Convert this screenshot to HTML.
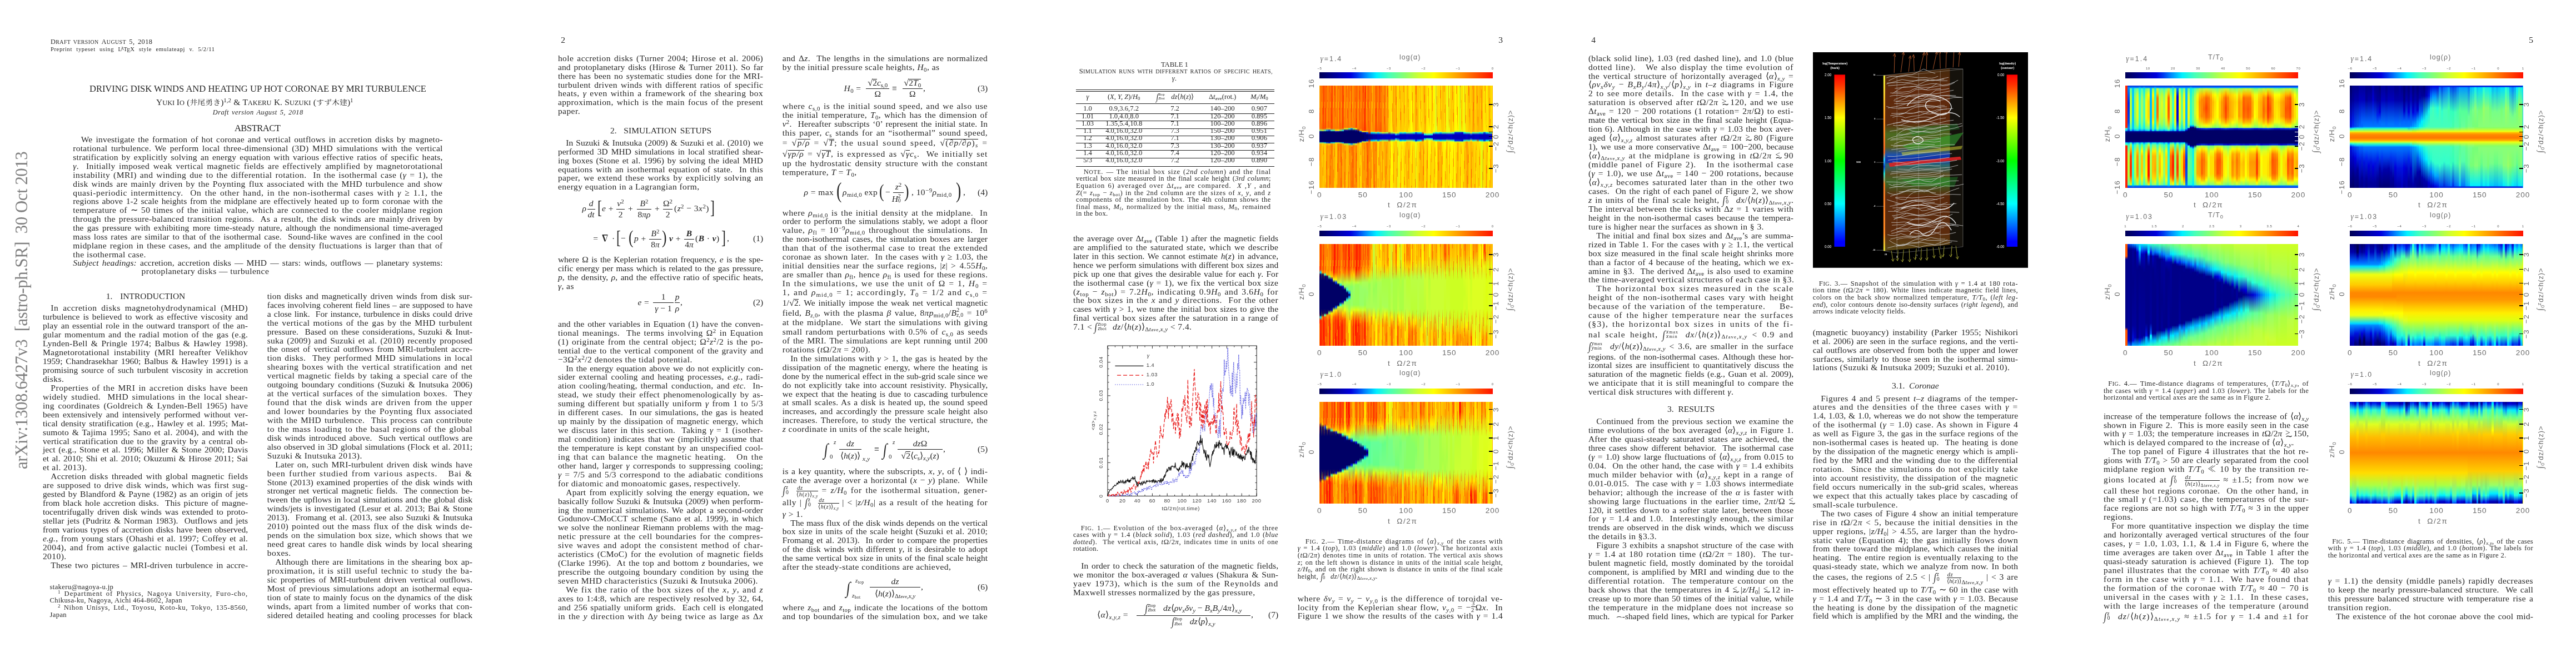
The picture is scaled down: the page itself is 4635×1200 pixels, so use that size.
<!DOCTYPE html>
<html><head><meta charset="utf-8"><title>Driving disk winds</title><style>
html,body{margin:0;padding:0}
body{width:4635px;height:1200px;overflow:hidden;position:relative;background:#fff;font-family:"Liberation Serif","Noto Serif CJK JP",serif;color:#262626}
#pg{position:absolute;left:0;top:0;width:4635px;height:1200px;will-change:transform}
.l{position:absolute;white-space:nowrap;line-height:1.15}
.j{text-align:justify;text-align-last:justify}
.a{position:absolute;white-space:nowrap}
.r{letter-spacing:.029em}
.sc{font-size:.8em}
.cjk{font-family:"Noto Serif CJK JP",serif;font-size:.9em;display:inline-block;transform:scaleY(.86);transform-origin:50% 78%}
sup,sub{font-size:.7em;line-height:0}
sup{vertical-align:.45em} sub{vertical-align:-.25em}
i{font-style:italic}
.ft{position:absolute;white-space:nowrap;font-family:"Liberation Sans",sans-serif;line-height:1}
.ft sub,.ft sup{font-size:.75em}
.hm{position:absolute;display:flex;overflow:hidden}
.hm b{flex:1 1 0;display:block;height:100%}
.hm i{position:absolute;left:0;width:100%;display:block}
.cb{position:absolute}

.rt{font-size:1.05em}
.gs{display:inline-block;position:relative;line-height:1;top:-.15em}
.gs span{position:absolute;left:0;top:.42em}
.ov{background:linear-gradient(#222,#222) 0 .1em/100% 1px no-repeat}
.ss{display:inline-block;position:relative;width:.9em;height:1em;vertical-align:baseline;font-size:.9em}
.ss sup{position:absolute;left:0;top:-.1em;line-height:1;vertical-align:baseline}
.ss sub{position:absolute;left:0;top:.75em;line-height:1;vertical-align:baseline}
.si{display:inline-block;font-size:1.3em;line-height:0;transform:scaleX(.8) skewX(-8deg);position:relative;top:.1em}
.sf{display:inline-block;margin:-.9em 0;vertical-align:-.55em;text-align:center;font-size:.68em;line-height:1.05}
.sf .n{display:block;border-bottom:1px solid #222;padding:0 1px}
.sf .d{display:block}

</style></head><body><div id="pg">
<div id="stamp" style="position:absolute;left:49.6px;top:844px;width:570px;transform-origin:0 0;transform:rotate(-90deg);white-space:nowrap;font:30.8px 'Liberation Serif',serif;color:#7f7f7f;line-height:1;letter-spacing:-0.42px;text-align:justify;text-align-last:justify"><div style="position:relative;top:-25.8px;text-align:justify;text-align-last:justify">arXiv:1308.6427v3&nbsp; [astro-ph.SR]&nbsp; 30 Oct 2013</div></div>
<div class="l j" style="left: 90.9px; top: 68.4px; font-size: 12.4px; width: 183.5px; letter-spacing: 0.431px;">D<span class="sc">RAFT VERSION </span>A<span class="sc">UGUST</span> 5, 2018</div>
<div class="l j" style="left: 90.9px; top: 83px; font-size: 10.6px; width: 295.9px; letter-spacing: 0.628px;">Preprint typeset using L<span style="font-size:.72em;position:relative;top:-.22em;margin-left:-.3em">A</span><span style="margin-left:-.1em">T</span><span style="position:relative;top:.2em;margin-left:-.12em">E</span><span style="margin-left:-.1em">X</span> style emulateapj v. 5/2/11</div>
<div class="l j" style="left: 161px; top: 149.6px; font-size: 16.6px; width: 605.9px; letter-spacing: -0.074px;">DRIVING DISK WINDS AND HEATING UP HOT CORONAE BY MRI TURBULENCE</div>
<div class="l j" style="left: 281px; top: 175.1px; font-size: 15.5px; width: 354.5px;">Y<span class="sc">UKI </span>I<span class="sc">O</span> (<span class="cjk">井尾勇き</span>)<sup>1,2</sup> &amp; T<span class="sc">AKERU</span> K. S<span class="sc">UZUKI</span> (<span class="cjk">すず木建</span>)<sup>1</sup></div>
<div class="l j" style="left: 382.8px; top: 195px; font-size: 12.4px; width: 162.8px; letter-spacing: 0.439px;"><i>Draft version August 5, 2018</i></div>
<div class="l j" style="left: 421.9px; top: 220.7px; font-size: 16.6px; width: 84.1px; letter-spacing: -0.509px;">ABSTRACT</div>
<div class="l j" style="left: 145.7px; top: 242.3px; font-size: 15.5px; width: 650.9px; letter-spacing: 0.245px;">We investigate the formation of hot coronae and vertical outflows in accretion disks by magneto-</div>
<div class="l j" style="left: 131.3px; top: 258.1px; font-size: 15.5px; width: 665.3px; letter-spacing: 0.266px;">rotational turbulence. We perform local three-dimensional (3D) MHD simulations with the vertical</div>
<div class="l j" style="left: 131.3px; top: 274px; font-size: 15.5px; width: 665.3px; letter-spacing: 0.212px;">stratification by explicitly solving an energy equation with various effective ratios of specific heats,</div>
<div class="l j" style="left: 131.3px; top: 289.9px; font-size: 15.5px; width: 665.3px; letter-spacing: 0.384px;"><i>γ</i>.&nbsp; Initially imposed weak vertical magnetic fields are effectively amplified by magnetorotational</div>
<div class="l j" style="left: 131.3px; top: 305.8px; font-size: 15.5px; width: 665.3px; letter-spacing: 0.443px;">instability (MRI) and winding due to the differential rotation.&nbsp; In the isothermal case (<i>γ</i> = 1), the</div>
<div class="l j" style="left: 131.3px; top: 321.7px; font-size: 15.5px; width: 665.3px; letter-spacing: 0.364px;">disk winds are mainly driven by the Poynting flux associated with the MHD turbulence and show</div>
<div class="l j" style="left: 131.3px; top: 337.5px; font-size: 15.5px; width: 665.3px; letter-spacing: 0.639px;">quasi-periodic intermittency.&nbsp; On the other hand, in the non-isothermal cases with <i>γ</i> ≥ 1.1, the</div>
<div class="l j" style="left: 131.3px; top: 353.4px; font-size: 15.5px; width: 665.3px; letter-spacing: 0.123px;">regions above 1-2 scale heights from the midplane are effectively heated up to form coronae with the</div>
<div class="l j" style="left: 131.3px; top: 369.3px; font-size: 15.5px; width: 665.3px; letter-spacing: 0.367px;">temperature of ∼ 50 times of the initial value, which are connected to the cooler midplane region</div>
<div class="l j" style="left: 131.3px; top: 385.2px; font-size: 15.5px; width: 665.3px; letter-spacing: 0.334px;">through the pressure-balanced transition regions.&nbsp; As a result, the disk winds are mainly driven by</div>
<div class="l j" style="left: 131.3px; top: 401.1px; font-size: 15.5px; width: 665.3px; letter-spacing: 0.069px;">the gas pressure with exhibiting more time-steady nature, although the nondimensional time-averaged</div>
<div class="l j" style="left: 131.3px; top: 416.9px; font-size: 15.5px; width: 665.3px; letter-spacing: 0.214px;">mass loss rates are similar to that of the isothermal case.&nbsp; Sound-like waves are confined in the cool</div>
<div class="l j" style="left: 131.3px; top: 432.8px; font-size: 15.5px; width: 665.3px; letter-spacing: 0.368px;">midplane region in these cases, and the amplitude of the density fluctuations is larger than that of</div>
<div class="l r" style="left:131.3px;top:448.7px;font-size:15.5px;">the isothermal case.</div>
<div class="l j" style="left: 131.3px; top: 463.5px; font-size: 15.5px; width: 665.3px; letter-spacing: 0.111px;"><i>Subject headings:</i> accretion, accretion disks — MHD — stars: winds, outflows — planetary systems:</div>
<div class="l r" style="left:254.6px;top:479.3px;font-size:15.5px;">protoplanetary disks — turbulence</div>
<div class="l j" style="left: 190.7px; top: 523.8px; font-size: 15.5px; width: 142.6px;">1.&nbsp; INTRODUCTION</div>
<div class="l j" style="left: 91.3px; top: 545.4px; font-size: 15.5px; width: 354.9px; letter-spacing: 0.501px;">In accretion disks magnetohydrodynamical (MHD)</div>
<div class="l j" style="left: 76.9px; top: 561.3px; font-size: 15.5px; width: 369.3px; letter-spacing: 0.123px;">turbulence is believed to work as effective viscosity and</div>
<div class="l j" style="left: 76.9px; top: 577.2px; font-size: 15.5px; width: 369.3px; letter-spacing: 0.146px;">play an essential role in the outward transport of the an-</div>
<div class="l j" style="left: 76.9px; top: 593.2px; font-size: 15.5px; width: 369.3px; letter-spacing: 0.314px;">gular momentum and the radial motion of the gas (e.g.</div>
<div class="l j" style="left: 76.9px; top: 609.1px; font-size: 15.5px; width: 369.3px; letter-spacing: 0.288px;">Lynden-Bell &amp; Pringle 1974; Balbus &amp; Hawley 1998).</div>
<div class="l j" style="left: 76.9px; top: 625.1px; font-size: 15.5px; width: 369.3px; letter-spacing: 0.327px;">Magnetorotational instability (MRI hereafter Velikhov</div>
<div class="l j" style="left: 76.9px; top: 641px; font-size: 15.5px; width: 369.3px; letter-spacing: 0.062px;">1959; Chandrasekhar 1960; Balbus &amp; Hawley 1991) is a</div>
<div class="l j" style="left: 76.9px; top: 656.9px; font-size: 15.5px; width: 369.3px; letter-spacing: 0.05px;">promising source of such turbulent viscosity in accretion</div>
<div class="l r" style="left:76.9px;top:672.9px;font-size:15.5px;">disks.</div>
<div class="l j" style="left: 91.3px; top: 688.8px; font-size: 15.5px; width: 354.9px; letter-spacing: 0.53px;">Properties of the MRI in accretion disks have been</div>
<div class="l j" style="left: 76.9px; top: 704.8px; font-size: 15.5px; width: 369.3px; letter-spacing: 0.507px;">widely studied.&nbsp; MHD simulations in the local shear-</div>
<div class="l j" style="left: 76.9px; top: 720.7px; font-size: 15.5px; width: 369.3px; letter-spacing: 0.351px;">ing coordinates (Goldreich &amp; Lynden-Bell 1965) have</div>
<div class="l j" style="left: 76.9px; top: 736.6px; font-size: 15.5px; width: 369.3px; letter-spacing: 0.081px;">been extensively and intensively performed without ver-</div>
<div class="l j" style="left: 76.9px; top: 752.6px; font-size: 15.5px; width: 369.3px; letter-spacing: 0.041px;">tical density stratification (e.g., Hawley et al. 1995; Mat-</div>
<div class="l j" style="left: 76.9px; top: 768.5px; font-size: 15.5px; width: 369.3px; letter-spacing: 0.266px;">sumoto &amp; Tajima 1995; Sano et al. 2004), and with the</div>
<div class="l j" style="left: 76.9px; top: 784.5px; font-size: 15.5px; width: 369.3px; letter-spacing: 0.209px;">vertical stratification due to the gravity by a central ob-</div>
<div class="l j" style="left: 76.9px; top: 800.4px; font-size: 15.5px; width: 369.3px; letter-spacing: 0.132px;">ject (e.g., Stone et al. 1996; Miller &amp; Stone 2000; Davis</div>
<div class="l j" style="left: 76.9px; top: 816.3px; font-size: 15.5px; width: 369.3px; letter-spacing: 0.045px;">et al. 2010; Shi et al. 2010; Okuzumi &amp; Hirose 2011; Sai</div>
<div class="l r" style="left:76.9px;top:832.3px;font-size:15.5px;">et al. 2013).</div>
<div class="l j" style="left: 91.3px; top: 848.2px; font-size: 15.5px; width: 354.9px; letter-spacing: 0.261px;">Accretion disks threaded with global magnetic fields</div>
<div class="l j" style="left: 76.9px; top: 864.2px; font-size: 15.5px; width: 369.3px; letter-spacing: 0.347px;">are supposed to drive disk winds, which was first sug-</div>
<div class="l j" style="left: 76.9px; top: 880.1px; font-size: 15.5px; width: 369.3px; letter-spacing: 0.137px;">gested by Blandford &amp; Payne (1982) as an origin of jets</div>
<div class="l j" style="left: 76.9px; top: 896px; font-size: 15.5px; width: 369.3px; letter-spacing: 0.126px;">from black hole accretion disks.&nbsp; This picture of magne-</div>
<div class="l j" style="left: 76.9px; top: 912px; font-size: 15.5px; width: 369.3px; letter-spacing: 0.066px;">tocentrifugally driven disk winds was extended to proto-</div>
<div class="l j" style="left: 76.9px; top: 927.9px; font-size: 15.5px; width: 369.3px; letter-spacing: 0.104px;">stellar jets (Pudritz &amp; Norman 1983).&nbsp; Outflows and jets</div>
<div class="l j" style="left: 76.9px; top: 943.9px; font-size: 15.5px; width: 369.3px;">from various types of accretion disks have been observed,</div>
<div class="l j" style="left: 76.9px; top: 959.8px; font-size: 15.5px; width: 369.3px; letter-spacing: 0.221px;"><i>e.g.</i>, from young stars (Ohashi et al. 1997; Coffey et al.</div>
<div class="l j" style="left: 76.9px; top: 975.7px; font-size: 15.5px; width: 369.3px; letter-spacing: 0.432px;">2004), and from active galactic nuclei (Tombesi et al.</div>
<div class="l r" style="left:76.9px;top:991.7px;font-size:15.5px;">2010).</div>
<div class="l j" style="left: 91.3px; top: 1007.6px; font-size: 15.5px; width: 354.9px; letter-spacing: 0.137px;">These two pictures – MRI-driven turbulence in accre-</div>
<div class="l j" style="left: 480.8px; top: 523.8px; font-size: 15.5px; width: 369.3px; letter-spacing: 0.158px;">tion disks and magnetically driven winds from disk sur-</div>
<div class="l j" style="left: 480.8px; top: 539.7px; font-size: 15.5px; width: 369.3px;">faces involving coherent field lines – are supposed to have</div>
<div class="l j" style="left: 480.8px; top: 555.6px; font-size: 15.5px; width: 369.3px;">a close link.&nbsp; For instance, turbulence in disks could drive</div>
<div class="l j" style="left: 480.8px; top: 571.6px; font-size: 15.5px; width: 369.3px; letter-spacing: 0.485px;">the vertical motions of the gas by the MHD turbulent</div>
<div class="l j" style="left: 480.8px; top: 587.5px; font-size: 15.5px; width: 369.3px; letter-spacing: 0.074px;">pressure.&nbsp; Based on these considerations, Suzuki &amp; Inut-</div>
<div class="l j" style="left: 480.8px; top: 603.5px; font-size: 15.5px; width: 369.3px; letter-spacing: 0.26px;">suka (2009) and Suzuki et al. (2010) recently proposed</div>
<div class="l j" style="left: 480.8px; top: 619.4px; font-size: 15.5px; width: 369.3px; letter-spacing: 0.082px;">the onset of vertical outflows from MRl-turbulent accre-</div>
<div class="l j" style="left: 480.8px; top: 635.3px; font-size: 15.5px; width: 369.3px; letter-spacing: 0.341px;">tion disks.&nbsp; They performed MHD simulations in local</div>
<div class="l j" style="left: 480.8px; top: 651.3px; font-size: 15.5px; width: 369.3px; letter-spacing: 0.475px;">shearing boxes with the vertical stratification and net</div>
<div class="l j" style="left: 480.8px; top: 667.2px; font-size: 15.5px; width: 369.3px; letter-spacing: 0.359px;">vertical magnetic fields by taking a special care of the</div>
<div class="l j" style="left: 480.8px; top: 683.2px; font-size: 15.5px; width: 369.3px; letter-spacing: 0.061px;">outgoing boundary conditions (Suzuki &amp; Inutsuka 2006)</div>
<div class="l j" style="left: 480.8px; top: 699.1px; font-size: 15.5px; width: 369.3px; letter-spacing: 0.425px;">at the vertical surfaces of the simulation boxes.&nbsp; They</div>
<div class="l j" style="left: 480.8px; top: 715px; font-size: 15.5px; width: 369.3px; letter-spacing: 0.697px;">found that the disk winds are driven from the upper</div>
<div class="l j" style="left: 480.8px; top: 731px; font-size: 15.5px; width: 369.3px; letter-spacing: 0.435px;">and lower boundaries by the Poynting flux associated</div>
<div class="l j" style="left: 480.8px; top: 746.9px; font-size: 15.5px; width: 369.3px; letter-spacing: 0.254px;">with the MHD turbulence.&nbsp; This process can contribute</div>
<div class="l j" style="left: 480.8px; top: 762.9px; font-size: 15.5px; width: 369.3px; letter-spacing: 0.523px;">to the mass loading to the basal regions of the global</div>
<div class="l j" style="left: 480.8px; top: 778.8px; font-size: 15.5px; width: 369.3px; letter-spacing: 0.051px;">disk winds introduced above.&nbsp; Such vertical outflows are</div>
<div class="l j" style="left: 480.8px; top: 794.7px; font-size: 15.5px; width: 369.3px;">also observed in 3D global simulations (Flock et al. 2011;</div>
<div class="l r" style="left:480.8px;top:810.7px;font-size:15.5px;">Suzuki &amp; Inutsuka 2013).</div>
<div class="l j" style="left: 495.2px; top: 826.6px; font-size: 15.5px; width: 354.9px; letter-spacing: 0.215px;">Later on, such MRI-turbulent driven disk winds have</div>
<div class="l j" style="left: 480.8px; top: 842.6px; font-size: 15.5px; width: 369.3px; letter-spacing: 0.909px;">been further studied from various aspects.&nbsp;&nbsp; Bai &amp;</div>
<div class="l j" style="left: 480.8px; top: 858.5px; font-size: 15.5px; width: 369.3px; letter-spacing: 0.043px;">Stone (2013) examined properties of the disk winds with</div>
<div class="l j" style="left: 480.8px; top: 874.4px; font-size: 15.5px; width: 369.3px;">stronger net vertical magnetic fields.&nbsp; The connection be-</div>
<div class="l j" style="left: 480.8px; top: 890.4px; font-size: 15.5px; width: 369.3px;">tween the upflows in local simulations and the global disk</div>
<div class="l j" style="left: 480.8px; top: 906.3px; font-size: 15.5px; width: 369.3px;">winds/jets is investigated (Lesur et al. 2013; Bai &amp; Stone</div>
<div class="l j" style="left: 480.8px; top: 922.3px; font-size: 15.5px; width: 369.3px;">2013).&nbsp; Fromang et al. (2013, see also Suzuki &amp; Inutsuka</div>
<div class="l j" style="left: 480.8px; top: 938.2px; font-size: 15.5px; width: 369.3px; letter-spacing: 0.451px;">2010) pointed out the mass flux of the disk winds de-</div>
<div class="l j" style="left: 480.8px; top: 954.1px; font-size: 15.5px; width: 369.3px; letter-spacing: 0.272px;">pends on the simulation box size, which shows that we</div>
<div class="l j" style="left: 480.8px; top: 970.1px; font-size: 15.5px; width: 369.3px; letter-spacing: 0.24px;">need great cares to handle disk winds by local shearing</div>
<div class="l r" style="left:480.8px;top:986.0px;font-size:15.5px;">boxes.</div>
<div class="l j" style="left: 495.2px; top: 1002px; font-size: 15.5px; width: 354.9px; letter-spacing: 0.155px;">Although there are limitations in the shearing box ap-</div>
<div class="l j" style="left: 480.8px; top: 1017.9px; font-size: 15.5px; width: 369.3px; letter-spacing: 0.55px;">proximation, it is still useful technic to study the ba-</div>
<div class="l j" style="left: 480.8px; top: 1033.8px; font-size: 15.5px; width: 369.3px; letter-spacing: 0.08px;">sic properties of MRI-turbulent driven vertical outflows.</div>
<div class="l j" style="left: 480.8px; top: 1049.8px; font-size: 15.5px; width: 369.3px; letter-spacing: 0.164px;">Most of previous simulations adopt an isothermal equa-</div>
<div class="l j" style="left: 480.8px; top: 1065.7px; font-size: 15.5px; width: 369.3px; letter-spacing: 0.11px;">tion of state to mainly focus on the dynamics of the disk</div>
<div class="l j" style="left: 480.8px; top: 1081.7px; font-size: 15.5px; width: 369.3px; letter-spacing: 0.338px;">winds, apart from a limited number of works that con-</div>
<div class="l j" style="left: 480.8px; top: 1097.6px; font-size: 15.5px; width: 369.3px; letter-spacing: 0.144px;">sidered detailed heating and cooling processes for black</div>
<div class="l r" style="left:89.5px;top:1048.6px;font-size:12.6px;">stakeru@nagoya-u.jp</div>
<div class="l j" style="left: 103.9px; top: 1061.2px; font-size: 12.6px; width: 342.3px; letter-spacing: 0.939px;"><sup>1</sup> Department of Physics, Nagoya University, Furo-cho,</div>
<div class="l r" style="left:89.5px;top:1073.4px;font-size:12.6px;">Chikusa-ku, Nagoya, Aichi 464-8602, Japan</div>
<div class="l j" style="left: 103.9px; top: 1086.4px; font-size: 12.6px; width: 342.3px; letter-spacing: 0.681px;"><sup>2</sup> Nihon Unisys, Ltd., Toyosu, Koto-ku, Tokyo, 135-8560,</div>
<div class="l r" style="left:89.5px;top:1099.0px;font-size:12.6px;">Japan</div>
<div class="l r" style="left:1009.3px;top:63.3px;font-size:15.5px;">2</div>
<div class="l j" style="left: 1003.9px; top: 95.7px; font-size: 15.5px; width: 369.3px; letter-spacing: 0.414px;">hole accretion disks (Turner 2004; Hirose et al. 2006)</div>
<div class="l j" style="left: 1003.9px; top: 111.6px; font-size: 15.5px; width: 369.3px; letter-spacing: 0.108px;">and protoplanetary disks (Hirose &amp; Turner 2011). So far</div>
<div class="l j" style="left: 1003.9px; top: 127.5px; font-size: 15.5px; width: 369.3px; letter-spacing: 0.244px;">there has been no systematic studies done for the MRI-</div>
<div class="l j" style="left: 1003.9px; top: 143.5px; font-size: 15.5px; width: 369.3px; letter-spacing: 0.333px;">turbulent driven winds with different ratios of specific</div>
<div class="l j" style="left: 1003.9px; top: 159.4px; font-size: 15.5px; width: 369.3px; letter-spacing: 0.509px;">heats, <i>γ</i> even within a framework of the shearing box</div>
<div class="l j" style="left: 1003.9px; top: 175.4px; font-size: 15.5px; width: 369.3px; letter-spacing: 0.395px;">approximation, which is the main focus of the present</div>
<div class="l r" style="left:1003.9px;top:191.3px;font-size:15.5px;">paper.</div>
<div class="l j" style="left: 1097.9px; top: 225.7px; font-size: 15.5px; width: 182.2px; letter-spacing: 0.045px;">2.&nbsp; SIMULATION SETUPS</div>
<div class="l j" style="left: 1018.3px; top: 247.7px; font-size: 15.5px; width: 354.9px;">In Suzuki &amp; Inutsuka (2009) &amp; Suzuki et al. (2010) we</div>
<div class="l j" style="left: 1003.9px; top: 263.6px; font-size: 15.5px; width: 369.3px;">performed 3D MHD simulations in local stratified shear-</div>
<div class="l j" style="left: 1003.9px; top: 279.5px; font-size: 15.5px; width: 369.3px; letter-spacing: 0.196px;">ing boxes (Stone et al. 1996) by solving the ideal MHD</div>
<div class="l j" style="left: 1003.9px; top: 295.5px; font-size: 15.5px; width: 369.3px; letter-spacing: 0.335px;">equations with an isothermal equation of state.&nbsp; In this</div>
<div class="l j" style="left: 1003.9px; top: 311.4px; font-size: 15.5px; width: 369.3px; letter-spacing: 0.423px;">paper, we extend these works by explicitly solving an</div>
<div class="l r" style="left:1003.9px;top:327.4px;font-size:15.5px;">energy equation in a Lagrangian form,</div>
<div class="l r" style="left:1047.5px;top:366.3px;font-size:15.5px;"><i>ρ</i></div>
<div class="l" style="left:863.5px;width:400px;text-align:center;top:356.7px;font-size:15.5px;"><i>d</i></div>
<div style="position:absolute;left:1056.5px;top:375.7px;width:14.0px;height:1px;background:#222"></div>
<div class="l" style="left:863.5px;width:400px;text-align:center;top:376.9px;font-size:15.5px;"><i>dt</i></div>
<div class="l r" style="left:1074.5px;top:353.4px;font-size:34px;transform:scaleX(.7);transform-origin:0 0;font-weight:100">[</div>
<div class="l r" style="left:1083.0px;top:366.3px;font-size:15.5px;"><i>e</i> +</div>
<div class="l" style="left:916.5px;width:400px;text-align:center;top:356.7px;font-size:15.5px;"><i>v</i><sup>2</sup></div>
<div style="position:absolute;left:1109.0px;top:375.7px;width:15.0px;height:1px;background:#222"></div>
<div class="l" style="left:916.5px;width:400px;text-align:center;top:376.9px;font-size:15.5px;">2</div>
<div class="l r" style="left:1130.0px;top:366.3px;font-size:15.5px;">+</div>
<div class="l" style="left:959.0px;width:400px;text-align:center;top:356.7px;font-size:15.5px;"><i>B</i><sup>2</sup></div>
<div style="position:absolute;left:1146.0px;top:375.7px;width:26.0px;height:1px;background:#222"></div>
<div class="l" style="left:959.0px;width:400px;text-align:center;top:376.9px;font-size:15.5px;">8<i>πρ</i></div>
<div class="l r" style="left:1178.0px;top:366.3px;font-size:15.5px;">+</div>
<div class="l" style="left:1001.5px;width:400px;text-align:center;top:356.7px;font-size:15.5px;">Ω<sup>2</sup></div>
<div style="position:absolute;left:1193.0px;top:375.7px;width:17.0px;height:1px;background:#222"></div>
<div class="l" style="left:1001.5px;width:400px;text-align:center;top:376.9px;font-size:15.5px;">2</div>
<div class="l r" style="left:1213.0px;top:366.3px;font-size:15.5px;">(<i>z</i><sup>2</sup> − 3<i>x</i><sup>2</sup>)</div>
<div class="l r" style="left:1278.0px;top:353.4px;font-size:34px;transform:scaleX(.7);transform-origin:0 0;font-weight:100">]</div>
<div class="l r" style="left:1067.3px;top:420.2px;font-size:15.5px;">= <b>∇</b> ·</div>
<div class="l r" style="left:1109.0px;top:407.3px;font-size:34px;transform:scaleX(.7);transform-origin:0 0">[</div>
<div class="l r" style="left:1117.0px;top:420.2px;font-size:15.5px;">−</div>
<div class="l r" style="left:1131.0px;top:407.3px;font-size:34px;transform:scaleX(.75);transform-origin:0 0">(</div>
<div class="l r" style="left:1141.0px;top:420.2px;font-size:15.5px;"><i>p</i> +</div>
<div class="l" style="left:979.0px;width:400px;text-align:center;top:410.6px;font-size:15.5px;"><i>B</i><sup>2</sup></div>
<div style="position:absolute;left:1168.0px;top:429.6px;width:22.0px;height:1px;background:#222"></div>
<div class="l" style="left:979.0px;width:400px;text-align:center;top:430.8px;font-size:15.5px;">8<i>π</i></div>
<div class="l r" style="left:1191.0px;top:407.3px;font-size:34px;transform:scaleX(.75);transform-origin:0 0">)</div>
<div class="l r" style="left:1204.0px;top:420.2px;font-size:15.5px;"><b><i>v</i></b> +</div>
<div class="l" style="left:1040.0px;width:400px;text-align:center;top:410.6px;font-size:15.5px;"><b><i>B</i></b></div>
<div style="position:absolute;left:1231.0px;top:429.6px;width:18.0px;height:1px;background:#222"></div>
<div class="l" style="left:1040.0px;width:400px;text-align:center;top:430.8px;font-size:15.5px;">4<i>π</i></div>
<div class="l r" style="left:1251.0px;top:420.2px;font-size:15.5px;">(<b><i>B</i></b> · <b><i>v</i></b>)</div>
<div class="l r" style="left:1298.0px;top:407.3px;font-size:34px;transform:scaleX(.7);transform-origin:0 0">]</div>
<div class="l r" style="left:1308.0px;top:420.2px;font-size:15.5px;">,</div>
<div class="l" style="left:973.2px;width:400px;text-align:right;top:420.2px;font-size:15.5px;">(1)</div>
<div class="l j" style="left: 1003.9px; top: 458px; font-size: 15.5px; width: 369.3px;">where Ω is the Keplerian rotation frequency, <i>e</i> is the spe-</div>
<div class="l j" style="left: 1003.9px; top: 473.9px; font-size: 15.5px; width: 369.3px;">cific energy per mass which is related to the gas pressure,</div>
<div class="l j" style="left: 1003.9px; top: 489.8px; font-size: 15.5px; width: 369.3px; letter-spacing: 0.094px;"><i>p</i>, the density, <i>ρ</i>, and the effective ratio of specific heats,</div>
<div class="l r" style="left:1003.9px;top:505.8px;font-size:15.5px;"><i>γ</i>, as</div>
<div class="l r" style="left:1147.4px;top:534.9px;font-size:15.5px;"><i>e</i> =</div>
<div class="l" style="left:993.5px;width:400px;text-align:center;top:525.3px;font-size:15.5px;">1</div>
<div style="position:absolute;left:1175.0px;top:544.3px;width:37.0px;height:1px;background:#222"></div>
<div class="l" style="left:993.5px;width:400px;text-align:center;top:545.5px;font-size:15.5px;"><i>γ</i> − 1</div>
<div class="l" style="left:1018.5px;width:400px;text-align:center;top:525.3px;font-size:15.5px;"><i>p</i></div>
<div style="position:absolute;left:1214.0px;top:544.3px;width:9.0px;height:1px;background:#222"></div>
<div class="l" style="left:1018.5px;width:400px;text-align:center;top:545.5px;font-size:15.5px;"><i>ρ</i></div>
<div class="l r" style="left:1224.0px;top:534.9px;font-size:15.5px;">,</div>
<div class="l" style="left:973.2px;width:400px;text-align:right;top:534.9px;font-size:15.5px;">(2)</div>
<div class="l j" style="left: 1003.9px; top: 573.8px; font-size: 15.5px; width: 369.3px; letter-spacing: 0.113px;">and the other variables in Equation (1) have the conven-</div>
<div class="l j" style="left: 1003.9px; top: 589.7px; font-size: 15.5px; width: 369.3px; letter-spacing: 0.429px;">tional meanings.&nbsp; The terms involving Ω<sup>2</sup> in Equation</div>
<div class="l j" style="left: 1003.9px; top: 605.6px; font-size: 15.5px; width: 369.3px; letter-spacing: 0.405px;">(1) originate from the central object; Ω<sup>2</sup><i>z</i><sup>2</sup>/2 is the po-</div>
<div class="l j" style="left: 1003.9px; top: 621.6px; font-size: 15.5px; width: 369.3px; letter-spacing: 0.251px;">tential due to the vertical component of the gravity and</div>
<div class="l r" style="left:1003.9px;top:637.5px;font-size:15.5px;">−3Ω<sup>2</sup><i>x</i><sup>2</sup>/2 denotes the tidal potential.</div>
<div class="l j" style="left: 1018.3px; top: 653.5px; font-size: 15.5px; width: 354.9px; letter-spacing: 0.041px;">In the energy equation above we do not explicitly con-</div>
<div class="l j" style="left: 1003.9px; top: 669.4px; font-size: 15.5px; width: 369.3px; letter-spacing: 0.247px;">sider external cooling and heating processes, <i>e.g.,</i> radi-</div>
<div class="l j" style="left: 1003.9px; top: 685.3px; font-size: 15.5px; width: 369.3px; letter-spacing: 0.243px;">ation cooling/heating, thermal conduction, and <i>etc</i>.&nbsp; In-</div>
<div class="l j" style="left: 1003.9px; top: 701.3px; font-size: 15.5px; width: 369.3px; letter-spacing: 0.305px;">stead, we study their effect phenomenologically by as-</div>
<div class="l j" style="left: 1003.9px; top: 717.2px; font-size: 15.5px; width: 369.3px; letter-spacing: 0.422px;">suming different but spatially uniform <i>γ</i> from 1 to 5/3</div>
<div class="l j" style="left: 1003.9px; top: 733.2px; font-size: 15.5px; width: 369.3px; letter-spacing: 0.254px;">in different cases.&nbsp; In our simulations, the gas is heated</div>
<div class="l j" style="left: 1003.9px; top: 749.1px; font-size: 15.5px; width: 369.3px; letter-spacing: 0.204px;">up mainly by the dissipation of magnetic energy, which</div>
<div class="l j" style="left: 1003.9px; top: 765px; font-size: 15.5px; width: 369.3px; letter-spacing: 0.385px;">we discuss later in this section.&nbsp; Taking <i>γ</i> = 1 (isother-</div>
<div class="l j" style="left: 1003.9px; top: 781px; font-size: 15.5px; width: 369.3px; letter-spacing: 0.08px;">mal condition) indicates that we (implicitly) assume that</div>
<div class="l j" style="left: 1003.9px; top: 796.9px; font-size: 15.5px; width: 369.3px; letter-spacing: 0.151px;">the temperature is kept constant by an unspecified cool-</div>
<div class="l j" style="left: 1003.9px; top: 812.9px; font-size: 15.5px; width: 369.3px; letter-spacing: 0.799px;">ing that can balance the magnetic heating.&nbsp;&nbsp; On the</div>
<div class="l j" style="left: 1003.9px; top: 828.8px; font-size: 15.5px; width: 369.3px; letter-spacing: 0.154px;">other hand, larger <i>γ</i> corresponds to suppressing cooling;</div>
<div class="l j" style="left: 1003.9px; top: 844.7px; font-size: 15.5px; width: 369.3px; letter-spacing: 0.415px;"><i>γ</i> = 7/5 and 5/3 correspond to the adiabatic conditions</div>
<div class="l r" style="left:1003.9px;top:860.7px;font-size:15.5px;">for diatomic and monoatomic gases, respectively.</div>
<div class="l j" style="left: 1018.3px; top: 876.6px; font-size: 15.5px; width: 354.9px; letter-spacing: 0.147px;">Apart from explicitly solving the energy equation, we</div>
<div class="l j" style="left: 1003.9px; top: 892.6px; font-size: 15.5px; width: 369.3px;">basically follow Suzuki &amp; Inutsuka (2009) when perform-</div>
<div class="l j" style="left: 1003.9px; top: 908.5px; font-size: 15.5px; width: 369.3px; letter-spacing: 0.169px;">ing the numerical simulations. We adopt a second-order</div>
<div class="l j" style="left: 1003.9px; top: 924.4px; font-size: 15.5px; width: 369.3px; letter-spacing: 0.079px;">Godunov-CMoCCT scheme (Sano et al. 1999), in which</div>
<div class="l j" style="left: 1003.9px; top: 940.4px; font-size: 15.5px; width: 369.3px; letter-spacing: 0.062px;">we solve the nonlinear Riemann problems with the mag-</div>
<div class="l j" style="left: 1003.9px; top: 956.3px; font-size: 15.5px; width: 369.3px; letter-spacing: 0.492px;">netic pressure at the cell boundaries for the compres-</div>
<div class="l j" style="left: 1003.9px; top: 972.3px; font-size: 15.5px; width: 369.3px; letter-spacing: 0.611px;">sive waves and adopt the consistent method of char-</div>
<div class="l j" style="left: 1003.9px; top: 988.2px; font-size: 15.5px; width: 369.3px; letter-spacing: 0.24px;">acteristics (CMoC) for the evolution of magnetic fields</div>
<div class="l j" style="left: 1003.9px; top: 1004.1px; font-size: 15.5px; width: 369.3px; letter-spacing: 0.251px;">(Clarke 1996).&nbsp; At the top and bottom <i>z</i> boundaries, we</div>
<div class="l j" style="left: 1003.9px; top: 1020.1px; font-size: 15.5px; width: 369.3px; letter-spacing: 0.212px;">prescribe the outgoing boundary condition by using the</div>
<div class="l r" style="left:1003.9px;top:1036.0px;font-size:15.5px;">seven MHD characteristics (Suzuki &amp; Inutsuka 2006).</div>
<div class="l j" style="left: 1018.3px; top: 1052px; font-size: 15.5px; width: 354.9px; letter-spacing: 0.739px;">We fix the ratio of the box sizes of the <i>x</i>, <i>y</i>, and <i>z</i></div>
<div class="l j" style="left: 1003.9px; top: 1067.9px; font-size: 15.5px; width: 369.3px; letter-spacing: 0.103px;">axes to 1:4:8, which are respectively resolved by 32, 64,</div>
<div class="l j" style="left: 1003.9px; top: 1083.8px; font-size: 15.5px; width: 369.3px; letter-spacing: 0.228px;">and 256 spatially uniform grids.&nbsp; Each cell is elongated</div>
<div class="l j" style="left: 1003.9px; top: 1099.8px; font-size: 15.5px; width: 369.3px; letter-spacing: 0.625px;">in the <i>y</i> direction with Δ<i>y</i> being twice as large as Δ<i>x</i></div>
<div class="l j" style="left: 1407.8px; top: 95.7px; font-size: 15.5px; width: 369.3px; letter-spacing: 0.327px;">and Δ<i>z</i>.&nbsp; The lengths in the simulations are normalized</div>
<div class="l r" style="left:1407.8px;top:111.6px;font-size:15.5px;">by the initial pressure scale heights, <i>H</i><sub>0</sub>, as</div>
<div class="l r" style="left:1518.5px;top:149.7px;font-size:15.5px;"><i>H</i><sub>0</sub> =</div>
<div class="l" style="left:1379.2px;width:400px;text-align:center;top:140.1px;font-size:15.5px;"><span class="rt">√</span><span class="ov">2</span><i>c</i><sub>s,0</sub></div>
<div style="position:absolute;left:1558.0px;top:159.1px;width:42.3px;height:1px;background:#222"></div>
<div class="l" style="left:1379.2px;width:400px;text-align:center;top:160.3px;font-size:15.5px;">Ω</div>
<div class="l r" style="left:1605.0px;top:149.7px;font-size:15.5px;">≡</div>
<div class="l" style="left:1441.7px;width:400px;text-align:center;top:140.1px;font-size:15.5px;"><span class="rt">√</span><span class="ov">2<i>T</i><sub>0</sub></span></div>
<div style="position:absolute;left:1623.7px;top:159.1px;width:36.0px;height:1px;background:#222"></div>
<div class="l" style="left:1441.7px;width:400px;text-align:center;top:160.3px;font-size:15.5px;">Ω</div>
<div class="l r" style="left:1661.0px;top:149.7px;font-size:15.5px;">,</div>
<div class="l" style="left:1377.1px;width:400px;text-align:right;top:149.7px;font-size:15.5px;">(3)</div>
<div class="l j" style="left: 1407.8px; top: 182.1px; font-size: 15.5px; width: 369.3px; letter-spacing: 0.573px;">where <i>c</i><sub>s,0</sub> is the initial sound speed, and we also use</div>
<div class="l j" style="left: 1407.8px; top: 198px; font-size: 15.5px; width: 369.3px; letter-spacing: 0.321px;">the initial temperature, <i>T</i><sub>0</sub>, which has the dimension of</div>
<div class="l j" style="left: 1407.8px; top: 213.9px; font-size: 15.5px; width: 369.3px; letter-spacing: 0.147px;"><i>v</i><sup>2</sup>.&nbsp; Hereafter subscripts ‘0’ represent the initial state. In</div>
<div class="l j" style="left: 1407.8px; top: 229.9px; font-size: 15.5px; width: 369.3px; letter-spacing: 0.472px;">this paper, <i>c</i><sub>s</sub> stands for an “isothermal” sound speed,</div>
<div class="l j" style="left: 1407.8px; top: 248.2px; font-size: 15.5px; width: 369.3px; letter-spacing: 1.21px;">= <span class="rt">√</span><span class="ov"><i>p/ρ</i></span> = <span class="rt">√</span><span class="ov"><i>T</i></span>; the usual sound speed, <span class="rt">√</span><span class="ov">(∂<i>p/</i>∂<i>ρ</i>)<sub><i>s</i></sub></span> =</div>
<div class="l j" style="left: 1407.8px; top: 268.4px; font-size: 15.5px; width: 369.3px; letter-spacing: 0.867px;"><span class="rt">√</span><span class="ov"><i>γp/ρ</i></span> = <span class="rt">√</span><span class="ov"><i>γT</i></span>, is expressed as <span class="rt">√</span><span class="ov"><i>γ</i></span><i>c</i><sub>s</sub>.&nbsp; We initially set</div>
<div class="l j" style="left: 1407.8px; top: 284.6px; font-size: 15.5px; width: 369.3px; letter-spacing: 0.499px;">up the hydrostatic density structure with the constant</div>
<div class="l r" style="left:1407.8px;top:300.5px;font-size:15.5px;">temperature, <i>T</i> = <i>T</i><sub>0</sub>,</div>
<div class="l r" style="left:1446.5px;top:337.0px;font-size:15.5px;"><i>ρ</i> = max</div>
<div class="l r" style="left:1505.0px;top:319.6px;font-size:40px;transform:scaleX(.7);transform-origin:0 0">(</div>
<div class="l r" style="left:1516.0px;top:337.0px;font-size:15.5px;"><i>ρ</i><sub>mid,0</sub> exp</div>
<div class="l r" style="left:1582.0px;top:324.1px;font-size:34px;transform:scaleX(.75);transform-origin:0 0">(</div>
<div class="l r" style="left:1593.0px;top:337.0px;font-size:15.5px;">−</div>
<div class="l" style="left:1416.5px;width:400px;text-align:center;top:327.4px;font-size:15.5px;"><i>z</i><sup>2</sup></div>
<div style="position:absolute;left:1607.0px;top:346.4px;width:19.0px;height:1px;background:#222"></div>
<div class="l" style="left:1416.5px;width:400px;text-align:center;top:349.0px;font-size:15.5px;"><i>H</i><span class="ss"><sup>2</sup><sub>0</sub></span></div>
<div class="l r" style="left:1627.0px;top:324.1px;font-size:34px;transform:scaleX(.75);transform-origin:0 0">)</div>
<div class="l r" style="left:1640.0px;top:337.0px;font-size:15.5px;">, 10<sup>−9</sup><i>ρ</i><sub>mid,0</sub></div>
<div class="l r" style="left:1720.0px;top:319.6px;font-size:40px;transform:scaleX(.7);transform-origin:0 0">)</div>
<div class="l r" style="left:1733.0px;top:337.0px;font-size:15.5px;">,</div>
<div class="l" style="left:1377.1px;width:400px;text-align:right;top:337.0px;font-size:15.5px;">(4)</div>
<div class="l j" style="left: 1407.8px; top: 373.5px; font-size: 15.5px; width: 369.3px; letter-spacing: 0.547px;">where <i>ρ</i><sub>mid,0</sub> is the initial density at the midplane.&nbsp; In</div>
<div class="l j" style="left: 1407.8px; top: 389.4px; font-size: 15.5px; width: 369.3px; letter-spacing: 0.09px;">order to perform the simulations stably, we adopt a floor</div>
<div class="l j" style="left: 1407.8px; top: 405.3px; font-size: 15.5px; width: 369.3px; letter-spacing: 0.518px;">value, <i>ρ</i><sub>fl</sub> = 10<sup>−9</sup><i>ρ</i><sub>mid,0</sub> throughout the simulations.&nbsp; In</div>
<div class="l j" style="left: 1407.8px; top: 421.3px; font-size: 15.5px; width: 369.3px; letter-spacing: 0.048px;">the non-isothermal cases, the simulation boxes are larger</div>
<div class="l j" style="left: 1407.8px; top: 437.2px; font-size: 15.5px; width: 369.3px; letter-spacing: 0.58px;">than that of the isothermal case to treat the extended</div>
<div class="l j" style="left: 1407.8px; top: 453.2px; font-size: 15.5px; width: 369.3px; letter-spacing: 0.328px;">coronae as shown later.&nbsp; In the cases with <i>γ</i> ≥ 1.03, the</div>
<div class="l j" style="left: 1407.8px; top: 469.1px; font-size: 15.5px; width: 369.3px; letter-spacing: 0.432px;">initial densities near the surface regions, |<i>z</i>| &gt; 4.55<i>H</i><sub>0</sub>,</div>
<div class="l j" style="left: 1407.8px; top: 485px; font-size: 15.5px; width: 369.3px; letter-spacing: 0.314px;">are smaller than <i>ρ</i><sub>fl</sub>, hence <i>ρ</i><sub>fl</sub> is used for these regions.</div>
<div class="l j" style="left: 1407.8px; top: 501px; font-size: 15.5px; width: 369.3px; letter-spacing: 0.977px;">In the simulations, we use the unit of Ω = 1, <i>H</i><sub>0</sub> =</div>
<div class="l j" style="left: 1407.8px; top: 516.9px; font-size: 15.5px; width: 369.3px; letter-spacing: 1.09px;">1, and <i>ρ</i><sub>mid,0</sub> = 1; accordingly, <i>T</i><sub>0</sub> = 1/2 and <i>c</i><sub>s,0</sub> =</div>
<div class="l j" style="left: 1407.8px; top: 536.3px; font-size: 15.5px; width: 369.3px; letter-spacing: 0.072px;">1/<span class="rt">√</span><span class="ov">2</span>. We initially impose the weak net vertical magnetic</div>
<div class="l j" style="left: 1407.8px; top: 554.3px; font-size: 15.5px; width: 369.3px; letter-spacing: 0.375px;">field, <i>B</i><sub><i>z</i>,0</sub>, with the plasma <i>β</i> value, 8<i>πp</i><sub>mid,0</sub>/<i>B</i><span class="ss"><sup>2</sup><sub><i>z</i>,0</sub></span> = 10<sup>6</sup></div>
<div class="l j" style="left: 1407.8px; top: 570.5px; font-size: 15.5px; width: 369.3px; letter-spacing: 0.439px;">at the midplane.&nbsp; We start the simulations with giving</div>
<div class="l j" style="left: 1407.8px; top: 587.6px; font-size: 15.5px; width: 369.3px; letter-spacing: 0.421px;">small random perturbations with 0.5% of <i>c</i><sub>s,0</sub> as seeds</div>
<div class="l j" style="left: 1407.8px; top: 603.9px; font-size: 15.5px; width: 369.3px; letter-spacing: 0.257px;">of the MRI. The simulations are kept running until 200</div>
<div class="l r" style="left:1407.8px;top:619.8px;font-size:15.5px;">rotations (<i>t</i>Ω/2<i>π</i> = 200).</div>
<div class="l j" style="left: 1422.2px; top: 635.7px; font-size: 15.5px; width: 354.9px; letter-spacing: 0.218px;">In the simulations with <i>γ</i> &gt; 1, the gas is heated by the</div>
<div class="l j" style="left: 1407.8px; top: 651.7px; font-size: 15.5px; width: 369.3px; letter-spacing: 0.182px;">dissipation of the magnetic energy, where the heating is</div>
<div class="l j" style="left: 1407.8px; top: 667.6px; font-size: 15.5px; width: 369.3px;">done by the numerical effect in the sub-grid scale since we</div>
<div class="l j" style="left: 1407.8px; top: 683.6px; font-size: 15.5px; width: 369.3px; letter-spacing: 0.066px;">do not explicitly take into account resistivity. Physically,</div>
<div class="l j" style="left: 1407.8px; top: 699.5px; font-size: 15.5px; width: 369.3px; letter-spacing: 0.036px;">we expect that the heating is due to cascading turbulence</div>
<div class="l j" style="left: 1407.8px; top: 715.4px; font-size: 15.5px; width: 369.3px; letter-spacing: 0.281px;">at small scales. As a disk is heated up, the sound speed</div>
<div class="l j" style="left: 1407.8px; top: 731.4px; font-size: 15.5px; width: 369.3px; letter-spacing: 0.104px;">increases, and accordingly the pressure scale height also</div>
<div class="l j" style="left: 1407.8px; top: 747.3px; font-size: 15.5px; width: 369.3px; letter-spacing: 0.241px;">increases. Therefore, to study the vertical structure, the</div>
<div class="l r" style="left:1407.8px;top:763.3px;font-size:15.5px;"><i>z</i> coordinate in units of the scale height,</div>
<div class="l r" style="left:1484.7px;top:792.3px;font-size:30px;transform:scaleX(.8) skewX(-8deg);transform-origin:0 0">∫</div>
<div class="l r" style="left:1500.0px;top:788.7px;font-size:11px;"><i>z</i></div>
<div class="l r" style="left:1493.0px;top:814.7px;font-size:11px;">0</div>
<div class="l" style="left:1330.0px;width:400px;text-align:center;top:789.0px;font-size:15.5px;"><i>dz</i></div>
<div style="position:absolute;left:1510.0px;top:808.0px;width:40.0px;height:1px;background:#222"></div>
<div class="l" style="left:1330.0px;width:400px;text-align:center;top:810.6px;font-size:15.5px;">⟨<i>h</i>(<i>z</i>)⟩</div>
<div class="l r" style="left:1552.0px;top:818.7px;font-size:11px;"><i>x,y</i></div>
<div class="l r" style="left:1573.0px;top:798.6px;font-size:15.5px;">≡</div>
<div class="l r" style="left:1591.0px;top:792.3px;font-size:30px;transform:scaleX(.8) skewX(-8deg);transform-origin:0 0">∫</div>
<div class="l r" style="left:1606.0px;top:788.7px;font-size:11px;"><i>z</i></div>
<div class="l r" style="left:1599.0px;top:814.7px;font-size:11px;">0</div>
<div class="l" style="left:1455.5px;width:400px;text-align:center;top:789.0px;font-size:15.5px;"><i>dz</i>Ω</div>
<div style="position:absolute;left:1615.0px;top:808.0px;width:81.0px;height:1px;background:#222"></div>
<div class="l" style="left:1455.5px;width:400px;text-align:center;top:810.6px;font-size:15.5px;"><span class="rt">√</span><span class="ov">2</span>⟨<i>c</i><sub>s</sub>⟩<sub><i>x,y</i></sub>(<i>z</i>)</div>
<div class="l r" style="left:1697.0px;top:798.6px;font-size:15.5px;">,</div>
<div class="l" style="left:1377.1px;width:400px;text-align:right;top:798.6px;font-size:15.5px;">(5)</div>
<div class="l j" style="left: 1407.8px; top: 838.7px; font-size: 15.5px; width: 369.3px; letter-spacing: 0.277px;">is a key quantity, where the subscripts, <i>x, y</i>, of ⟨ ⟩ indi-</div>
<div class="l j" style="left: 1407.8px; top: 854.6px; font-size: 15.5px; width: 369.3px; letter-spacing: 0.262px;">cate the average over a horizontal (<i>x</i> − <i>y</i>) plane.&nbsp; While</div>
<div class="l j" style="left: 1407.8px; top: 873.4px; font-size: 15.5px; width: 369.3px; letter-spacing: 0.643px;"><span class="si">∫</span><span class="ss"><sup><i>z</i></sup><sub>0</sub></span> <span class="sf"><span class="n"><i>dz</i></span><span class="d">⟨<i>h</i>(<i>z</i>)⟩<sub><i>x,y</i></sub></span></span> = <i>z/H</i><sub>0</sub> for the isothermal situation, gener-</div>
<div class="l j" style="left: 1407.8px; top: 895.4px; font-size: 15.5px; width: 369.3px; letter-spacing: 0.502px;">ally | <span class="si">∫</span><span class="ss"><sup><i>z</i></sup><sub>0</sub></span> <span class="sf"><span class="n"><i>dz</i></span><span class="d">⟨<i>h</i>(<i>z</i>)⟩<sub><i>x,y</i></sub></span></span> | &lt; |<i>z/H</i><sub>0</sub>| as a result of the heating for</div>
<div class="l r" style="left:1407.8px;top:915.6px;font-size:15.5px;"><i>γ</i> &gt; 1.</div>
<div class="l j" style="left: 1422.2px; top: 931.5px; font-size: 15.5px; width: 354.9px;">The mass flux of the disk winds depends on the vertical</div>
<div class="l j" style="left: 1407.8px; top: 947.4px; font-size: 15.5px; width: 369.3px; letter-spacing: 0.19px;">box size in units of the scale height (Suzuki et al. 2010;</div>
<div class="l j" style="left: 1407.8px; top: 963.3px; font-size: 15.5px; width: 369.3px;">Fromang et al. 2013).&nbsp; In order to compare the properties</div>
<div class="l j" style="left: 1407.8px; top: 979.2px; font-size: 15.5px; width: 369.3px; letter-spacing: 0.086px;">of the disk winds with different <i>γ</i>, it is desirable to adopt</div>
<div class="l j" style="left: 1407.8px; top: 995.1px; font-size: 15.5px; width: 369.3px;">the same vertical box size in units of the final scale height</div>
<div class="l r" style="left:1407.8px;top:1011.0px;font-size:15.5px;">after the steady-state conditions are achieved,</div>
<div class="l r" style="left:1525.2px;top:1040.6px;font-size:30px;transform:scaleX(.8) skewX(-8deg);transform-origin:0 0">∫</div>
<div class="l r" style="left:1539.0px;top:1038.0px;font-size:11px;"><i>z</i><sub>top</sub></div>
<div class="l r" style="left:1533.0px;top:1065.0px;font-size:11px;"><i>z</i><sub>bot</sub></div>
<div class="l" style="left:1410.5px;width:400px;text-align:center;top:1037.3px;font-size:15.5px;"><i>dz</i></div>
<div style="position:absolute;left:1565.0px;top:1056.3px;width:91.0px;height:1px;background:#222"></div>
<div class="l" style="left:1410.5px;width:400px;text-align:center;top:1058.9px;font-size:15.5px;">⟨<i>h</i>(<i>z</i>)⟩<sub>Δ<i>t</i><span style="font-size:.8em">ave</span><i>,x,y</i></sub></div>
<div class="l r" style="left:1657.0px;top:1046.9px;font-size:15.5px;">,</div>
<div class="l" style="left:1377.1px;width:400px;text-align:right;top:1046.9px;font-size:15.5px;">(6)</div>
<div class="l j" style="left: 1407.8px; top: 1084.3px; font-size: 15.5px; width: 369.3px; letter-spacing: 0.354px;">where <i>z</i><sub>bot</sub> and <i>z</i><sub>top</sub> indicate the locations of the bottom</div>
<div class="l j" style="left: 1407.8px; top: 1099.5px; font-size: 15.5px; width: 369.3px; letter-spacing: 0.354px;">and top boundaries of the simulation box, and we take</div>
<div class="l" style="left:2304.1px;width:400px;text-align:right;top:63.3px;font-size:15.5px;">3</div>
<div class="l" style="left:1913.4px;width:400px;text-align:center;top:108.6px;font-size:12.6px;">TABLE 1</div>
<div class="l j" style="left: 1941.7px; top: 121.4px; font-size: 12.6px; width: 348.1px; letter-spacing: 0.379px;">S<span class="sc">IMULATION RUNS WITH DIFFERENT RATIOS OF SPECIFIC HEATS,</span></div>
<div class="l" style="left:1912.8px;width:400px;text-align:center;top:134.1px;font-size:12.6px;"><i>γ</i>.</div>
<div style="position:absolute;left:1936.1px;top:161.0px;width:357.2px;height:1px;background:#222"></div>
<div style="position:absolute;left:1936.1px;top:164.2px;width:357.2px;height:1px;background:#222"></div>
<div class="l" style="left:1757.0px;width:400px;text-align:center;top:166.7px;font-size:12.6px;"><i>γ</i></div>
<div class="l" style="left:1822.2px;width:400px;text-align:center;top:166.7px;font-size:12.6px;">(<i>X, Y, Z</i>)/<i>H</i><sub>0</sub></div>
<div class="l" style="left:1914.0px;width:400px;text-align:center;top:166.7px;font-size:12.6px;"><span class="si">∫</span><span class="ss"><sup><i>z</i><span style="font-size:.8em">top</span></sup><sub><i>z</i><span style="font-size:.8em">bot</span></sub></span>&nbsp;&nbsp;&nbsp; <i>dz</i>⟨<i>h</i>(<i>z</i>)⟩</div>
<div class="l" style="left:1999.6px;width:400px;text-align:center;top:166.7px;font-size:12.6px;">Δ<i>t</i><sub>ave</sub>(rot.)</div>
<div class="l" style="left:2065.8px;width:400px;text-align:center;top:166.7px;font-size:12.6px;"><i>M</i><sub>f</sub>/<i>M</i><sub>0</sub></div>
<div style="position:absolute;left:1936.1px;top:185.5px;width:357.2px;height:1px;background:#222"></div>
<div class="l" style="left:1757.0px;width:400px;text-align:center;top:188.2px;font-size:12.6px;">1.0</div>
<div class="l" style="left:1822.2px;width:400px;text-align:center;top:188.2px;font-size:12.6px;">0.9,3.6,7.2</div>
<div class="l" style="left:1914.0px;width:400px;text-align:center;top:188.2px;font-size:12.6px;">7.2</div>
<div class="l" style="left:1999.6px;width:400px;text-align:center;top:188.2px;font-size:12.6px;">140–200</div>
<div class="l" style="left:2065.8px;width:400px;text-align:center;top:188.2px;font-size:12.6px;">0.907</div>
<div style="position:absolute;left:1936.1px;top:203.9px;width:357.2px;height:1px;background:#222"></div>
<div class="l" style="left:1757.0px;width:400px;text-align:center;top:201.5px;font-size:12.6px;">1.01</div>
<div class="l" style="left:1822.2px;width:400px;text-align:center;top:201.5px;font-size:12.6px;">1.0,4.0,8.0</div>
<div class="l" style="left:1914.0px;width:400px;text-align:center;top:201.5px;font-size:12.6px;">7.1</div>
<div class="l" style="left:1999.6px;width:400px;text-align:center;top:201.5px;font-size:12.6px;">120–200</div>
<div class="l" style="left:2065.8px;width:400px;text-align:center;top:201.5px;font-size:12.6px;">0.895</div>
<div style="position:absolute;left:1936.1px;top:217.2px;width:357.2px;height:1px;background:#222"></div>
<div class="l" style="left:1757.0px;width:400px;text-align:center;top:214.8px;font-size:12.6px;">1.03</div>
<div class="l" style="left:1822.2px;width:400px;text-align:center;top:214.8px;font-size:12.6px;">1.35,5.4,10.8</div>
<div class="l" style="left:1914.0px;width:400px;text-align:center;top:214.8px;font-size:12.6px;">7.1</div>
<div class="l" style="left:1999.6px;width:400px;text-align:center;top:214.8px;font-size:12.6px;">100–200</div>
<div class="l" style="left:2065.8px;width:400px;text-align:center;top:214.8px;font-size:12.6px;">0.896</div>
<div style="position:absolute;left:1936.1px;top:230.5px;width:357.2px;height:1px;background:#222"></div>
<div class="l" style="left:1757.0px;width:400px;text-align:center;top:228.1px;font-size:12.6px;">1.1</div>
<div class="l" style="left:1822.2px;width:400px;text-align:center;top:228.1px;font-size:12.6px;">4.0,16.0,32.0</div>
<div class="l" style="left:1914.0px;width:400px;text-align:center;top:228.1px;font-size:12.6px;">7.3</div>
<div class="l" style="left:1999.6px;width:400px;text-align:center;top:228.1px;font-size:12.6px;">150–200</div>
<div class="l" style="left:2065.8px;width:400px;text-align:center;top:228.1px;font-size:12.6px;">0.951</div>
<div style="position:absolute;left:1936.1px;top:243.8px;width:357.2px;height:1px;background:#222"></div>
<div class="l" style="left:1757.0px;width:400px;text-align:center;top:241.4px;font-size:12.6px;">1.2</div>
<div class="l" style="left:1822.2px;width:400px;text-align:center;top:241.4px;font-size:12.6px;">4.0,16.0,32.0</div>
<div class="l" style="left:1914.0px;width:400px;text-align:center;top:241.4px;font-size:12.6px;">7.1</div>
<div class="l" style="left:1999.6px;width:400px;text-align:center;top:241.4px;font-size:12.6px;">130–200</div>
<div class="l" style="left:2065.8px;width:400px;text-align:center;top:241.4px;font-size:12.6px;">0.906</div>
<div style="position:absolute;left:1936.1px;top:257.1px;width:357.2px;height:1px;background:#222"></div>
<div class="l" style="left:1757.0px;width:400px;text-align:center;top:254.8px;font-size:12.6px;">1.3</div>
<div class="l" style="left:1822.2px;width:400px;text-align:center;top:254.8px;font-size:12.6px;">4.0,16.0,32.0</div>
<div class="l" style="left:1914.0px;width:400px;text-align:center;top:254.8px;font-size:12.6px;">7.3</div>
<div class="l" style="left:1999.6px;width:400px;text-align:center;top:254.8px;font-size:12.6px;">130–200</div>
<div class="l" style="left:2065.8px;width:400px;text-align:center;top:254.8px;font-size:12.6px;">0.937</div>
<div style="position:absolute;left:1936.1px;top:270.4px;width:357.2px;height:1px;background:#222"></div>
<div class="l" style="left:1757.0px;width:400px;text-align:center;top:268.1px;font-size:12.6px;">1.4</div>
<div class="l" style="left:1822.2px;width:400px;text-align:center;top:268.1px;font-size:12.6px;">4.0,16.0,32.0</div>
<div class="l" style="left:1914.0px;width:400px;text-align:center;top:268.1px;font-size:12.6px;">7.4</div>
<div class="l" style="left:1999.6px;width:400px;text-align:center;top:268.1px;font-size:12.6px;">120–200</div>
<div class="l" style="left:2065.8px;width:400px;text-align:center;top:268.1px;font-size:12.6px;">0.934</div>
<div style="position:absolute;left:1936.1px;top:283.8px;width:357.2px;height:1px;background:#222"></div>
<div class="l" style="left:1757.0px;width:400px;text-align:center;top:281.4px;font-size:12.6px;">5/3</div>
<div class="l" style="left:1822.2px;width:400px;text-align:center;top:281.4px;font-size:12.6px;">4.0,16.0,32.0</div>
<div class="l" style="left:1914.0px;width:400px;text-align:center;top:281.4px;font-size:12.6px;">7.2</div>
<div class="l" style="left:1999.6px;width:400px;text-align:center;top:281.4px;font-size:12.6px;">120–200</div>
<div class="l" style="left:2065.8px;width:400px;text-align:center;top:281.4px;font-size:12.6px;">0.890</div>
<div style="position:absolute;left:1936.1px;top:299.2px;width:357.2px;height:1px;background:#222"></div>
<div class="l j" style="left: 1949.8px; top: 301.8px; font-size: 12.6px; width: 336.9px; letter-spacing: 0.714px;">N<span class="sc">OTE</span>. — The initial box size (<i>2nd column</i>) and the final</div>
<div class="l j" style="left: 1936.1px; top: 314.4px; font-size: 12.6px; width: 350.6px; letter-spacing: 0.214px;">vertical box size measured in the final scale height (<i>3rd column</i>;</div>
<div class="l j" style="left: 1936.1px; top: 326.9px; font-size: 12.6px; width: 350.6px; letter-spacing: 0.823px;">Equation 6) averaged over Δ<i>t</i><sub>ave</sub> are compared.&nbsp; <i>X</i> ,<i>Y</i> , and</div>
<div class="l j" style="left: 1936.1px; top: 339.5px; font-size: 12.6px; width: 350.6px; letter-spacing: 0.622px;"><i>Z</i>(= <i>z</i><sub>top</sub> − <i>z</i><sub>bot</sub>) in the 2nd column are the sizes of <i>x</i>, <i>y</i>, and <i>z</i></div>
<div class="l j" style="left: 1936.1px; top: 352px; font-size: 12.6px; width: 350.6px; letter-spacing: 0.451px;">components of the simulation box. The 4th column shows the</div>
<div class="l j" style="left: 1936.1px; top: 364.6px; font-size: 12.6px; width: 350.6px; letter-spacing: 0.549px;">final mass, <i>M</i><sub>f</sub>, normalized by the initial mass, <i>M</i><sub>0</sub>, remained</div>
<div class="l r" style="left:1936.1px;top:377.1px;font-size:12.6px;">in the box.</div>
<div class="l j" style="left: 1930.9px; top: 420.4px; font-size: 15.5px; width: 369.3px; letter-spacing: 0.083px;">the average over Δ<i>t</i><sub>ave</sub> (Table 1) after the magnetic fields</div>
<div class="l j" style="left: 1930.9px; top: 436.2px; font-size: 15.5px; width: 369.3px; letter-spacing: 0.334px;">are amplified to the saturated state, which we describe</div>
<div class="l j" style="left: 1930.9px; top: 452.1px; font-size: 15.5px; width: 369.3px; letter-spacing: 0.105px;">later in this section. We cannot estimate <i>h</i>(<i>z</i>) in advance,</div>
<div class="l j" style="left: 1930.9px; top: 468px; font-size: 15.5px; width: 369.3px;">hence we perform simulations with different box sizes and</div>
<div class="l j" style="left: 1930.9px; top: 483.8px; font-size: 15.5px; width: 369.3px; letter-spacing: 0.085px;">pick up one that gives the desirable value for each <i>γ</i>. For</div>
<div class="l j" style="left: 1930.9px; top: 499.7px; font-size: 15.5px; width: 369.3px; letter-spacing: 0.281px;">the isothermal case (<i>γ</i> = 1), we fix the vertical box size</div>
<div class="l j" style="left: 1930.9px; top: 515.6px; font-size: 15.5px; width: 369.3px; letter-spacing: 0.711px;">(<i>z</i><sub>top</sub> − <i>z</i><sub>bot</sub>) = 7.2<i>H</i><sub>0</sub>, indicating 0.9<i>H</i><sub>0</sub> and 3.6<i>H</i><sub>0</sub> for</div>
<div class="l j" style="left: 1930.9px; top: 531.4px; font-size: 15.5px; width: 369.3px; letter-spacing: 0.568px;">the box sizes in the <i>x</i> and <i>y</i> directions.&nbsp; For the other</div>
<div class="l j" style="left: 1930.9px; top: 547.3px; font-size: 15.5px; width: 369.3px; letter-spacing: 0.11px;">cases with <i>γ</i> &gt; 1, we tune the initial box sizes to give the</div>
<div class="l j" style="left: 1930.9px; top: 563.2px; font-size: 15.5px; width: 369.3px; letter-spacing: 0.217px;">final vertical box sizes after the saturation in a range of</div>
<div class="l r" style="left:1930.9px;top:579.1px;font-size:15.5px;">7.1 &lt; <span class="si">∫</span><span class="ss" style="width:1.6em"><sup><i>z</i><span style="font-size:.8em">top</span></sup><sub><i>z</i><span style="font-size:.8em">bot</span></sub></span> <i>dz</i>/⟨<i>h</i>(<i>z</i>)⟩<sub>Δ<i>t</i><span style="font-size:.8em">ave</span><i>,x,y</i></sub> &lt; 7.4.</div>
<div class="l j" style="left: 1944.8px; top: 942.5px; font-size: 12.6px; width: 355.4px; letter-spacing: 0.718px;">F<span class="sc">IG</span>. 1.— Evolution of the box-averaged ⟨<i>α</i>⟩<sub><i>x,y,z</i></sub> of the three</div>
<div class="l j" style="left: 1930.9px; top: 955.1px; font-size: 12.6px; width: 369.3px; letter-spacing: 0.473px;">cases with <i>γ</i> = 1.4 (<i>black solid</i>), 1.03 (<i>red dashed</i>), and 1.0 (<i>blue</i></div>
<div class="l j" style="left: 1930.9px; top: 967.7px; font-size: 12.6px; width: 369.3px; letter-spacing: 0.58px;"><i>dotted</i>).&nbsp; The vertical axis, <i>t</i>Ω/2<i>π</i>, indicates time in units of one</div>
<div class="l r" style="left:1930.9px;top:980.3px;font-size:12.6px;">rotation.</div>
<div class="l j" style="left: 1945.3px; top: 1009.1px; font-size: 15.5px; width: 354.9px; letter-spacing: 0.089px;">In order to check the saturation of the magnetic fields,</div>
<div class="l j" style="left: 1930.9px; top: 1025px; font-size: 15.5px; width: 369.3px; letter-spacing: 0.155px;">we monitor the box-averaged <i>α</i> values (Shakura &amp; Sun-</div>
<div class="l j" style="left: 1930.9px; top: 1040.9px; font-size: 15.5px; width: 369.3px; letter-spacing: 0.929px;">yaev 1973), which is the sum of the Reynolds and</div>
<div class="l r" style="left:1930.9px;top:1056.8px;font-size:15.5px;">Maxwell stresses normalized by the gas pressure,</div>
<div class="l r" style="left:1974.0px;top:1097.2px;font-size:15.5px;">⟨<i>α</i>⟩<sub><i>x,y,z</i></sub> =</div>
<div class="l" style="left:1947.1px;width:400px;text-align:center;top:1085.1px;font-size:15.5px;"><span class="si">∫</span><span class="ss" style="width:1.7em"><sup><i>z</i><span style="font-size:.8em">top</span></sup><sub><i>z</i><span style="font-size:.8em">bot</span></sub></span> <i>dz</i>⟨<i>ρv<sub>x</sub>δv<sub>y</sub></i> − <i>B<sub>x</sub>B<sub>y</sub></i>/4<i>π</i>⟩<sub><i>x,y</i></sub></div>
<div style="position:absolute;left:2044.6px;top:1107.2px;width:205.0px;height:1px;background:#222"></div>
<div class="l" style="left:1947.1px;width:400px;text-align:center;top:1109.4px;font-size:15.5px;"><span class="si">∫</span><span class="ss" style="width:1.7em"><sup><i>z</i><span style="font-size:.8em">top</span></sup><sub><i>z</i><span style="font-size:.8em">bot</span></sub></span> <i>dz</i>⟨<i>p</i>⟩<sub><i>x,y</i></sub></div>
<div class="l r" style="left:2251.0px;top:1097.2px;font-size:15.5px;">,</div>
<div class="l" style="left:1900.2px;width:400px;text-align:right;top:1097.2px;font-size:15.5px;">(7)</div>
<div class="l j" style="left: 2348.7px; top: 966.7px; font-size: 12.6px; width: 355.4px; letter-spacing: 0.686px;">F<span class="sc">IG</span>. 2.— Time-distance diagrams of ⟨<i>α</i>⟩<sub><i>x,y</i></sub> of the cases with</div>
<div class="l j" style="left: 2334.8px; top: 979.3px; font-size: 12.6px; width: 369.3px; letter-spacing: 0.537px;"><i>γ</i> = 1.4 (<i>top</i>), 1.03 (<i>middle</i>) and 1.0 (<i>lower</i>). The horizontal axis</div>
<div class="l j" style="left: 2334.8px; top: 991.9px; font-size: 12.6px; width: 369.3px; letter-spacing: 0.437px;">(<i>t</i>Ω/2<i>π</i>) denotes time in units of rotation. The vertical axis shows</div>
<div class="l j" style="left: 2334.8px; top: 1004.5px; font-size: 12.6px; width: 369.3px; letter-spacing: 0.408px;"><i>z</i>; on the left shown is distance in units of the initial scale height,</div>
<div class="l j" style="left: 2334.8px; top: 1017.1px; font-size: 12.6px; width: 369.3px; letter-spacing: 0.406px;"><i>z/H</i><sub>0</sub>, and on the right shown is distance in units of the final scale</div>
<div class="l r" style="left:2334.8px;top:1029.7px;font-size:12.6px;">height, <span class="si">∫</span><span class="ss"><sup><i>z</i></sup><sub>0</sub></span> <i>dz</i>/⟨<i>h</i>(<i>z</i>)⟩<sub>Δ<i>t</i><span style="font-size:.8em">ave</span><i>,x,y</i></sub>.</div>
<div class="l j" style="left: 2334.8px; top: 1067.6px; font-size: 15.5px; width: 369.3px; letter-spacing: 0.606px;">where <i>δv<sub>y</sub></i> = <i>v<sub>y</sub></i> − <i>v</i><sub><i>y</i>,0</sub> is the difference of toroidal ve-</div>
<div class="l j" style="left: 2334.8px; top: 1083.5px; font-size: 15.5px; width: 369.3px; letter-spacing: 0.481px;">locity from the Keplerian shear flow, <i>v</i><sub><i>y</i>,0</sub> = −<span class="sf" style="vertical-align:-.35em"><span class="n">3</span><span class="d">2</span></span>Ω<i>x</i>.&nbsp; In</div>
<div class="l j" style="left: 2334.8px; top: 1099.4px; font-size: 15.5px; width: 369.3px; letter-spacing: 0.431px;">Figure 1 we show the results of the cases with <i>γ</i> = 1.4</div>
<div class="l r" style="left:2863.3px;top:63.3px;font-size:15.5px;">4</div>
<div class="l j" style="left: 2857.9px; top: 95.6px; font-size: 15.5px; width: 369.3px; letter-spacing: 0.307px;">(black solid line), 1.03 (red dashed line), and 1.0 (blue</div>
<div class="l j" style="left: 2857.9px; top: 111.5px; font-size: 15.5px; width: 369.3px; letter-spacing: 0.7px;">dotted line).&nbsp;&nbsp; We also display the time evolution of</div>
<div class="l j" style="left: 2857.9px; top: 127.5px; font-size: 15.5px; width: 369.3px; letter-spacing: 0.407px;">the vertical structure of horizontally averaged ⟨<i>α</i>⟩<sub><i>x,y</i></sub> =</div>
<div class="l j" style="left: 2857.9px; top: 143.4px; font-size: 15.5px; width: 369.3px; letter-spacing: 0.591px;">⟨<i>ρv<sub>x</sub>δv<sub>y</sub></i> − <i>B<sub>x</sub>B<sub>y</sub></i>/4<i>π</i>⟩<sub><i>x,y</i></sub>/⟨<i>p</i>⟩<sub><i>x,y</i></sub> in <i>t</i>–<i>z</i> diagrams in Figure</div>
<div class="l j" style="left: 2857.9px; top: 159.4px; font-size: 15.5px; width: 369.3px; letter-spacing: 0.854px;">2 to see more details.&nbsp; In the case with <i>γ</i> = 1.4, the</div>
<div class="l j" style="left: 2857.9px; top: 175.3px; font-size: 15.5px; width: 369.3px; letter-spacing: 0.588px;">saturation is observed after <i>t</i>Ω/2<i>π</i> <span class="gs">&gt;<span>∼</span></span> 120, and we use</div>
<div class="l j" style="left: 2857.9px; top: 191.3px; font-size: 15.5px; width: 369.3px; letter-spacing: 0.42px;">Δ<i>t</i><sub>ave</sub> = 120 − 200 rotations (1 rotation= 2<i>π</i>/Ω) to esti-</div>
<div class="l j" style="left: 2857.9px; top: 207.2px; font-size: 15.5px; width: 369.3px;">mate the vertical box size in the final scale height (Equa-</div>
<div class="l j" style="left: 2857.9px; top: 223.2px; font-size: 15.5px; width: 369.3px; letter-spacing: 0.149px;">tion 6). Although in the case with <i>γ</i> = 1.03 the box aver-</div>
<div class="l j" style="left: 2857.9px; top: 239.2px; font-size: 15.5px; width: 369.3px; letter-spacing: 0.463px;">aged ⟨<i>α</i>⟩<sub><i>x,y,z</i></sub> almost saturates after <i>t</i>Ω/2<i>π</i> <span class="gs">&gt;<span>∼</span></span> 80 (Figure</div>
<div class="l j" style="left: 2857.9px; top: 255.1px; font-size: 15.5px; width: 369.3px;">1), we use a more conservative Δ<i>t</i><sub>ave</sub> = 100−200, because</div>
<div class="l j" style="left: 2857.9px; top: 271.1px; font-size: 15.5px; width: 369.3px; letter-spacing: 0.753px;">⟨<i>α</i>⟩<sub>Δ<i>t</i><span style="font-size:.8em">ave</span><i>,x,y</i></sub> at the midplane is growing in <i>t</i>Ω/2<i>π</i> <span class="gs">&lt;<span>∼</span></span> 90</div>
<div class="l j" style="left: 2857.9px; top: 287px; font-size: 15.5px; width: 369.3px; letter-spacing: 0.767px;">(middle panel of Figure 2).&nbsp;&nbsp; In the isothermal case</div>
<div class="l j" style="left: 2857.9px; top: 303px; font-size: 15.5px; width: 369.3px; letter-spacing: 0.449px;">(<i>γ</i> = 1.0), we use Δ<i>t</i><sub>ave</sub> = 140 − 200 rotations, because</div>
<div class="l j" style="left: 2857.9px; top: 318.9px; font-size: 15.5px; width: 369.3px; letter-spacing: 0.634px;">⟨<i>α</i>⟩<sub><i>x,y,z</i></sub> becomes saturated later than in the other two</div>
<div class="l j" style="left: 2857.9px; top: 334.9px; font-size: 15.5px; width: 369.3px; letter-spacing: 0.248px;">cases.&nbsp; On the right of each panel of Figure 2, we show</div>
<div class="l j" style="left: 2857.9px; top: 350.8px; font-size: 15.5px; width: 369.3px; letter-spacing: 0.383px;"><i>z</i> in units of the final scale height, <span class="si">∫</span><span class="ss"><sup><i>z</i></sup><sub>0</sub></span> <i>dx</i>/⟨<i>h</i>(<i>z</i>)⟩<sub>Δ<i>t</i><span style="font-size:.8em">ave</span><i>,x,y</i></sub>.</div>
<div class="l j" style="left: 2857.9px; top: 366.8px; font-size: 15.5px; width: 369.3px; letter-spacing: 0.368px;">The interval between the ticks with Δ<i>z</i> = 1 varies with</div>
<div class="l j" style="left: 2857.9px; top: 382.7px; font-size: 15.5px; width: 369.3px; letter-spacing: 0.147px;">height in the non-isothermal cases because the tempera-</div>
<div class="l r" style="left:2857.9px;top:398.7px;font-size:15.5px;">ture is higher near the surfaces as shown in § 3.</div>
<div class="l j" style="left: 2872.3px; top: 414.7px; font-size: 15.5px; width: 354.9px; letter-spacing: 0.194px;">The initial and final box sizes and Δ<i>t</i><sub>ave</sub>’s are summa-</div>
<div class="l j" style="left: 2857.9px; top: 430.6px; font-size: 15.5px; width: 369.3px; letter-spacing: 0.266px;">rized in Table 1. For the cases with <i>γ</i> ≥ 1.1, the vertical</div>
<div class="l j" style="left: 2857.9px; top: 446.6px; font-size: 15.5px; width: 369.3px; letter-spacing: 0.128px;">box size measured in the final scale height shrinks more</div>
<div class="l j" style="left: 2857.9px; top: 462.5px; font-size: 15.5px; width: 369.3px; letter-spacing: 0.28px;">than a factor of 4 because of the heating, which we ex-</div>
<div class="l j" style="left: 2857.9px; top: 478.5px; font-size: 15.5px; width: 369.3px; letter-spacing: 0.267px;">amine in §3.&nbsp; The derived Δ<i>t</i><sub>ave</sub> is also used to examine</div>
<div class="l r" style="left:2857.9px;top:494.4px;font-size:15.5px;">the time-averaged vertical structures of each case in §3.</div>
<div class="l j" style="left: 2872.3px; top: 510.4px; font-size: 15.5px; width: 354.9px; letter-spacing: 1.128px;">The horizontal box sizes measured in the scale</div>
<div class="l j" style="left: 2857.9px; top: 526.3px; font-size: 15.5px; width: 369.3px; letter-spacing: 0.714px;">height of the non-isothermal cases vary with height</div>
<div class="l j" style="left: 2857.9px; top: 542.3px; font-size: 15.5px; width: 369.3px; letter-spacing: 0.935px;">because of the variation of the temperature.&nbsp;&nbsp;&nbsp; Be-</div>
<div class="l j" style="left: 2857.9px; top: 558.3px; font-size: 15.5px; width: 369.3px; letter-spacing: 1.044px;">cause of the higher temperature near the surfaces</div>
<div class="l j" style="left: 2857.9px; top: 574.2px; font-size: 15.5px; width: 369.3px; letter-spacing: 1.322px;">(§3), the horizontal box sizes in units of the fi-</div>
<div class="l j" style="left: 2857.9px; top: 592.5px; font-size: 15.5px; width: 369.3px; letter-spacing: 1.074px;">nal scale height, <span class="si">∫</span><span class="ss" style="width:1.9em"><sup><i>x</i><span style="font-size:.8em">max</span></sup><sub><i>x</i><span style="font-size:.8em">min</span></sub></span> <i>dx</i>/⟨<i>h</i>(<i>z</i>)⟩<sub>Δ<i>t</i><span style="font-size:.8em">ave</span><i>,x,y</i></sub> &lt; 0.9 and</div>
<div class="l j" style="left: 2857.9px; top: 613.9px; font-size: 15.5px; width: 369.3px; letter-spacing: 0.436px;"><span class="si">∫</span><span class="ss" style="width:1.9em"><sup><i>y</i><span style="font-size:.8em">max</span></sup><sub><i>y</i><span style="font-size:.8em">min</span></sub></span> <i>dy</i>/⟨<i>h</i>(<i>z</i>)⟩<sub>Δ<i>t</i><span style="font-size:.8em">ave</span><i>,x,y</i></sub> &lt; 3.6, are smaller in the surface</div>
<div class="l j" style="left: 2857.9px; top: 632.5px; font-size: 15.5px; width: 369.3px;">regions. of the non-isothermal cases. Although these hor-</div>
<div class="l j" style="left: 2857.9px; top: 648.4px; font-size: 15.5px; width: 369.3px; letter-spacing: 0.081px;">izontal sizes are insufficient to quantitatively discuss the</div>
<div class="l j" style="left: 2857.9px; top: 664.3px; font-size: 15.5px; width: 369.3px; letter-spacing: 0.07px;">saturation of the magnetic fields (e.g., Guan et al. 2009),</div>
<div class="l j" style="left: 2857.9px; top: 680.3px; font-size: 15.5px; width: 369.3px; letter-spacing: 0.374px;">we anticipate that it is still meaningful to compare the</div>
<div class="l r" style="left:2857.9px;top:696.2px;font-size:15.5px;">vertical disk structures with different <i>γ</i>.</div>
<div class="l" style="left:2842.6px;width:400px;text-align:center;top:726.9px;font-size:15.5px;">3.&nbsp; RESULTS</div>
<div class="l j" style="left: 2872.3px; top: 749.1px; font-size: 15.5px; width: 354.9px; letter-spacing: 0.263px;">Continued from the previous section we examine the</div>
<div class="l j" style="left: 2857.9px; top: 765px; font-size: 15.5px; width: 369.3px; letter-spacing: 0.237px;">time evolutions of the box averaged ⟨<i>α</i>⟩<sub><i>x,y,z</i></sub> in Figure 1.</div>
<div class="l j" style="left: 2857.9px; top: 780.9px; font-size: 15.5px; width: 369.3px; letter-spacing: 0.195px;">After the quasi-steady saturated states are achieved, the</div>
<div class="l j" style="left: 2857.9px; top: 796.9px; font-size: 15.5px; width: 369.3px;">three cases show different behavior.&nbsp; The isothermal case</div>
<div class="l j" style="left: 2857.9px; top: 812.8px; font-size: 15.5px; width: 369.3px; letter-spacing: 0.099px;">(<i>γ</i> = 1.0) show large fluctuations of ⟨<i>α</i>⟩<sub><i>x,y,z</i></sub> from 0.015 to</div>
<div class="l j" style="left: 2857.9px; top: 828.8px; font-size: 15.5px; width: 369.3px; letter-spacing: 0.3px;">0.04.&nbsp; On the other hand, the case with <i>γ</i> = 1.4 exhibits</div>
<div class="l j" style="left: 2857.9px; top: 844.7px; font-size: 15.5px; width: 369.3px; letter-spacing: 0.588px;">much milder behavior with ⟨<i>α</i>⟩<sub><i>x,y,z</i></sub> kept in a range of</div>
<div class="l j" style="left: 2857.9px; top: 860.6px; font-size: 15.5px; width: 369.3px; letter-spacing: 0.229px;">0.01-0.015.&nbsp; The case with <i>γ</i> = 1.03 shows intermediate</div>
<div class="l j" style="left: 2857.9px; top: 876.6px; font-size: 15.5px; width: 369.3px; letter-spacing: 0.452px;">behavior; although the increase of the <i>α</i> is faster with</div>
<div class="l j" style="left: 2857.9px; top: 892.5px; font-size: 15.5px; width: 369.3px; letter-spacing: 0.37px;">showing large fluctuations in the earlier time, 2<i>πt</i>/Ω <span class="gs">&lt;<span>∼</span></span></div>
<div class="l j" style="left: 2857.9px; top: 908.5px; font-size: 15.5px; width: 369.3px; letter-spacing: 0.154px;">120, it settles down to a softer state later, between those</div>
<div class="l j" style="left: 2857.9px; top: 924.4px; font-size: 15.5px; width: 369.3px; letter-spacing: 0.509px;">for <i>γ</i> = 1.4 and 1.0.&nbsp; Interestingly enough, the similar</div>
<div class="l j" style="left: 2857.9px; top: 940.3px; font-size: 15.5px; width: 369.3px; letter-spacing: 0.153px;">trends are observed in the disk winds, which we discuss</div>
<div class="l r" style="left:2857.9px;top:956.3px;font-size:15.5px;">the details in §3.3.</div>
<div class="l j" style="left: 2872.3px; top: 972.2px; font-size: 15.5px; width: 354.9px; letter-spacing: 0.129px;">Figure 3 exhibits a snapshot structure of the case with</div>
<div class="l j" style="left: 2857.9px; top: 988.2px; font-size: 15.5px; width: 369.3px; letter-spacing: 0.677px;"><i>γ</i> = 1.4 at 180 rotation time (<i>t</i>Ω/2<i>π</i> = 180).&nbsp; The tur-</div>
<div class="l j" style="left: 2857.9px; top: 1004.1px; font-size: 15.5px; width: 369.3px; letter-spacing: 0.169px;">bulent magnetic field, mostly dominated by the toroidal</div>
<div class="l j" style="left: 2857.9px; top: 1020px; font-size: 15.5px; width: 369.3px; letter-spacing: 0.11px;">component, is amplified by MRI and winding due to the</div>
<div class="l j" style="left: 2857.9px; top: 1036px; font-size: 15.5px; width: 369.3px; letter-spacing: 0.502px;">differential rotation.&nbsp; The temperature contour on the</div>
<div class="l j" style="left: 2857.9px; top: 1051.9px; font-size: 15.5px; width: 369.3px; letter-spacing: 0.324px;">back shows that the temperatures in 4 <span class="gs">&lt;<span>∼</span></span> |<i>z/H</i><sub>0</sub>| <span class="gs">&lt;<span>∼</span></span> 12 in-</div>
<div class="l j" style="left: 2857.9px; top: 1067.9px; font-size: 15.5px; width: 369.3px;">crease up to more than 50 times of the initial value, while</div>
<div class="l j" style="left: 2857.9px; top: 1083.8px; font-size: 15.5px; width: 369.3px; letter-spacing: 0.56px;">the temperature in the midplane does not increase so</div>
<div class="l j" style="left: 2857.9px; top: 1099.7px; font-size: 15.5px; width: 369.3px; letter-spacing: 0.054px;">much.&nbsp; ⌢-shaped field lines, which are typical for Parker</div>
<div class="l j" style="left: 3272.8px; top: 502.5px; font-size: 12.6px; width: 358.3px; letter-spacing: 0.592px;">F<span class="sc">IG</span>. 3.— Snapshot of the simulation with <i>γ</i> = 1.4 at 180 rota-</div>
<div class="l j" style="left: 3261.8px; top: 515.2px; font-size: 12.6px; width: 369.3px; letter-spacing: 0.361px;">tion time (<i>t</i>Ω/2<i>π</i> = 180). White lines indicate magnetic field lines,</div>
<div class="l j" style="left: 3261.8px; top: 527.8px; font-size: 12.6px; width: 369.3px; letter-spacing: 0.503px;">colors on the back show normalized temperature, <i>T/T</i><sub>0</sub>, (<i>left leg-</i></div>
<div class="l j" style="left: 3261.8px; top: 540.5px; font-size: 12.6px; width: 369.3px; letter-spacing: 0.245px;"><i>end</i>), color contours denote iso-density surfaces (<i>right legend</i>), and</div>
<div class="l r" style="left:3261.8px;top:553.1px;font-size:12.6px;">arrows indicate velocity fields.</div>
<div class="l j" style="left: 3261.8px; top: 588.7px; font-size: 15.5px; width: 369.3px; letter-spacing: 0.114px;">(magnetic buoyancy) instability (Parker 1955; Nishikori</div>
<div class="l j" style="left: 3261.8px; top: 604.6px; font-size: 15.5px; width: 369.3px; letter-spacing: 0.048px;">et al. 2006) are seen in the surface regions, and the verti-</div>
<div class="l j" style="left: 3261.8px; top: 620.5px; font-size: 15.5px; width: 369.3px; letter-spacing: 0.052px;">cal outflows are observed from both the upper and lower</div>
<div class="l j" style="left: 3261.8px; top: 636.5px; font-size: 15.5px; width: 369.3px; letter-spacing: 0.17px;">surfaces, similarly to those seen in the isothermal simu-</div>
<div class="l r" style="left:3261.8px;top:652.4px;font-size:15.5px;">lations (Suzuki &amp; Inutsuka 2009; Suzuki et al. 2010).</div>
<div class="l" style="left:3246.4px;width:400px;text-align:center;top:684.9px;font-size:15.5px;">3.1.&nbsp; <i>Coronae</i></div>
<div class="l j" style="left: 3276.2px; top: 707.5px; font-size: 15.5px; width: 354.9px; letter-spacing: 0.432px;">Figures 4 and 5 present <i>t</i>–<i>z</i> diagrams of the temper-</div>
<div class="l j" style="left: 3261.8px; top: 723.4px; font-size: 15.5px; width: 369.3px; letter-spacing: 0.87px;">atures and the densities of the three cases with <i>γ</i> =</div>
<div class="l j" style="left: 3261.8px; top: 739.3px; font-size: 15.5px; width: 369.3px;">1.4, 1.03, &amp; 1.0, whereas we do not show the temperature</div>
<div class="l j" style="left: 3261.8px; top: 755.3px; font-size: 15.5px; width: 369.3px; letter-spacing: 0.415px;">of the isothermal (<i>γ</i> = 1.0) case. As shown in Figure 4</div>
<div class="l j" style="left: 3261.8px; top: 771.2px; font-size: 15.5px; width: 369.3px; letter-spacing: 0.183px;">as well as Figure 3, the gas in the surface regions of the</div>
<div class="l j" style="left: 3261.8px; top: 787.2px; font-size: 15.5px; width: 369.3px; letter-spacing: 0.237px;">non-isothermal cases is heated up.&nbsp; The heating is done</div>
<div class="l j" style="left: 3261.8px; top: 803.1px; font-size: 15.5px; width: 369.3px;">by the dissipation of the magnetic energy which is ampli-</div>
<div class="l j" style="left: 3261.8px; top: 819px; font-size: 15.5px; width: 369.3px; letter-spacing: 0.252px;">fied by the MRI and the winding due to the differential</div>
<div class="l j" style="left: 3261.8px; top: 835px; font-size: 15.5px; width: 369.3px; letter-spacing: 0.489px;">rotation.&nbsp; Since the simulations do not explicitly take</div>
<div class="l j" style="left: 3261.8px; top: 850.9px; font-size: 15.5px; width: 369.3px; letter-spacing: 0.286px;">into account resistivity, the dissipation of the magnetic</div>
<div class="l j" style="left: 3261.8px; top: 866.9px; font-size: 15.5px; width: 369.3px; letter-spacing: 0.182px;">field occurs numerically in the sub-grid scales, whereas</div>
<div class="l j" style="left: 3261.8px; top: 882.8px; font-size: 15.5px; width: 369.3px; letter-spacing: 0.221px;">we expect that this actually takes place by cascading of</div>
<div class="l r" style="left:3261.8px;top:898.7px;font-size:15.5px;">small-scale turbulence.</div>
<div class="l j" style="left: 3276.2px; top: 914.7px; font-size: 15.5px; width: 354.9px; letter-spacing: 0.134px;">The two cases of Figure 4 show an initial temperature</div>
<div class="l j" style="left: 3261.8px; top: 930.6px; font-size: 15.5px; width: 369.3px; letter-spacing: 0.653px;">rise in <i>t</i>Ω/2<i>π</i> &lt; 5, because the initial densities in the</div>
<div class="l j" style="left: 3261.8px; top: 946.6px; font-size: 15.5px; width: 369.3px; letter-spacing: 0.361px;">upper regions, |<i>z/H</i><sub>0</sub>| &gt; 4.55, are larger than the hydro-</div>
<div class="l j" style="left: 3261.8px; top: 962.5px; font-size: 15.5px; width: 369.3px; letter-spacing: 0.404px;">static value (Equation 4); the gas initially flows down</div>
<div class="l j" style="left: 3261.8px; top: 978.4px; font-size: 15.5px; width: 369.3px; letter-spacing: 0.097px;">from there toward the midplane, which causes the initial</div>
<div class="l j" style="left: 3261.8px; top: 994.4px; font-size: 15.5px; width: 369.3px; letter-spacing: 0.259px;">heating.&nbsp; The entire region is eventually relaxing to the</div>
<div class="l j" style="left: 3261.8px; top: 1010.3px; font-size: 15.5px; width: 369.3px; letter-spacing: 0.191px;">quasi-steady state, which we analyze from now. In both</div>
<div class="l j" style="left: 3261.8px; top: 1029.2px; font-size: 15.5px; width: 369.3px; letter-spacing: 0.352px;">the cases, the regions of 2.5 &lt; | <span class="si">∫</span><span class="ss"><sup><i>z</i></sup><sub>0</sub></span> <span class="sf"><span class="n"><i>dz</i></span><span class="d">⟨<i>h</i>(<i>z</i>)⟩</span></span><span style="font-size:.68em;vertical-align:-.7em">Δ<i>t</i><span style="font-size:.8em">ave</span><i>,x,y</i></span> | &lt; 3 are</div>
<div class="l j" style="left: 3261.8px; top: 1051.7px; font-size: 15.5px; width: 369.3px; letter-spacing: 0.126px;">most effectively heated up to <i>T/T</i><sub>0</sub> ∼ 60 in the case with</div>
<div class="l j" style="left: 3261.8px; top: 1067.6px; font-size: 15.5px; width: 369.3px; letter-spacing: 0.24px;"><i>γ</i> = 1.4 and <i>T/T</i><sub>0</sub> ∼ 3 in the case with <i>γ</i> = 1.03. Because</div>
<div class="l j" style="left: 3261.8px; top: 1083.5px; font-size: 15.5px; width: 369.3px; letter-spacing: 0.451px;">the heating is done by the dissipation of the magnetic</div>
<div class="l j" style="left: 3261.8px; top: 1099.4px; font-size: 15.5px; width: 369.3px;">field which is amplified by the MRI and the winding, the</div>
<div class="l" style="left:4158.1px;width:400px;text-align:right;top:63.3px;font-size:15.5px;">5</div>
<div class="l j" style="left: 3793.3px; top: 683px; font-size: 12.6px; width: 360.9px; letter-spacing: 0.48px;">F<span class="sc">IG</span>. 4.— Time-distance diagrams of temperatures, ⟨<i>T/T</i><sub>0</sub>⟩<sub><i>x,y</i></sub>, of</div>
<div class="l j" style="left: 3784.9px; top: 695.7px; font-size: 12.6px; width: 369.3px; letter-spacing: 0.364px;">the cases with <i>γ</i> = 1.4 (<i>upper</i>) and 1.03 (<i>lower</i>). The labels for the</div>
<div class="l r" style="left:3784.9px;top:708.4px;font-size:12.6px;">horizontal and vertical axes are the same as in Figure 2.</div>
<div class="l j" style="left: 3784.9px; top: 739.6px; font-size: 15.5px; width: 369.3px; letter-spacing: 0.091px;">increase of the temperature follows the increase of ⟨<i>α</i>⟩<sub><i>x,y</i></sub></div>
<div class="l j" style="left: 3784.9px; top: 755.5px; font-size: 15.5px; width: 369.3px; letter-spacing: 0.225px;">shown in Figure 2.&nbsp; This is more easily seen in the case</div>
<div class="l j" style="left: 3784.9px; top: 771.4px; font-size: 15.5px; width: 369.3px; letter-spacing: 0.151px;">with <i>γ</i> = 1.03; the temperature increases in <i>t</i>Ω/2<i>π</i> <span class="gs">&gt;<span>∼</span></span> 150,</div>
<div class="l r" style="left:3784.9px;top:787.4px;font-size:15.5px;">which is delayed compared to the increase of ⟨<i>α</i>⟩<sub><i>x,y</i></sub>.</div>
<div class="l j" style="left: 3799.3px; top: 803.3px; font-size: 15.5px; width: 354.9px; letter-spacing: 0.442px;">The top panel of Figure 4 illustrates that the hot re-</div>
<div class="l j" style="left: 3784.9px; top: 819.3px; font-size: 15.5px; width: 369.3px; letter-spacing: 0.143px;">gions with <i>T/T</i><sub>0</sub> &gt; 50 are clearly separated from the cool</div>
<div class="l j" style="left: 3784.9px; top: 835.2px; font-size: 15.5px; width: 369.3px; letter-spacing: 0.512px;">midplane region with <i>T/T</i><sub>0</sub> ≪ 10 by the transition re-</div>
<div class="l j" style="left: 3784.9px; top: 854.1px; font-size: 15.5px; width: 369.3px; letter-spacing: 0.773px;">gions located at <span class="si">∫</span><span class="ss"><sup><i>z</i></sup><sub>0</sub></span> <span class="sf"><span class="n"><i>dz</i></span><span class="d">⟨<i>h</i>(<i>z</i>)⟩<sub>Δ<i>t</i>ave<i>,x,y</i></sub></span></span> ≈ ±1.5; from now we</div>
<div class="l j" style="left: 3784.9px; top: 873.5px; font-size: 15.5px; width: 369.3px; letter-spacing: 0.507px;">call these hot regions coronae.&nbsp; On the other hand, in</div>
<div class="l j" style="left: 3784.9px; top: 889.4px; font-size: 15.5px; width: 369.3px; letter-spacing: 0.549px;">the small <i>γ</i> (=1.03) case, the temperatures of the sur-</div>
<div class="l j" style="left: 3784.9px; top: 905.3px; font-size: 15.5px; width: 369.3px; letter-spacing: 0.353px;">face regions are not so high with <i>T/T</i><sub>0</sub> ≈ 3 in the upper</div>
<div class="l r" style="left:3784.9px;top:921.3px;font-size:15.5px;">regions.</div>
<div class="l j" style="left: 3799.3px; top: 937.2px; font-size: 15.5px; width: 354.9px; letter-spacing: 0.269px;">For more quantitative inspection we display the time</div>
<div class="l j" style="left: 3784.9px; top: 953.2px; font-size: 15.5px; width: 369.3px; letter-spacing: 0.172px;">and horizontally averaged vertical structures of the four</div>
<div class="l j" style="left: 3784.9px; top: 969.1px; font-size: 15.5px; width: 369.3px; letter-spacing: 0.486px;">cases, <i>γ</i> = 1.0, 1.03, 1.1, &amp; 1.4 in Figure 6, where the</div>
<div class="l j" style="left: 3784.9px; top: 985px; font-size: 15.5px; width: 369.3px; letter-spacing: 0.429px;">time averages are taken over Δ<i>t</i><sub>ave</sub> in Table 1 after the</div>
<div class="l j" style="left: 3784.9px; top: 1001px; font-size: 15.5px; width: 369.3px; letter-spacing: 0.24px;">quasi-steady saturation is achieved (Figure 1).&nbsp; The top</div>
<div class="l j" style="left: 3784.9px; top: 1016.9px; font-size: 15.5px; width: 369.3px; letter-spacing: 0.575px;">panel illustrates that the coronae with <i>T/T</i><sub>0</sub> ≈ 40 also</div>
<div class="l j" style="left: 3784.9px; top: 1032.9px; font-size: 15.5px; width: 369.3px; letter-spacing: 0.912px;">form in the case with <i>γ</i> = 1.1.&nbsp; We have found that</div>
<div class="l j" style="left: 3784.9px; top: 1048.8px; font-size: 15.5px; width: 369.3px; letter-spacing: 0.741px;">the formation of the coronae with <i>T/T</i><sub>0</sub> ≈ 40 − 70 is</div>
<div class="l j" style="left: 3784.9px; top: 1064.7px; font-size: 15.5px; width: 369.3px; letter-spacing: 0.842px;">universal in the cases with <i>γ</i> ≥ 1.1.&nbsp; In these cases,</div>
<div class="l j" style="left: 3784.9px; top: 1080.7px; font-size: 15.5px; width: 369.3px; letter-spacing: 0.771px;">with the large increases of the temperature (around</div>
<div class="l j" style="left: 3784.9px; top: 1099.9px; font-size: 15.5px; width: 369.3px; letter-spacing: 1.172px;"><span class="si">∫</span><span class="ss"><sup><i>z</i></sup><sub>0</sub></span> <i>dz</i>/⟨<i>h</i>(<i>z</i>)⟩<sub>Δ<i>t</i><span style="font-size:.8em">ave</span><i>,x,y</i></sub> ≈ ±1.5 for <i>γ</i> = 1.4 and ±1 for</div>
<div class="l j" style="left: 4196.2px; top: 966.7px; font-size: 12.6px; width: 361.9px; letter-spacing: 0.293px;">F<span class="sc">IG</span>. 5.— Time-distance diagrams of densities, ⟨<i>ρ</i>⟩<sub><i>x,y</i></sub>, of the cases</div>
<div class="l j" style="left: 4188.8px; top: 979.4px; font-size: 12.6px; width: 369.3px; letter-spacing: 0.406px;">with <i>γ</i> = 1.4 (<i>top</i>), 1.03 (<i>middle</i>), and 1.0 (<i>bottom</i>). The labels for</div>
<div class="l r" style="left:4188.8px;top:992.0px;font-size:12.6px;">the horizontal and vertical axes are the same as in Figure 2.</div>
<div class="l j" style="left: 4188.8px; top: 1035.8px; font-size: 15.5px; width: 369.3px; letter-spacing: 0.448px;"><i>γ</i> = 1.1) the density (middle panels) rapidly decreases</div>
<div class="l j" style="left: 4188.8px; top: 1051.7px; font-size: 15.5px; width: 369.3px; letter-spacing: 0.218px;">to keep the nearly pressure-balanced structure.&nbsp; We call</div>
<div class="l j" style="left: 4188.8px; top: 1067.7px; font-size: 15.5px; width: 369.3px; letter-spacing: 0.236px;">this pressure balanced structure with temperature rise a</div>
<div class="l r" style="left:4188.8px;top:1083.7px;font-size:15.5px;">transition region.</div>
<div class="l j" style="left: 4203.2px; top: 1099.6px; font-size: 15.5px; width: 354.9px; letter-spacing: 0.22px;">The existence of the hot coronae above the cool mid-</div>
<div class="ft" style="left:2375.4px;top:99.0px;font-size:12.4px;color:#6b6b6b;letter-spacing:2.0px;"><i style="font-family:&quot;Liberation Serif&quot;,serif;font-size:1.1em">γ</i>=1.4</div>
<div class="ft" style="left:2387.2px;width:300px;text-align:center;top:96.6px;font-size:12.4px;color:#6b6b6b;letter-spacing:1.1px;">log(α)</div>
<div class="cb" style="left:2374.4px;top:130.4px;width:311.2px;height:10.6px;background:linear-gradient(90deg,#005 0%,#0000a0 10%,#00d 18%,#0038f0 22%,#0090ff 27%,#00f0ff 33%,#4fb 40%,#90ff68 50%,#cf3 57%,#ff0 66%,#ffc000 75%,#ff9000 82%,#f50 90%,#f10 100%)"></div>
<div class="ft" style="left:2224.4px;width:300px;text-align:center;top:119.7px;font-size:6px;color:#555;letter-spacing:0.5px;">−5</div>
<div class="ft" style="left:2286.6px;width:300px;text-align:center;top:119.7px;font-size:6px;color:#555;letter-spacing:0.5px;">−4</div>
<div class="ft" style="left:2348.9px;width:300px;text-align:center;top:119.7px;font-size:6px;color:#555;letter-spacing:0.5px;">−3</div>
<div class="ft" style="left:2411.1px;width:300px;text-align:center;top:119.7px;font-size:6px;color:#555;letter-spacing:0.5px;">−2</div>
<div class="ft" style="left:2473.4px;width:300px;text-align:center;top:119.7px;font-size:6px;color:#555;letter-spacing:0.5px;">−1</div>
<div class="ft" style="left:2535.6px;width:300px;text-align:center;top:119.7px;font-size:6px;color:#555;letter-spacing:0.5px;">0</div>
<div class="hm" style="left:2374.4px;top:154.4px;width:311.2px;height:183.3px;background:#fb0"><b style="background:linear-gradient(#f70,#f70 42%,#8f7 44%,#007 45%,#006 54%,#007 55%,#6f9 56%,#fa0 57%,#fa0)"></b><b style="background:linear-gradient(#f50,#f50 42%,#bf4 44%,#007 45%,#006 46%,#006 54%,#007 55%,#7f8 56%,#fc0 57%,#fc0)"></b><b style="background:linear-gradient(#f40,#f40 41%,#f50 42%,#5fa 44%,#006 45%,#006 55%,#1ee 56%,#fc0 57%,#fb0)"></b><b style="background:linear-gradient(#f70,#f70 41%,#fa0 42%,#08f 44%,#006 45%,#006 55%,#06f 56%,#fc0 57%,#f90 59%,#f90)"></b><b style="background:linear-gradient(#f60,#f60 41%,#fb0 42%,#04e 44%,#006 45%,#006 55%,#03e 56%,#fd0 57%,#f90 59%,#f90)"></b><b style="background:linear-gradient(#f40,#f40 41%,#f50 42%,#3fc 44%,#006 45%,#006 55%,#1ee 56%,#f80 57%,#f70 59%,#f70)"></b><b style="background:linear-gradient(#f60,#f70 42%,#4fa 44%,#006 45%,#006 55%,#2fd 56%,#fa0 57%,#fa0)"></b><b style="background:linear-gradient(#f70,#f70 42%,#fe0 44%,#00c 45%,#006 46%,#006 54%,#00b 55%,#cf2 56%,#fc0 57%,#fc0)"></b><b style="background:linear-gradient(#f70,#f70 42%,#ef1 44%,#00a 45%,#006 46%,#006 54%,#00a 55%,#df2 56%,#f80 57%,#f80)"></b><b style="background:linear-gradient(#f60,#f60 42%,#7f7 44%,#006 45%,#006 55%,#7f8 56%,#f70 57%,#f70)"></b><b style="background:linear-gradient(#f40,#f40 41%,#f60 42%,#1ee 44%,#006 45%,#006 55%,#0cf 56%,#fa0 57%,#f90 59%,#f90)"></b><b style="background:linear-gradient(#f70,#f70 41%,#df2 42%,#009 44%,#006 45%,#006 55%,#009 56%,#bf3 57%,#f90 59%,#f90)"></b><b style="background:linear-gradient(#f70,#f70 41%,#df2 42%,#009 44%,#006 45%,#006 55%,#009 56%,#af4 57%,#fb0 59%,#fb0)"></b><b style="background:linear-gradient(#f60,#f70 41%,#4fb 42%,#006 44%,#006 56%,#3fc 57%,#f90 59%,#f90)"></b><b style="background:linear-gradient(#f70,#f70 40%,#fa0 41%,#09f 42%,#006 44%,#006 56%,#09f 57%,#fa0 59%,#f60 60%,#f60)"></b><b style="background:linear-gradient(#f70,#f70 41%,#7f8 42%,#006 44%,#006 56%,#6f8 57%,#f70 59%,#f70)"></b><b style="background:linear-gradient(#f50,#f50 41%,#ff0 42%,#00a 44%,#006 45%,#006 55%,#00a 56%,#df2 57%,#f80 59%,#f80)"></b><b style="background:linear-gradient(#f60,#f70 42%,#006 45%,#006 55%,#fb0 57%,#fb0)"></b><b style="background:linear-gradient(#f60,#f60 42%,#fa0 44%,#05e 45%,#006 46%,#006 54%,#01d 55%,#df2 56%,#fd0 57%,#fd0)"></b><b style="background:linear-gradient(#f50,#f50 44%,#ef1 45%,#009 46%,#006 48%,#006 52%,#009 54%,#bf3 55%,#f90 56%,#f90)"></b><b style="background:linear-gradient(#f30,#f30 44%,#ef1 45%,#009 46%,#007 48%,#007 52%,#009 54%,#af5 55%,#f90 56%,#f90)"></b><b style="background:linear-gradient(#f70,#f70 44%,#fc0 45%,#04e 46%,#007 48%,#007 52%,#04e 54%,#fc0 55%,#f60 56%,#f60)"></b><b style="background:linear-gradient(#f50,#f60 45%,#008 48%,#008 52%,#f70 55%,#f70)"></b><b style="background:linear-gradient(#f90,#f90 44%,#fb0 45%,#0df 46%,#009 48%,#009 52%,#0cf 54%,#fd0 55%,#fb0 56%,#fb0)"></b><b style="background:linear-gradient(#f80,#f80 44%,#fa0 45%,#1ee 46%,#00a 48%,#00a 52%,#0ef 54%,#fa0 55%,#f80 56%,#f80)"></b><b style="background:linear-gradient(#f50,#f50 44%,#f70 45%,#5fa 46%,#00a 48%,#00a 52%,#4fb 54%,#f90 55%,#f80 57%,#f80)"></b><b style="background:linear-gradient(#f60,#f60 44%,#f90 45%,#0ef 46%,#00b 48%,#00b 52%,#0af 54%,#ef0 55%,#fd0 56%,#fd0)"></b><b style="background:linear-gradient(#f50,#f50 44%,#f60 45%,#7f8 46%,#00b 48%,#00b 52%,#4fa 54%,#fa0 55%,#fa0 62%,#fa0)"></b><b style="background:linear-gradient(#f80,#f80 45%,#cf3 46%,#00d 48%,#00b 49%,#00b 51%,#00d 52%,#9f5 54%,#fc0 55%,#fc0)"></b><b style="background:linear-gradient(#f70,#f70 45%,#af4 46%,#00c 48%,#00b 51%,#00c 52%,#9f6 54%,#fa0 55%,#fa0)"></b><b style="background:linear-gradient(#f90,#f90 45%,#9f6 46%,#00c 48%,#00c 52%,#8f6 54%,#fa0 55%,#fa0)"></b><b style="background:linear-gradient(#fd0,#fd0 45%,#00c 48%,#00c 52%,#fc0 55%,#fc0)"></b><b style="background:linear-gradient(#fe0,#fe0 45%,#9f5 46%,#01d 48%,#00b 49%,#00b 51%,#01d 52%,#8f6 54%,#ff0 55%,#ff0)"></b><b style="background:linear-gradient(#fa0,#fa0 45%,#bf4 46%,#00d 48%,#00b 49%,#00b 51%,#00d 52%,#8f6 54%,#fd0 55%,#fd0)"></b><b style="background:linear-gradient(#fb0,#fb0 45%,#fe0 46%,#0af 48%,#00b 49%,#00b 51%,#09f 52%,#ef1 54%,#fc0 55%,#fc0)"></b><b style="background:linear-gradient(#fd0,#fd0 45%,#cf2 46%,#05e 48%,#00b 49%,#00b 51%,#04e 52%,#af5 54%,#ef1 55%,#ef1)"></b><b style="background:linear-gradient(#fc0,#fc0 44%,#fd0 45%,#1ee 46%,#00b 48%,#00b 52%,#0df 54%,#ef1 55%,#fe0 56%,#fe0)"></b><b style="background:linear-gradient(#fc0,#fc0 44%,#fd0 45%,#3fc 46%,#00b 48%,#00b 52%,#2fd 54%,#ff0 55%,#fe0 60%,#fe0)"></b><b style="background:linear-gradient(#fd0,#fd0 44%,#fe0 45%,#1ee 46%,#00b 48%,#00b 52%,#1ee 54%,#ff0 55%,#fd0 56%,#fd0)"></b><b style="background:linear-gradient(#fc0,#fc0 45%,#7f8 46%,#00c 48%,#00c 52%,#8f7 54%,#fb0 55%,#fb0)"></b><b style="background:linear-gradient(#fe0,#fe0 45%,#7f7 46%,#00c 48%,#00b 51%,#00c 52%,#9f6 54%,#fc0 55%,#fc0)"></b><b style="background:linear-gradient(#ff0,#ff0 45%,#6f8 46%,#00c 48%,#00b 51%,#00c 52%,#8f7 54%,#fe0 55%,#fe0)"></b><b style="background:linear-gradient(#fd0,#fd0 44%,#fe0 45%,#2fc 46%,#00b 48%,#00b 52%,#3fc 54%,#fe0 55%,#fd0 60%,#fd0)"></b><b style="background:linear-gradient(#fa0,#fa0 44%,#ef1 45%,#06f 46%,#00b 48%,#00b 52%,#04e 54%,#af5 55%,#ef1 56%,#ef1)"></b><b style="background:linear-gradient(#fc0,#fc0 44%,#fe0 45%,#0cf 46%,#00b 48%,#00b 52%,#0bf 54%,#ef1 55%,#fd0 56%,#fd0)"></b><b style="background:linear-gradient(#fe0,#fe0 44%,#ef0 45%,#0df 46%,#00b 48%,#00b 52%,#0ef 54%,#fd0 55%,#fb0 56%,#fb0)"></b><b style="background:linear-gradient(#fc0,#fd0 45%,#00c 48%,#00c 52%,#fb0 55%,#fa0)"></b><b style="background:linear-gradient(#fb0,#fb0 45%,#fd0 46%,#0ef 48%,#00b 49%,#00b 51%,#0cf 52%,#ff0 54%,#fd0 55%,#fd0)"></b><b style="background:linear-gradient(#fe0,#fe0 46%,#4fb 48%,#00b 49%,#00b 51%,#5fa 52%,#fc0 54%,#fc0)"></b><b style="background:linear-gradient(#ff0,#ff0 46%,#2fd 48%,#00b 49%,#00b 51%,#3fc 52%,#ff0 54%,#fe0)"></b><b style="background:linear-gradient(#fd0,#fd0 45%,#fe0 46%,#1ee 48%,#00b 49%,#00b 51%,#1ee 52%,#fe0 54%,#fd0 55%,#fd0)"></b><b style="background:linear-gradient(#ff0,#ff0 45%,#6f8 46%,#00c 48%,#00b 51%,#00c 52%,#8f7 54%,#fd0 55%,#fd0)"></b><b style="background:linear-gradient(#df2,#df2 45%,#1ee 46%,#00b 48%,#00b 52%,#3fc 54%,#ff0 55%,#fe0)"></b><b style="background:linear-gradient(#fd0,#fd0 44%,#fe0 45%,#2fd 46%,#00b 48%,#00b 52%,#4fb 54%,#fb0 55%,#fb0 59%,#fb0)"></b><b style="background:linear-gradient(#fd0,#fd0 44%,#ef1 45%,#0cf 46%,#00b 48%,#00b 52%,#0ef 54%,#fd0 55%,#fa0 56%,#fa0)"></b><b style="background:linear-gradient(#fb0,#fc0 45%,#4fa 46%,#00b 48%,#00b 52%,#3fb 54%,#fe0 55%,#fe0)"></b><b style="background:linear-gradient(#fd0,#fd0 45%,#4fa 46%,#00b 48%,#00b 52%,#3fb 54%,#ff0 55%,#fe0)"></b><b style="background:linear-gradient(#ef1,#ef1 45%,#7f7 46%,#00d 48%,#00b 49%,#00b 51%,#01d 52%,#af5 54%,#fc0 55%,#fc0)"></b><b style="background:linear-gradient(#ef1,#ef1 45%,#7f8 46%,#00d 48%,#00b 50%,#00b 51%,#00d 52%,#9f6 54%,#fe0 55%,#fe0)"></b><b style="background:linear-gradient(#fc0,#fc0 45%,#7f8 46%,#00c 48%,#00c 52%,#5fa 54%,#ff0 55%,#ff0)"></b><b style="background:linear-gradient(#fc0,#fd0 45%,#4fa 46%,#00b 48%,#00b 52%,#3fc 54%,#ff0 55%,#ff0)"></b><b style="background:linear-gradient(#ff0,#ff0 44%,#9f5 45%,#02e 46%,#00b 48%,#00b 52%,#03e 54%,#af4 55%,#fe0 56%,#fe0)"></b><b style="background:linear-gradient(#ff0,#ff0 44%,#9f5 45%,#02e 46%,#00b 48%,#00b 52%,#03e 54%,#cf2 55%,#fb0 56%,#fb0)"></b><b style="background:linear-gradient(#df1,#df1 44%,#8f6 45%,#02d 46%,#00b 48%,#00b 52%,#03e 54%,#bf4 55%,#fd0 56%,#fd0)"></b><b style="background:linear-gradient(#fe0,#fe0 44%,#9f5 45%,#01d 46%,#00b 48%,#00b 52%,#02d 54%,#af5 55%,#fe0 56%,#fe0)"></b><b style="background:linear-gradient(#ef1,#ef1 44%,#df2 45%,#0ef 46%,#00b 48%,#00b 52%,#2fd 54%,#fd0 55%,#fd0 57%,#fd0)"></b><b style="background:linear-gradient(#fd0,#fd0 45%,#4fa 46%,#00c 48%,#00c 52%,#6f8 54%,#f90 55%,#f90)"></b><b style="background:linear-gradient(#fb0,#fc0 45%,#5fa 46%,#00b 48%,#00b 52%,#4fa 54%,#fc0 55%,#fc0)"></b><b style="background:linear-gradient(#fc0,#fc0 45%,#cf3 46%,#03e 48%,#00b 49%,#00b 51%,#03e 52%,#cf3 54%,#fb0 55%,#fb0)"></b><b style="background:linear-gradient(#fa0,#fa0 44%,#fa0 45%,#4fb 46%,#00b 48%,#00b 52%,#3fc 54%,#fd0 55%,#fc0 59%,#fc0)"></b><b style="background:linear-gradient(#fc0,#fc0 45%,#6f8 46%,#00c 48%,#00c 52%,#6f9 54%,#fd0 55%,#fd0)"></b><b style="background:linear-gradient(#fb0,#fb0 45%,#5f9 46%,#00c 48%,#00c 52%,#fd0 55%,#fd0)"></b><b style="background:linear-gradient(#fb0,#fb0 44%,#fd0 45%,#1ee 46%,#00b 48%,#00b 52%,#0ef 54%,#ff0 55%,#fe0 56%,#fe0)"></b><b style="background:linear-gradient(#fb0,#fb0 44%,#fc0 45%,#2fc 46%,#00b 48%,#00b 52%,#0df 54%,#cf2 55%,#df1 57%,#df1)"></b><b style="background:linear-gradient(#fe0,#fe0 44%,#cf3 45%,#05e 46%,#00b 48%,#00b 52%,#05e 54%,#cf2 55%,#fd0 56%,#fd0)"></b><b style="background:linear-gradient(#fe0,#fe0 44%,#ef1 45%,#0df 46%,#00b 48%,#00b 52%,#0ef 54%,#fe0 55%,#fc0 56%,#fc0)"></b><b style="background:linear-gradient(#fc0,#fc0 45%,#4fa 46%,#00b 48%,#00b 52%,#3fc 54%,#ff0 55%,#fe0)"></b><b style="background:linear-gradient(#fd0,#fd0 45%,#7f8 46%,#00c 48%,#00c 52%,#8f7 54%,#fc0 55%,#fc0)"></b><i style="top:0;height:45%;background:repeating-linear-gradient(91deg,#ff05 0 1.2px,#ff00 1.2px 5px),repeating-linear-gradient(88.5deg,#f105 0 1.4px,#f100 1.4px 7.3px),repeating-linear-gradient(90.5deg,#fa05 0 1px,#fa00 1px 3.1px);-webkit-mask-image:linear-gradient(#000 75%,#0000)"></i><i style="bottom:0;height:45%;background:repeating-linear-gradient(89deg,#ff05 0 1.2px,#ff00 1.2px 5.3px),repeating-linear-gradient(91.5deg,#f105 0 1.4px,#f100 1.4px 6.7px),repeating-linear-gradient(89.5deg,#fa05 0 1px,#fa00 1px 3.3px);-webkit-mask-image:linear-gradient(#0000,#000 25%)"></i></div>
<div class="ft" style="left:2224.4px;width:300px;text-align:center;top:343.6px;font-size:13.6px;color:#6b6b6b;letter-spacing:1.0px;">0</div>
<div class="ft" style="left:2302.2px;width:300px;text-align:center;top:343.6px;font-size:13.6px;color:#6b6b6b;letter-spacing:1.0px;">50</div>
<div class="ft" style="left:2380.0px;width:300px;text-align:center;top:343.6px;font-size:13.6px;color:#6b6b6b;letter-spacing:1.0px;">100</div>
<div class="ft" style="left:2457.8px;width:300px;text-align:center;top:343.6px;font-size:13.6px;color:#6b6b6b;letter-spacing:1.0px;">150</div>
<div class="ft" style="left:2535.6px;width:300px;text-align:center;top:343.6px;font-size:13.6px;color:#6b6b6b;letter-spacing:1.0px;">200</div>
<div class="ft" style="left:2373.8px;width:300px;text-align:center;top:362.4px;font-size:13.6px;color:#6b6b6b;letter-spacing:1.6px;">t&nbsp; Ω/2π</div>
<div class="ft" style="left:2365.0px;top:150.3px;width:0;height:0;font-size:13.2px;color:#6b6b6b;letter-spacing:0.9px;"><div style="position:absolute;left:-150px;width:300px;text-align:center;top:-11.9px;transform-origin:150px 11.9px;transform:rotate(-90deg)">16</div></div>
<div class="ft" style="left:2365.0px;top:199.8px;width:0;height:0;font-size:13.2px;color:#6b6b6b;letter-spacing:0.9px;"><div style="position:absolute;left:-150px;width:300px;text-align:center;top:-11.9px;transform-origin:150px 11.9px;transform:rotate(-90deg)">8</div></div>
<div class="ft" style="left:2365.0px;top:245.0px;width:0;height:0;font-size:13.2px;color:#6b6b6b;letter-spacing:0.9px;"><div style="position:absolute;left:-150px;width:300px;text-align:center;top:-11.9px;transform-origin:150px 11.9px;transform:rotate(-90deg)">0</div></div>
<div class="ft" style="left:2365.0px;top:290.6px;width:0;height:0;font-size:13.2px;color:#6b6b6b;letter-spacing:0.9px;"><div style="position:absolute;left:-150px;width:300px;text-align:center;top:-11.9px;transform-origin:150px 11.9px;transform:rotate(-90deg)">−8</div></div>
<div class="ft" style="left:2365.0px;top:337.0px;width:0;height:0;font-size:13.2px;color:#6b6b6b;letter-spacing:0.9px;"><div style="position:absolute;left:-150px;width:300px;text-align:center;top:-11.9px;transform-origin:150px 11.9px;transform:rotate(-90deg)">−16</div></div>
<div class="ft" style="left:2346.7px;top:240.6px;width:0;height:0;font-size:13.2px;color:#6b6b6b;letter-spacing:0.9px;"><div style="position:absolute;left:-150px;width:300px;text-align:center;top:-11.9px;transform-origin:150px 11.9px;transform:rotate(-90deg)">z/H<sub>0</sub></div></div>
<div style="position:absolute;left:2679.1px;top:187.2px;width:6.5px;height:1.5px;background:#000"></div>
<div class="ft" style="left:2697.2px;top:188.0px;width:0;height:0;font-size:13.2px;color:#6b6b6b;letter-spacing:0.9px;"><div style="position:absolute;left:-150px;width:300px;text-align:center;top:-11.9px;transform-origin:150px 11.9px;transform:rotate(-90deg)">3</div></div>
<div style="position:absolute;left:2679.1px;top:227.0px;width:6.5px;height:1.5px;background:#000"></div>
<div class="ft" style="left:2697.2px;top:227.8px;width:0;height:0;font-size:13.2px;color:#6b6b6b;letter-spacing:0.9px;"><div style="position:absolute;left:-150px;width:300px;text-align:center;top:-11.9px;transform-origin:150px 11.9px;transform:rotate(-90deg)">2</div></div>
<div style="position:absolute;left:2679.1px;top:236.6px;width:6.5px;height:1.5px;background:#000"></div>
<div style="position:absolute;left:2679.1px;top:244.7px;width:6.5px;height:1.5px;background:#000"></div>
<div class="ft" style="left:2697.2px;top:245.5px;width:0;height:0;font-size:13.2px;color:#6b6b6b;letter-spacing:0.9px;"><div style="position:absolute;left:-150px;width:300px;text-align:center;top:-11.9px;transform-origin:150px 11.9px;transform:rotate(-90deg)">0</div></div>
<div style="position:absolute;left:2679.1px;top:252.9px;width:6.5px;height:1.5px;background:#000"></div>
<div style="position:absolute;left:2679.1px;top:262.0px;width:6.5px;height:1.5px;background:#000"></div>
<div class="ft" style="left:2697.2px;top:262.8px;width:0;height:0;font-size:13.2px;color:#6b6b6b;letter-spacing:0.9px;"><div style="position:absolute;left:-150px;width:300px;text-align:center;top:-11.9px;transform-origin:150px 11.9px;transform:rotate(-90deg)">−2</div></div>
<div style="position:absolute;left:2679.1px;top:302.3px;width:6.5px;height:1.5px;background:#000"></div>
<div class="ft" style="left:2697.2px;top:303.1px;width:0;height:0;font-size:13.2px;color:#6b6b6b;letter-spacing:0.9px;"><div style="position:absolute;left:-150px;width:300px;text-align:center;top:-11.9px;transform-origin:150px 11.9px;transform:rotate(-90deg)">−3</div></div>
<div class="ft" style="left:2720.1px;top:236.6px;width:0;height:0;font-size:12.6px;color:#6b6b6b;letter-spacing:1.0px;"><div style="position:absolute;left:-150px;width:300px;text-align:center;top:-11.4px;transform-origin:150px 11.4px;transform:rotate(-90deg)"><span style="font-size:1.3em;font-family:&quot;Liberation Serif&quot;,serif;font-style:italic">∫</span><sub>0</sub><sup style="margin-left:-2px">z</sup>dz/&lt;h(z)&gt;</div></div>
<div class="ft" style="left:2375.4px;top:383.1px;font-size:12.4px;color:#6b6b6b;letter-spacing:2.0px;"><i style="font-family:&quot;Liberation Serif&quot;,serif;font-size:1.1em">γ</i>=1.03</div>
<div class="ft" style="left:2387.2px;width:300px;text-align:center;top:380.7px;font-size:12.4px;color:#6b6b6b;letter-spacing:1.1px;">log(α)</div>
<div class="cb" style="left:2374.4px;top:414.5px;width:311.2px;height:10.6px;background:linear-gradient(90deg,#005 0%,#0000a0 10%,#00d 18%,#0038f0 22%,#0090ff 27%,#00f0ff 33%,#4fb 40%,#90ff68 50%,#cf3 57%,#ff0 66%,#ffc000 75%,#ff9000 82%,#f50 90%,#f10 100%)"></div>
<div class="ft" style="left:2224.4px;width:300px;text-align:center;top:403.8px;font-size:6px;color:#555;letter-spacing:0.5px;">−5</div>
<div class="ft" style="left:2286.6px;width:300px;text-align:center;top:403.8px;font-size:6px;color:#555;letter-spacing:0.5px;">−4</div>
<div class="ft" style="left:2348.9px;width:300px;text-align:center;top:403.8px;font-size:6px;color:#555;letter-spacing:0.5px;">−3</div>
<div class="ft" style="left:2411.1px;width:300px;text-align:center;top:403.8px;font-size:6px;color:#555;letter-spacing:0.5px;">−2</div>
<div class="ft" style="left:2473.4px;width:300px;text-align:center;top:403.8px;font-size:6px;color:#555;letter-spacing:0.5px;">−1</div>
<div class="ft" style="left:2535.6px;width:300px;text-align:center;top:403.8px;font-size:6px;color:#555;letter-spacing:0.5px;">0</div>
<div class="hm" style="left:2374.4px;top:438.5px;width:311.2px;height:183.3px;background:#fb0"><b style="background:linear-gradient(#f30,#f30 25%,#0df 28%,#006 30%,#006 70%,#0ef 72%,#f20 75%,#f10)"></b><b style="background:linear-gradient(#f50,#f50 25%,#f90 28%,#006 30%,#006 70%,#f50 72%,#f10 75%,#f10)"></b><b style="background:linear-gradient(#f60,#f60 25%,#f80 28%,#3fc 30%,#006 32%,#006 68%,#5fa 70%,#f40 72%,#f20 78%,#f20)"></b><b style="background:linear-gradient(#f90,#f90 25%,#fc0 30%,#007 32%,#006 38%,#006 65%,#007 68%,#fa0 70%,#f60 75%,#f60)"></b><b style="background:linear-gradient(#f70,#f80 25%,#fb0 30%,#6f8 32%,#006 35%,#006 65%,#8f6 68%,#f80 70%,#f30 75%,#f30)"></b><b style="background:linear-gradient(#f60,#f70 25%,#fd0 32%,#00a 35%,#006 38%,#006 62%,#00a 65%,#fe0 68%,#f90 75%,#f80)"></b><b style="background:linear-gradient(#f10,#f10 25%,#f20 28%,#f90 32%,#df2 35%,#006 38%,#006 62%,#bf4 65%,#fc0 68%,#f60 72%,#f30 78%,#f30)"></b><b style="background:linear-gradient(#f30,#f30 22%,#f50 28%,#ff0 35%,#04e 38%,#006 40%,#006 60%,#05e 62%,#fe0 65%,#f40 72%,#f20 75%,#f10)"></b><b style="background:linear-gradient(#f30,#f30 22%,#f60 28%,#bf3 38%,#006 40%,#006 60%,#cf3 62%,#f40 72%,#f20 75%,#f10 80%,#f10)"></b><b style="background:linear-gradient(#f60,#f60 22%,#f90 28%,#bf4 38%,#2ed 40%,#006 42%,#006 57%,#2fd 60%,#cf3 62%,#f60 72%,#f20 78%,#f20)"></b><b style="background:linear-gradient(#f50,#f60 22%,#f90 28%,#9f5 40%,#00b 42%,#006 45%,#006 55%,#00b 57%,#9f5 60%,#fc0 68%,#f30 75%,#f10 80%,#f10)"></b><b style="background:linear-gradient(#f20,#f20 22%,#f60 28%,#bf3 38%,#8f7 42%,#006 45%,#006 55%,#8f7 57%,#ef1 65%,#f50 75%,#f40 80%,#f40)"></b><b style="background:linear-gradient(#f40,#f50 22%,#f80 28%,#bf4 38%,#8f6 42%,#3fc 45%,#006 48%,#006 52%,#3fc 55%,#8f6 57%,#cf3 65%,#fb0 75%,#f90 82%,#f90)"></b><b style="background:linear-gradient(#f10,#f10 22%,#f20 25%,#bf3 38%,#8f6 42%,#8f6 45%,#09f 48%,#006 50%,#09f 52%,#8f6 55%,#9f5 62%,#ff0 78%,#ff0)"></b><b style="background:linear-gradient(#f60,#f60 22%,#fc0 30%,#af4 38%,#8f6 42%,#9f6 60%,#ff0 68%,#f70 75%,#f50 80%,#f50)"></b><b style="background:linear-gradient(#f40,#f40 22%,#fc0 30%,#bf4 38%,#9f6 42%,#9f5 60%,#df2 65%,#f50 75%,#f30 80%,#f30)"></b><b style="background:linear-gradient(#f10,#f10 25%,#bf3 38%,#9f5 40%,#9f5 60%,#df1 65%,#f40 75%,#f10 80%,#f10)"></b><b style="background:linear-gradient(#f10,#f10 22%,#f20 25%,#bf4 38%,#9f5 40%,#9f5 60%,#df2 65%,#f40 75%,#f10 80%,#f10)"></b><b style="background:linear-gradient(#f20,#f20 20%,#f50 25%,#af4 38%,#9f6 42%,#9f6 60%,#cf2 65%,#f70 75%,#f40 80%,#f40)"></b><b style="background:linear-gradient(#f60,#f60 20%,#f90 25%,#af5 38%,#9f6 45%,#9f6 60%,#cf3 65%,#f50 78%,#f40 82%,#f40)"></b><b style="background:linear-gradient(#f50,#f60 20%,#f90 25%,#af5 38%,#9f6 45%,#9f5 60%,#cf2 65%,#f30 78%,#f20 82%,#f20)"></b><b style="background:linear-gradient(#f50,#f60 20%,#fb0 28%,#af5 38%,#9f6 48%,#af5 62%,#fa0 78%,#f80 85%,#f80)"></b><b style="background:linear-gradient(#f50,#f60 20%,#fc0 28%,#bf3 35%,#9f5 40%,#af5 62%,#fd0 72%,#f80 80%,#f80)"></b><b style="background:linear-gradient(#fd0,#fd0 20%,#af5 38%,#af5 62%,#fb0 80%,#fb0)"></b><b style="background:linear-gradient(#cf3,#bf4 25%,#9f5 45%,#af5 62%,#ff0 72%,#fb0 80%,#fa0)"></b><b style="background:linear-gradient(#ef1,#df2 22%,#9f5 40%,#af5 65%,#ff0 80%,#ff0)"></b><b style="background:linear-gradient(#fc0,#fd0 20%,#af5 38%,#af5 62%,#df1 70%,#fa0 80%,#fa0)"></b><b style="background:linear-gradient(#ff0,#ff0 20%,#af5 38%,#af4 65%,#fd0 80%,#fd0)"></b><b style="background:linear-gradient(#fa0,#fb0 20%,#af4 35%,#af5 60%,#cf3 68%,#fb0 80%,#fb0)"></b><b style="background:linear-gradient(#fb0,#fc0 20%,#af4 35%,#af5 62%,#ef1 70%,#f90 80%,#f90 90%,#f90)"></b><b style="background:linear-gradient(#f90,#f90 18%,#fd0 25%,#af4 35%,#af5 62%,#df1 70%,#f90 80%,#f80 88%,#f80)"></b><b style="background:linear-gradient(#fd0,#fe0 20%,#af4 35%,#af4 65%,#fd0 82%,#fd0)"></b><b style="background:linear-gradient(#df2,#cf3 22%,#af5 40%,#bf4 65%,#fe0 72%,#f80 80%,#f60 85%,#f60)"></b><b style="background:linear-gradient(#fb0,#fb0 18%,#af4 35%,#af4 65%,#fb0 82%,#fb0)"></b><b style="background:linear-gradient(#f80,#f90 18%,#af4 35%,#af4 65%,#fd0 82%,#fd0)"></b><b style="background:linear-gradient(#fe0,#ff0 20%,#af4 35%,#bf4 65%,#ff0 72%,#f60 82%,#f60)"></b><b style="background:linear-gradient(#cf2,#bf3 25%,#af4 48%,#af4 65%,#ff0 75%,#fb0 82%,#fb0)"></b><b style="background:linear-gradient(#fe0,#fe0 18%,#af4 35%,#af4 65%,#ef1 72%,#fa0 82%,#f90)"></b><b style="background:linear-gradient(#fc0,#fc0 18%,#bf4 32%,#bf4 68%,#fe0 85%,#fe0)"></b><b style="background:linear-gradient(#f70,#f80 15%,#fc0 22%,#bf3 32%,#bf4 62%,#cf3 70%,#fd0 85%,#fc0)"></b><b style="background:linear-gradient(#f80,#f80 15%,#fc0 22%,#bf3 32%,#bf4 65%,#df2 70%,#f80 82%,#f60 90%,#f60)"></b><b style="background:linear-gradient(#fd0,#fd0 18%,#bf4 32%,#bf3 68%,#fc0 78%,#f70 85%,#f70)"></b><b style="background:linear-gradient(#fb0,#fb0 15%,#bf4 32%,#bf3 68%,#fd0 78%,#f80 85%,#f80)"></b><b style="background:linear-gradient(#fd0,#fe0 18%,#bf4 32%,#bf3 68%,#fe0 75%,#f80 85%,#f70)"></b><b style="background:linear-gradient(#fa0,#fb0 15%,#bf4 32%,#bf4 68%,#fb0 85%,#fb0)"></b><b style="background:linear-gradient(#fb0,#fc0 15%,#bf4 32%,#bf3 70%,#fe0 88%,#fe0)"></b><b style="background:linear-gradient(#fe0,#ff0 18%,#bf4 32%,#bf3 70%,#fe0 88%,#fe0)"></b><b style="background:linear-gradient(#fa0,#fb0 15%,#cf3 30%,#bf3 68%,#ff0 78%,#fb0 88%,#fb0)"></b><b style="background:linear-gradient(#fb0,#fc0 15%,#cf3 30%,#cf3 75%,#df2)"></b><b style="background:linear-gradient(#ff0,#ef1 18%,#bf3 35%,#cf3 70%,#fb0 88%,#fb0)"></b><b style="background:linear-gradient(#fa0,#fa0 12%,#cf3 30%,#cf3 70%,#fd0 88%,#fd0)"></b><b style="background:linear-gradient(#fa0,#fb0 12%,#cf3 30%,#cf3 70%,#f90 88%,#f90)"></b><b style="background:linear-gradient(#fa0,#fa0 12%,#cf3 30%,#cf3 70%,#fa0 88%,#f90)"></b><b style="background:linear-gradient(#fd0,#fe0 15%,#cf3 30%,#cf3 75%,#df1 98%,#df1)"></b><b style="background:linear-gradient(#fb0,#fc0 12%,#cf3 30%,#cf3 72%,#fe0 90%,#fe0)"></b><b style="background:linear-gradient(#fa0,#fb0 12%,#cf3 30%,#cf3 70%,#ff0 78%,#f90 88%,#f80)"></b><b style="background:linear-gradient(#f40,#f40 10%,#f90 18%,#df2 28%,#cf3 35%,#cf2 72%,#fa0 88%,#fa0)"></b><b style="background:linear-gradient(#f90,#f90 12%,#cf2 28%,#cf3 72%,#fd0 90%,#fd0)"></b><b style="background:linear-gradient(#f80,#f90 12%,#cf2 28%,#cf3 72%,#fd0 90%,#fd0)"></b><b style="background:linear-gradient(#fb0,#fc0 12%,#cf2 28%,#cf2 75%,#fe0 92%,#fe0)"></b><b style="background:linear-gradient(#fb0,#fc0 12%,#cf2 28%,#cf2 72%,#fa0 90%,#fa0)"></b><b style="background:linear-gradient(#fb0,#fc0 12%,#cf2 28%,#cf2 72%,#fb0 90%,#fa0)"></b><b style="background:linear-gradient(#fc0,#fd0 12%,#cf2 28%,#cf2 72%,#fc0 82%,#f80 90%,#f70)"></b><b style="background:linear-gradient(#fa0,#fa0 10%,#cf2 28%,#cf2 72%,#fa0 90%,#fa0)"></b><b style="background:linear-gradient(#fc0,#fd0 12%,#cf2 28%,#cf2 72%,#fd0 82%,#f90 92%,#f90)"></b><b style="background:linear-gradient(#f80,#f90 10%,#df2 25%,#cf2 48%,#df2 75%,#fa0 90%,#f90)"></b><b style="background:linear-gradient(#f90,#fa0 10%,#df2 25%,#cf2 72%,#ff0 80%,#f90 90%,#f80)"></b><b style="background:linear-gradient(#fb0,#fc0 10%,#df2 25%,#df2 75%,#fb0 92%,#fa0)"></b><b style="background:linear-gradient(#fd0,#fe0 12%,#cf2 28%,#df2 75%,#f80 92%,#f80)"></b><b style="background:linear-gradient(#f90,#fa0 10%,#df2 25%,#df2 78%,#ff0 98%,#ff0)"></b><b style="background:linear-gradient(#f70,#f80 8%,#df2 25%,#df2 78%,#ff0 98%,#ff0)"></b><b style="background:linear-gradient(#fb0,#fc0 10%,#df2 25%,#df2 85%,#ef1)"></b><b style="background:linear-gradient(#fe0,#ff0 12%,#df2 28%,#df2 80%,#ff0 98%,#ff0)"></b><b style="background:linear-gradient(#fe0,#ff0 12%,#df2 28%,#df2 75%,#fb0 88%,#f90 95%,#f90)"></b><b style="background:linear-gradient(#f40,#f40 8%,#ef1 22%,#df2 30%,#df1 78%,#fa0 92%,#fa0)"></b><b style="background:linear-gradient(#fa0,#fa0 8%,#df1 22%,#df1 78%,#fa0 92%,#f90)"></b><b style="background:linear-gradient(#fb0,#fc0 10%,#df1 22%,#df2 78%,#fd0 98%,#fd0)"></b><b style="background:linear-gradient(#fa0,#fb0 8%,#df1 22%,#df2 78%,#fd0 98%,#fd0)"></b><i style="top:0;height:36%;background:repeating-linear-gradient(91deg,#ff05 0 1.2px,#ff00 1.2px 5px),repeating-linear-gradient(88.5deg,#f105 0 1.4px,#f100 1.4px 7.3px),repeating-linear-gradient(90.5deg,#fa05 0 1px,#fa00 1px 3.1px);-webkit-mask-image:linear-gradient(#000 75%,#0000)"></i><i style="bottom:0;height:36%;background:repeating-linear-gradient(89deg,#ff05 0 1.2px,#ff00 1.2px 5.3px),repeating-linear-gradient(91.5deg,#f105 0 1.4px,#f100 1.4px 6.7px),repeating-linear-gradient(89.5deg,#fa05 0 1px,#fa00 1px 3.3px);-webkit-mask-image:linear-gradient(#0000,#000 25%)"></i></div>
<div class="ft" style="left:2224.4px;width:300px;text-align:center;top:627.7px;font-size:13.6px;color:#6b6b6b;letter-spacing:1.0px;">0</div>
<div class="ft" style="left:2302.2px;width:300px;text-align:center;top:627.7px;font-size:13.6px;color:#6b6b6b;letter-spacing:1.0px;">50</div>
<div class="ft" style="left:2380.0px;width:300px;text-align:center;top:627.7px;font-size:13.6px;color:#6b6b6b;letter-spacing:1.0px;">100</div>
<div class="ft" style="left:2457.8px;width:300px;text-align:center;top:627.7px;font-size:13.6px;color:#6b6b6b;letter-spacing:1.0px;">150</div>
<div class="ft" style="left:2535.6px;width:300px;text-align:center;top:627.7px;font-size:13.6px;color:#6b6b6b;letter-spacing:1.0px;">200</div>
<div class="ft" style="left:2373.8px;width:300px;text-align:center;top:646.5px;font-size:13.6px;color:#6b6b6b;letter-spacing:1.6px;">t&nbsp; Ω/2π</div>
<div class="ft" style="left:2365.0px;top:529.0px;width:0;height:0;font-size:13.2px;color:#6b6b6b;letter-spacing:0.9px;"><div style="position:absolute;left:-150px;width:300px;text-align:center;top:-11.9px;transform-origin:150px 11.9px;transform:rotate(-90deg)">0</div></div>
<div class="ft" style="left:2346.7px;top:524.6px;width:0;height:0;font-size:13.2px;color:#6b6b6b;letter-spacing:0.9px;"><div style="position:absolute;left:-150px;width:300px;text-align:center;top:-11.9px;transform-origin:150px 11.9px;transform:rotate(-90deg)">z/H<sub>0</sub></div></div>
<div style="position:absolute;left:2679.1px;top:457.4px;width:6.5px;height:1.5px;background:#000"></div>
<div class="ft" style="left:2697.2px;top:458.2px;width:0;height:0;font-size:13.2px;color:#6b6b6b;letter-spacing:0.9px;"><div style="position:absolute;left:-150px;width:300px;text-align:center;top:-11.9px;transform-origin:150px 11.9px;transform:rotate(-90deg)">3</div></div>
<div style="position:absolute;left:2679.1px;top:483.8px;width:6.5px;height:1.5px;background:#000"></div>
<div class="ft" style="left:2697.2px;top:484.6px;width:0;height:0;font-size:13.2px;color:#6b6b6b;letter-spacing:0.9px;"><div style="position:absolute;left:-150px;width:300px;text-align:center;top:-11.9px;transform-origin:150px 11.9px;transform:rotate(-90deg)">2</div></div>
<div style="position:absolute;left:2679.1px;top:508.8px;width:6.5px;height:1.5px;background:#000"></div>
<div class="ft" style="left:2697.2px;top:509.6px;width:0;height:0;font-size:13.2px;color:#6b6b6b;letter-spacing:0.9px;"><div style="position:absolute;left:-150px;width:300px;text-align:center;top:-11.9px;transform-origin:150px 11.9px;transform:rotate(-90deg)">1</div></div>
<div style="position:absolute;left:2679.1px;top:528.9px;width:6.5px;height:1.5px;background:#000"></div>
<div class="ft" style="left:2697.2px;top:529.7px;width:0;height:0;font-size:13.2px;color:#6b6b6b;letter-spacing:0.9px;"><div style="position:absolute;left:-150px;width:300px;text-align:center;top:-11.9px;transform-origin:150px 11.9px;transform:rotate(-90deg)">0</div></div>
<div style="position:absolute;left:2679.1px;top:549.1px;width:6.5px;height:1.5px;background:#000"></div>
<div class="ft" style="left:2697.2px;top:549.9px;width:0;height:0;font-size:13.2px;color:#6b6b6b;letter-spacing:0.9px;"><div style="position:absolute;left:-150px;width:300px;text-align:center;top:-11.9px;transform-origin:150px 11.9px;transform:rotate(-90deg)">−1</div></div>
<div style="position:absolute;left:2679.1px;top:572.6px;width:6.5px;height:1.5px;background:#000"></div>
<div class="ft" style="left:2697.2px;top:573.4px;width:0;height:0;font-size:13.2px;color:#6b6b6b;letter-spacing:0.9px;"><div style="position:absolute;left:-150px;width:300px;text-align:center;top:-11.9px;transform-origin:150px 11.9px;transform:rotate(-90deg)">−2</div></div>
<div style="position:absolute;left:2679.1px;top:599.9px;width:6.5px;height:1.5px;background:#000"></div>
<div class="ft" style="left:2697.2px;top:600.7px;width:0;height:0;font-size:13.2px;color:#6b6b6b;letter-spacing:0.9px;"><div style="position:absolute;left:-150px;width:300px;text-align:center;top:-11.9px;transform-origin:150px 11.9px;transform:rotate(-90deg)">−3</div></div>
<div class="ft" style="left:2720.1px;top:520.6px;width:0;height:0;font-size:12.6px;color:#6b6b6b;letter-spacing:1.0px;"><div style="position:absolute;left:-150px;width:300px;text-align:center;top:-11.4px;transform-origin:150px 11.4px;transform:rotate(-90deg)"><span style="font-size:1.3em;font-family:&quot;Liberation Serif&quot;,serif;font-style:italic">∫</span><sub>0</sub><sup style="margin-left:-2px">z</sup>dz/&lt;h(z)&gt;</div></div>
<div class="ft" style="left:2375.4px;top:667.2px;font-size:12.4px;color:#6b6b6b;letter-spacing:2.0px;"><i style="font-family:&quot;Liberation Serif&quot;,serif;font-size:1.1em">γ</i>=1.0</div>
<div class="ft" style="left:2387.2px;width:300px;text-align:center;top:664.8px;font-size:12.4px;color:#6b6b6b;letter-spacing:1.1px;">log(α)</div>
<div class="cb" style="left:2374.4px;top:698.6px;width:311.2px;height:10.6px;background:linear-gradient(90deg,#005 0%,#0000a0 10%,#00d 18%,#0038f0 22%,#0090ff 27%,#00f0ff 33%,#4fb 40%,#90ff68 50%,#cf3 57%,#ff0 66%,#ffc000 75%,#ff9000 82%,#f50 90%,#f10 100%)"></div>
<div class="ft" style="left:2224.4px;width:300px;text-align:center;top:687.9px;font-size:6px;color:#555;letter-spacing:0.5px;">−5</div>
<div class="ft" style="left:2286.6px;width:300px;text-align:center;top:687.9px;font-size:6px;color:#555;letter-spacing:0.5px;">−4</div>
<div class="ft" style="left:2348.9px;width:300px;text-align:center;top:687.9px;font-size:6px;color:#555;letter-spacing:0.5px;">−3</div>
<div class="ft" style="left:2411.1px;width:300px;text-align:center;top:687.9px;font-size:6px;color:#555;letter-spacing:0.5px;">−2</div>
<div class="ft" style="left:2473.4px;width:300px;text-align:center;top:687.9px;font-size:6px;color:#555;letter-spacing:0.5px;">−1</div>
<div class="ft" style="left:2535.6px;width:300px;text-align:center;top:687.9px;font-size:6px;color:#555;letter-spacing:0.5px;">0</div>
<div class="hm" style="left:2374.4px;top:722.6px;width:311.2px;height:183.3px;background:#fb0"><b style="background:linear-gradient(#f80,#f80 20%,#006 25%,#006 75%,#f40 80%,#f40)"></b><b style="background:linear-gradient(#f80,#f80 20%,#fb0 22%,#006 25%,#006 75%,#fc0 78%,#f80 80%,#f80)"></b><b style="background:linear-gradient(#f40,#f40 20%,#f40 22%,#03e 25%,#006 28%,#006 72%,#03e 75%,#f40 78%,#f30 85%,#f30)"></b><b style="background:linear-gradient(#f40,#f40 20%,#f50 22%,#df2 25%,#006 28%,#006 72%,#ef0 75%,#f30 78%,#f20 82%,#f20)"></b><b style="background:linear-gradient(#f70,#f70 20%,#fa0 25%,#008 28%,#006 30%,#006 70%,#008 72%,#f30 75%,#f10 78%,#f10)"></b><b style="background:linear-gradient(#f50,#f50 20%,#f80 25%,#3fc 28%,#006 30%,#006 70%,#4fa 72%,#f50 75%,#f20 80%,#f20)"></b><b style="background:linear-gradient(#f30,#f30 20%,#f60 25%,#fc0 28%,#006 30%,#006 70%,#ef1 72%,#fc0 75%,#f90 80%,#f90)"></b><b style="background:linear-gradient(#f80,#f80 20%,#fb0 25%,#fd0 28%,#01d 30%,#006 32%,#006 68%,#01d 70%,#ff0 72%,#fa0 80%,#fa0)"></b><b style="background:linear-gradient(#f40,#f40 20%,#f80 25%,#fb0 28%,#af4 30%,#006 32%,#006 68%,#9f6 70%,#fd0 72%,#f90 78%,#f80 82%,#f80)"></b><b style="background:linear-gradient(#f20,#f20 20%,#f60 25%,#fd0 30%,#009 32%,#006 35%,#006 65%,#009 68%,#df2 70%,#fb0 78%,#fa0 85%,#fa0)"></b><b style="background:linear-gradient(#f30,#f40 20%,#f80 25%,#fe0 30%,#4fb 32%,#006 35%,#006 65%,#3fc 68%,#ef1 70%,#f90 78%,#f70 82%,#f70)"></b><b style="background:linear-gradient(#fa0,#fb0 20%,#ff0 28%,#af4 32%,#007 35%,#006 40%,#006 62%,#007 65%,#cf3 68%,#f70 78%,#f50 82%,#f50)"></b><b style="background:linear-gradient(#f10,#f10 20%,#f50 25%,#ef1 32%,#0af 35%,#006 38%,#006 62%,#09f 65%,#cf3 68%,#f70 78%,#f50 82%,#f50)"></b><b style="background:linear-gradient(#f10,#f10 20%,#f20 22%,#ef1 32%,#af5 35%,#006 38%,#006 62%,#8f7 65%,#fa0 78%,#f80 82%,#f80)"></b><b style="background:linear-gradient(#f90,#fa0 20%,#ff0 28%,#8f7 35%,#02e 38%,#006 40%,#006 60%,#02e 62%,#8f6 65%,#f90 78%,#f70 82%,#f70)"></b><b style="background:linear-gradient(#fa0,#fb0 20%,#ef1 28%,#5fa 38%,#006 40%,#006 60%,#5f9 62%,#f90 78%,#f60 82%,#f60)"></b><b style="background:linear-gradient(#f50,#f50 18%,#f80 22%,#6f8 38%,#01d 40%,#006 42%,#006 57%,#01d 60%,#7f8 62%,#fe0 70%,#f50 78%,#f20 82%,#f20)"></b><b style="background:linear-gradient(#f70,#f80 18%,#fa0 22%,#6f8 38%,#4fa 40%,#006 42%,#006 57%,#4fa 60%,#bf4 68%,#f90 78%,#f60 82%,#f60)"></b><b style="background:linear-gradient(#f60,#f60 18%,#f90 22%,#8f6 35%,#5fa 40%,#006 45%,#006 55%,#5fa 60%,#9f6 65%,#f60 78%,#f30 82%,#f30)"></b><b style="background:linear-gradient(#f60,#f70 18%,#fa0 22%,#8f6 35%,#5f9 40%,#5fa 42%,#007 45%,#006 50%,#007 55%,#5fa 57%,#6f8 62%,#df2 70%,#fa0 78%,#f70 82%,#f70)"></b><b style="background:linear-gradient(#fd0,#fe0 20%,#6f9 38%,#5f9 42%,#0df 45%,#006 48%,#006 52%,#0df 55%,#5f9 57%,#7f7 65%,#fc0 80%,#fb0 92%,#fb0)"></b><b style="background:linear-gradient(#f70,#f70 18%,#fa0 22%,#8f7 35%,#5f9 40%,#5f9 45%,#00c 48%,#006 50%,#00c 52%,#5f9 55%,#6f9 62%,#df1 72%,#fb0 80%,#fa0 90%,#fa0)"></b><b style="background:linear-gradient(#f50,#f50 18%,#f90 22%,#8f6 35%,#5f9 40%,#5f9 60%,#8f6 65%,#f50 80%,#f40 85%,#f40)"></b><b style="background:linear-gradient(#f50,#f50 18%,#f90 22%,#8f6 35%,#6f9 40%,#6f9 60%,#8f6 65%,#f60 80%,#f40 85%,#f40)"></b><b style="background:linear-gradient(#f30,#f30 18%,#f70 22%,#8f6 35%,#6f9 40%,#6f8 62%,#df1 70%,#f60 80%,#f40 85%,#f40)"></b><b style="background:linear-gradient(#f40,#f40 18%,#f80 22%,#8f6 35%,#6f9 40%,#6f8 62%,#bf4 68%,#f50 80%,#f30 85%,#f30)"></b><b style="background:linear-gradient(#f70,#f80 18%,#fd0 25%,#8f7 35%,#6f9 40%,#6f8 62%,#cf2 70%,#f80 80%,#f50 85%,#f50)"></b><b style="background:linear-gradient(#f90,#fa0 18%,#ff0 25%,#8f7 35%,#6f9 42%,#7f8 62%,#cf2 70%,#f80 80%,#f50 85%,#f50)"></b><b style="background:linear-gradient(#f80,#f80 18%,#fe0 25%,#8f7 35%,#6f8 42%,#7f8 62%,#cf2 70%,#f80 80%,#f60 85%,#f60)"></b><b style="background:linear-gradient(#f50,#f50 15%,#f80 20%,#8f7 35%,#6f8 40%,#7f8 62%,#cf3 70%,#f90 80%,#f70 85%,#f70)"></b><b style="background:linear-gradient(#fe0,#ff0 18%,#7f7 35%,#7f8 62%,#bf3 70%,#fa0 80%,#f80 85%,#f80)"></b><b style="background:linear-gradient(#ef1,#ef1 18%,#7f8 38%,#7f8 62%,#bf3 70%,#fb0 80%,#f90 85%,#f90)"></b><b style="background:linear-gradient(#ef1,#df2 18%,#7f8 38%,#7f8 62%,#af5 68%,#f90 80%,#f60 85%,#f60)"></b><b style="background:linear-gradient(#fa0,#fb0 18%,#8f7 35%,#7f8 62%,#bf3 70%,#f90 82%,#f80 92%,#f80)"></b><b style="background:linear-gradient(#fc0,#fd0 18%,#8f7 35%,#7f7 62%,#af5 68%,#f70 82%,#f60 90%,#f60)"></b><b style="background:linear-gradient(#fb0,#fb0 15%,#fe0 22%,#8f7 35%,#7f7 62%,#9f5 68%,#f90 82%,#f70 90%,#f70)"></b><b style="background:linear-gradient(#fa0,#fa0 15%,#fe0 22%,#9f6 32%,#7f7 40%,#8f7 65%,#df1 72%,#f80 82%,#f70 90%,#f70)"></b><b style="background:linear-gradient(#f80,#f90 15%,#fd0 22%,#9f5 32%,#8f7 40%,#8f7 65%,#fc0 85%,#fc0)"></b><b style="background:linear-gradient(#f90,#f90 15%,#fd0 22%,#9f5 32%,#8f7 40%,#8f6 65%,#ef1 72%,#f80 82%,#f60 88%,#f60)"></b><b style="background:linear-gradient(#fa0,#fa0 15%,#ef1 25%,#8f6 35%,#8f6 65%,#df2 72%,#f90 82%,#f80 90%,#f80)"></b><b style="background:linear-gradient(#fc0,#fc0 15%,#8f6 35%,#8f6 65%,#df2 72%,#fa0 82%,#f80 90%,#f80)"></b><b style="background:linear-gradient(#f80,#f90 15%,#ff0 25%,#9f5 32%,#8f6 40%,#8f6 65%,#df2 75%,#fc0 85%,#fc0)"></b><b style="background:linear-gradient(#f80,#f90 15%,#ef0 25%,#9f5 32%,#8f6 42%,#8f6 65%,#cf3 72%,#fb0 85%,#fa0)"></b><b style="background:linear-gradient(#fa0,#fa0 15%,#9f5 32%,#8f6 48%,#9f6 65%,#df2 72%,#fa0 82%,#f80 90%,#f80)"></b><b style="background:linear-gradient(#fb0,#fc0 15%,#9f5 32%,#9f6 65%,#cf3 72%,#fb0 85%,#fb0)"></b><b style="background:linear-gradient(#f60,#f60 12%,#fa0 20%,#bf3 30%,#9f6 35%,#9f6 65%,#cf2 72%,#f90 85%,#f80)"></b><b style="background:linear-gradient(#f60,#f60 12%,#fb0 20%,#bf4 30%,#9f6 35%,#9f6 65%,#df2 72%,#f70 85%,#f60 95%,#f60)"></b><b style="background:linear-gradient(#f90,#fa0 15%,#af5 32%,#af5 68%,#fb0 85%,#fa0)"></b><b style="background:linear-gradient(#fc0,#fc0 15%,#af5 32%,#af5 68%,#fb0 85%,#fb0)"></b><b style="background:linear-gradient(#f80,#f80 12%,#fc0 20%,#bf4 30%,#9f5 38%,#af5 68%,#fc0 88%,#fc0)"></b><b style="background:linear-gradient(#fa0,#fb0 12%,#ff0 22%,#af5 32%,#af5 68%,#fd0 88%,#fd0)"></b><b style="background:linear-gradient(#fa0,#fa0 12%,#ff0 22%,#af5 32%,#af5 68%,#ff0 75%,#f70 85%,#f60 92%,#f60)"></b><b style="background:linear-gradient(#fe0,#fe0 15%,#af5 32%,#af5 68%,#fe0 80%,#fb0 88%,#fb0)"></b><b style="background:linear-gradient(#fb0,#fb0 12%,#af5 32%,#af5 68%,#ff0 78%,#fa0 88%,#f90)"></b><b style="background:linear-gradient(#fc0,#fc0 12%,#af4 32%,#af4 68%,#ff0 78%,#f90 88%,#f90)"></b><b style="background:linear-gradient(#fb0,#fb0 12%,#bf4 30%,#af4 57%,#bf4 70%,#fe0 88%,#fe0)"></b><b style="background:linear-gradient(#fb0,#fb0 12%,#bf4 30%,#af4 68%,#ef1 78%,#fb0 88%,#fa0)"></b><b style="background:linear-gradient(#f80,#f90 12%,#bf3 30%,#af4 55%,#bf4 70%,#fa0 88%,#f90)"></b><b style="background:linear-gradient(#fb0,#fb0 12%,#bf4 30%,#bf4 70%,#fd0 90%,#fd0)"></b><b style="background:linear-gradient(#fb0,#fb0 12%,#bf3 30%,#bf3 70%,#fc0 88%,#fb0)"></b><b style="background:linear-gradient(#f50,#f50 10%,#fa0 18%,#df2 28%,#bf4 35%,#bf3 70%,#f90 88%,#f80)"></b><b style="background:linear-gradient(#fc0,#fd0 12%,#bf3 30%,#cf3 70%,#fb0 80%,#f50 88%,#f40 95%,#f40)"></b><b style="background:linear-gradient(#fc0,#fc0 12%,#bf3 30%,#cf3 70%,#fd0 78%,#f50 88%,#f40 95%,#f40)"></b><b style="background:linear-gradient(#f10,#f10 10%,#f70 18%,#df1 28%,#bf3 32%,#cf3 70%,#fa0 90%,#fa0)"></b><b style="background:linear-gradient(#f70,#f70 10%,#fd0 20%,#cf3 30%,#cf3 70%,#fb0 90%,#fb0)"></b><b style="background:linear-gradient(#f90,#fa0 12%,#cf3 30%,#cf3 70%,#fa0 90%,#f90)"></b><b style="background:linear-gradient(#fb0,#fc0 12%,#cf3 30%,#cf3 70%,#fd0 80%,#f70 90%,#f60)"></b><b style="background:linear-gradient(#fc0,#fd0 12%,#cf3 30%,#cf3 70%,#fa0 90%,#fa0)"></b><b style="background:linear-gradient(#f80,#f90 10%,#df2 28%,#cf3 52%,#cf2 70%,#fd0 78%,#f30 88%,#f10 92%,#f10)"></b><b style="background:linear-gradient(#fa0,#fb0 12%,#cf2 30%,#cf2 70%,#fe0 78%,#f50 90%,#f50)"></b><b style="background:linear-gradient(#fd0,#fe0 15%,#cf2 30%,#cf2 70%,#fd0 78%,#f40 88%,#f20 92%,#f20)"></b><b style="background:linear-gradient(#fb0,#fc0 12%,#cf2 30%,#df2 72%,#fb0 92%,#fb0)"></b><b style="background:linear-gradient(#fb0,#fc0 12%,#df2 30%,#df2 75%,#fe0 95%,#fe0)"></b><b style="background:linear-gradient(#f70,#f80 10%,#df2 28%,#df2 72%,#fa0 92%,#fa0)"></b><b style="background:linear-gradient(#f80,#f90 10%,#df2 28%,#df1 72%,#f60 90%,#f50)"></b><b style="background:linear-gradient(#fc0,#fd0 12%,#df2 30%,#df1 72%,#fb0 82%,#f60 90%,#f40)"></b><b style="background:linear-gradient(#fe0,#ff0 18%,#df2 35%,#ef1 75%,#fd0 95%,#fd0)"></b><b style="background:linear-gradient(#f90,#fa0 10%,#ef1 28%,#ef1 72%,#f90 92%,#f90)"></b><i style="top:0;height:34%;background:repeating-linear-gradient(91deg,#ff05 0 1.2px,#ff00 1.2px 5px),repeating-linear-gradient(88.5deg,#f105 0 1.4px,#f100 1.4px 7.3px),repeating-linear-gradient(90.5deg,#fa05 0 1px,#fa00 1px 3.1px);-webkit-mask-image:linear-gradient(#000 75%,#0000)"></i><i style="bottom:0;height:34%;background:repeating-linear-gradient(89deg,#ff05 0 1.2px,#ff00 1.2px 5.3px),repeating-linear-gradient(91.5deg,#f105 0 1.4px,#f100 1.4px 6.7px),repeating-linear-gradient(89.5deg,#fa05 0 1px,#fa00 1px 3.3px);-webkit-mask-image:linear-gradient(#0000,#000 25%)"></i></div>
<div class="ft" style="left:2224.4px;width:300px;text-align:center;top:911.8px;font-size:13.6px;color:#6b6b6b;letter-spacing:1.0px;">0</div>
<div class="ft" style="left:2302.2px;width:300px;text-align:center;top:911.8px;font-size:13.6px;color:#6b6b6b;letter-spacing:1.0px;">50</div>
<div class="ft" style="left:2380.0px;width:300px;text-align:center;top:911.8px;font-size:13.6px;color:#6b6b6b;letter-spacing:1.0px;">100</div>
<div class="ft" style="left:2457.8px;width:300px;text-align:center;top:911.8px;font-size:13.6px;color:#6b6b6b;letter-spacing:1.0px;">150</div>
<div class="ft" style="left:2535.6px;width:300px;text-align:center;top:911.8px;font-size:13.6px;color:#6b6b6b;letter-spacing:1.0px;">200</div>
<div class="ft" style="left:2373.8px;width:300px;text-align:center;top:930.6px;font-size:13.6px;color:#6b6b6b;letter-spacing:1.6px;">t&nbsp; Ω/2π</div>
<div class="ft" style="left:2365.0px;top:813.0px;width:0;height:0;font-size:13.2px;color:#6b6b6b;letter-spacing:0.9px;"><div style="position:absolute;left:-150px;width:300px;text-align:center;top:-11.9px;transform-origin:150px 11.9px;transform:rotate(-90deg)">0</div></div>
<div class="ft" style="left:2346.7px;top:808.8px;width:0;height:0;font-size:13.2px;color:#6b6b6b;letter-spacing:0.9px;"><div style="position:absolute;left:-150px;width:300px;text-align:center;top:-11.9px;transform-origin:150px 11.9px;transform:rotate(-90deg)">z/H<sub>0</sub></div></div>
<div style="position:absolute;left:2679.1px;top:735.9px;width:6.5px;height:1.5px;background:#000"></div>
<div class="ft" style="left:2697.2px;top:736.7px;width:0;height:0;font-size:13.2px;color:#6b6b6b;letter-spacing:0.9px;"><div style="position:absolute;left:-150px;width:300px;text-align:center;top:-11.9px;transform-origin:150px 11.9px;transform:rotate(-90deg)">3</div></div>
<div style="position:absolute;left:2679.1px;top:762.0px;width:6.5px;height:1.5px;background:#000"></div>
<div class="ft" style="left:2697.2px;top:762.8px;width:0;height:0;font-size:13.2px;color:#6b6b6b;letter-spacing:0.9px;"><div style="position:absolute;left:-150px;width:300px;text-align:center;top:-11.9px;transform-origin:150px 11.9px;transform:rotate(-90deg)">2</div></div>
<div style="position:absolute;left:2679.1px;top:787.2px;width:6.5px;height:1.5px;background:#000"></div>
<div class="ft" style="left:2697.2px;top:788.0px;width:0;height:0;font-size:13.2px;color:#6b6b6b;letter-spacing:0.9px;"><div style="position:absolute;left:-150px;width:300px;text-align:center;top:-11.9px;transform-origin:150px 11.9px;transform:rotate(-90deg)">1</div></div>
<div style="position:absolute;left:2679.1px;top:811.4px;width:6.5px;height:1.5px;background:#000"></div>
<div class="ft" style="left:2697.2px;top:812.2px;width:0;height:0;font-size:13.2px;color:#6b6b6b;letter-spacing:0.9px;"><div style="position:absolute;left:-150px;width:300px;text-align:center;top:-11.9px;transform-origin:150px 11.9px;transform:rotate(-90deg)">0</div></div>
<div style="position:absolute;left:2679.1px;top:836.6px;width:6.5px;height:1.5px;background:#000"></div>
<div class="ft" style="left:2697.2px;top:837.4px;width:0;height:0;font-size:13.2px;color:#6b6b6b;letter-spacing:0.9px;"><div style="position:absolute;left:-150px;width:300px;text-align:center;top:-11.9px;transform-origin:150px 11.9px;transform:rotate(-90deg)">−1</div></div>
<div style="position:absolute;left:2679.1px;top:860.9px;width:6.5px;height:1.5px;background:#000"></div>
<div class="ft" style="left:2697.2px;top:861.7px;width:0;height:0;font-size:13.2px;color:#6b6b6b;letter-spacing:0.9px;"><div style="position:absolute;left:-150px;width:300px;text-align:center;top:-11.9px;transform-origin:150px 11.9px;transform:rotate(-90deg)">−2</div></div>
<div style="position:absolute;left:2679.1px;top:886.1px;width:6.5px;height:1.5px;background:#000"></div>
<div class="ft" style="left:2697.2px;top:886.9px;width:0;height:0;font-size:13.2px;color:#6b6b6b;letter-spacing:0.9px;"><div style="position:absolute;left:-150px;width:300px;text-align:center;top:-11.9px;transform-origin:150px 11.9px;transform:rotate(-90deg)">−3</div></div>
<div class="ft" style="left:2720.1px;top:804.8px;width:0;height:0;font-size:12.6px;color:#6b6b6b;letter-spacing:1.0px;"><div style="position:absolute;left:-150px;width:300px;text-align:center;top:-11.4px;transform-origin:150px 11.4px;transform:rotate(-90deg)"><span style="font-size:1.3em;font-family:&quot;Liberation Serif&quot;,serif;font-style:italic">∫</span><sub>0</sub><sup style="margin-left:-2px">z</sup>dz/&lt;h(z)&gt;</div></div>
<div class="ft" style="left:3825.2px;top:99.0px;font-size:12.4px;color:#6b6b6b;letter-spacing:2.0px;"><i style="font-family:&quot;Liberation Serif&quot;,serif;font-size:1.1em">γ</i>=1.4</div>
<div class="ft" style="left:3837.0px;width:300px;text-align:center;top:96.6px;font-size:12.4px;color:#6b6b6b;letter-spacing:1.1px;">T/T<sub>0</sub></div>
<div class="cb" style="left:3824.2px;top:130.4px;width:311.2px;height:10.6px;background:linear-gradient(90deg,#005 0%,#0000a0 10%,#00d 18%,#0038f0 22%,#0090ff 27%,#00f0ff 33%,#4fb 40%,#90ff68 50%,#cf3 57%,#ff0 66%,#ffc000 75%,#ff9000 82%,#f50 90%,#f10 100%)"></div>
<div class="ft" style="left:3714.8px;width:300px;text-align:center;top:119.7px;font-size:6px;color:#555;letter-spacing:0.5px;">10</div>
<div class="ft" style="left:3759.9px;width:300px;text-align:center;top:119.7px;font-size:6px;color:#555;letter-spacing:0.5px;">20</div>
<div class="ft" style="left:3805.0px;width:300px;text-align:center;top:119.7px;font-size:6px;color:#555;letter-spacing:0.5px;">30</div>
<div class="ft" style="left:3850.1px;width:300px;text-align:center;top:119.7px;font-size:6px;color:#555;letter-spacing:0.5px;">40</div>
<div class="ft" style="left:3895.2px;width:300px;text-align:center;top:119.7px;font-size:6px;color:#555;letter-spacing:0.5px;">50</div>
<div class="ft" style="left:3940.3px;width:300px;text-align:center;top:119.7px;font-size:6px;color:#555;letter-spacing:0.5px;">60</div>
<div class="ft" style="left:3985.4px;width:300px;text-align:center;top:119.7px;font-size:6px;color:#555;letter-spacing:0.5px;">70</div>
<div class="hm" style="left:3824.2px;top:154.4px;width:311.2px;height:183.3px;background:#8f6"><b style="background:linear-gradient(#f20,#f20 41%,#4fb 42%,#0bf 44%,#008 45%,#006 47%,#006 53%,#008 55%,#0ef 56%,#6f9 58%,#f20 59%,#f20)"></b><b style="background:linear-gradient(#02d,#08f 2%,#02e 17%,#04e 36%,#08f 42%,#04e 44%,#008 45%,#006 47%,#006 53%,#008 55%,#0bf 56%,#3fb 58%,#af5 66%,#bf3 75%,#af4 89%,#5fa 97%,#08f 98%,#02d)"></b><b style="background:linear-gradient(#02d,#08f 2%,#5fa 3%,#af4 11%,#bf3 27%,#af5 34%,#4fb 42%,#0bf 44%,#008 45%,#006 47%,#006 53%,#009 55%,#2fd 56%,#af5 58%,#f90 64%,#f40 69%,#f30 80%,#f40 88%,#f90 92%,#cf2 97%,#08f 98%,#02d)"></b><b style="background:linear-gradient(#02d,#0cf 3%,#0cf 42%,#06f 44%,#008 45%,#006 47%,#006 53%,#008 55%,#07f 56%,#0ef 58%,#3fc 72%,#2fd 92%,#0ee 97%,#02d)"></b><b style="background:linear-gradient(#02d,#08f 2%,#4fb 3%,#9f6 11%,#9f5 30%,#6f8 38%,#3fc 42%,#0af 44%,#008 45%,#006 47%,#006 53%,#008 55%,#0bf 56%,#4fb 58%,#bf4 66%,#cf2 75%,#bf3 89%,#5f9 97%,#08f 98%,#02d)"></b><b style="background:linear-gradient(#02d,#08f 2%,#6f9 3%,#cf3 9%,#ef1 17%,#df2 31%,#af5 38%,#4fa 42%,#0cf 44%,#008 45%,#006 47%,#006 53%,#008 55%,#1ee 56%,#8f7 58%,#fc0 64%,#f90 69%,#f80 81%,#f90 88%,#fd0 92%,#af4 97%,#08f 98%,#02d)"></b><b style="background:linear-gradient(#02d,#1ee 3%,#4fb 16%,#3fc 36%,#0ef 42%,#08f 44%,#008 45%,#006 47%,#006 53%,#008 55%,#0af 56%,#2fc 58%,#8f7 67%,#8f6 88%,#5fa 95%,#3fb 97%,#08f 98%,#02d)"></b><b style="background:linear-gradient(#02d,#08f 2%,#4fb 3%,#9f6 11%,#af5 30%,#7f8 38%,#3fc 42%,#0af 44%,#008 45%,#006 47%,#006 53%,#008 55%,#0ef 56%,#6f8 58%,#ff0 64%,#fc0 69%,#fc0 84%,#fe0 91%,#8f6 97%,#08f 98%,#02d)"></b><b style="background:linear-gradient(#02d,#1ee 3%,#5fa 14%,#4fb 34%,#1ee 42%,#08f 44%,#008 45%,#006 47%,#006 53%,#008 55%,#09f 56%,#2fd 58%,#7f7 67%,#8f7 88%,#3fc 97%,#08f 98%,#02d)"></b><b style="background:linear-gradient(#02d,#08f 2%,#6f8 3%,#cf2 9%,#ef1 17%,#ef1 31%,#af4 38%,#5fa 42%,#0cf 44%,#008 45%,#006 47%,#006 53%,#008 55%,#0df 56%,#6f9 58%,#ef1 66%,#fe0 73%,#ff0 88%,#bf3 94%,#7f7 97%,#08f 98%,#02d)"></b><b style="background:linear-gradient(#02d,#08f 2%,#8f7 3%,#ff0 9%,#fd0 16%,#fd0 31%,#ef1 36%,#6f9 42%,#0ef 44%,#008 45%,#006 47%,#006 53%,#009 55%,#3fc 56%,#bf4 58%,#f60 64%,#f10 69%,#f10 88%,#f60 92%,#ef1 97%,#08f 98%,#02d)"></b><b style="background:linear-gradient(#02d,#0bf 3%,#0bf 42%,#05e 44%,#008 45%,#006 47%,#006 53%,#008 55%,#0af 56%,#3fc 58%,#9f6 66%,#af4 77%,#9f5 89%,#4fa 97%,#08f 98%,#02d)"></b><b style="background:linear-gradient(#02d,#08f 2%,#8f6 3%,#ff0 9%,#fd0 16%,#fd0 31%,#ef1 36%,#6f8 42%,#0ef 44%,#008 45%,#006 47%,#006 53%,#008 55%,#0ef 56%,#7f8 58%,#fe0 64%,#fb0 69%,#fb0 84%,#fd0 91%,#9f6 97%,#08f 98%,#02d)"></b><b style="background:linear-gradient(#02d,#1ee 3%,#3fb 16%,#2fc 36%,#0ef 42%,#08f 44%,#008 45%,#006 47%,#006 53%,#008 55%,#0ef 56%,#7f8 58%,#fe0 64%,#fb0 69%,#fa0 83%,#fc0 89%,#df1 94%,#9f6 97%,#08f 98%,#02d)"></b><b style="background:linear-gradient(#02d,#08f 2%,#bf4 3%,#fc0 8%,#f70 12%,#f60 23%,#f70 31%,#fb0 36%,#9f6 42%,#1ed 44%,#008 45%,#006 47%,#006 53%,#008 55%,#0af 56%,#3fc 58%,#9f6 66%,#af4 77%,#9f5 89%,#4fa 97%,#08f 98%,#02d)"></b><b style="background:linear-gradient(#02d,#08f 2%,#5fa 3%,#af5 11%,#bf4 28%,#9f6 36%,#3fb 42%,#0bf 44%,#008 45%,#006 47%,#006 53%,#008 55%,#0ef 56%,#7f8 58%,#ff0 64%,#fc0 69%,#fb0 84%,#fe0 91%,#9f6 97%,#08f 98%,#02d)"></b><b style="background:linear-gradient(#02d,#08f 2%,#6f9 3%,#bf3 9%,#df2 17%,#cf2 31%,#9f5 38%,#4fa 42%,#0cf 44%,#008 45%,#006 47%,#006 53%,#008 55%,#0df 56%,#5fa 58%,#df2 66%,#ff0 73%,#ef1 88%,#af4 94%,#7f8 97%,#08f 98%,#02d)"></b><b style="background:linear-gradient(#02d,#08f 2%,#4fb 3%,#9f6 11%,#af5 30%,#7f8 38%,#3fc 42%,#0af 44%,#008 45%,#006 47%,#006 53%,#008 55%,#0af 56%,#3fc 58%,#8f6 67%,#9f6 86%,#6f9 94%,#4fb 97%,#08f 98%,#02d)"></b><b style="background:linear-gradient(#02d,#08f 2%,#7f8 3%,#df2 9%,#ff0 17%,#ef1 31%,#bf4 38%,#5fa 42%,#0df 44%,#008 45%,#006 47%,#006 53%,#008 55%,#0ef 56%,#6f8 58%,#ef1 64%,#fd0 70%,#fd0 86%,#ef1 92%,#8f6 97%,#08f 98%,#02d)"></b><b style="background:linear-gradient(#02d,#08f 2%,#bf3 3%,#fb0 8%,#f60 12%,#f50 22%,#f60 31%,#fa0 36%,#9f6 42%,#2fd 44%,#008 45%,#006 47%,#006 53%,#008 55%,#07f 56%,#0ef 58%,#2fc 73%,#1ee 94%,#0ef 97%,#02d)"></b><b style="background:linear-gradient(#02d,#08f 2%,#5fa 3%,#bf4 11%,#cf3 27%,#af5 34%,#4fb 42%,#0bf 44%,#008 45%,#006 47%,#006 53%,#008 55%,#1ed 56%,#9f6 58%,#fb0 64%,#f70 69%,#f60 81%,#f70 88%,#fc0 92%,#bf4 97%,#08f 98%,#02d)"></b><b style="background:linear-gradient(#02d,#1ee 3%,#4fb 16%,#3fc 36%,#0ef 42%,#08f 44%,#008 45%,#006 47%,#006 53%,#009 55%,#2fc 56%,#af5 58%,#f80 64%,#f30 69%,#f20 78%,#f30 86%,#f60 91%,#fe0 95%,#df2 97%,#08f 98%,#02d)"></b><b style="background:linear-gradient(#02d,#08f 2%,#8f7 3%,#ef1 9%,#fe0 16%,#fe0 31%,#cf3 38%,#6f9 42%,#0df 44%,#008 45%,#006 47%,#006 53%,#008 55%,#0af 56%,#2fc 58%,#8f6 67%,#9f6 88%,#5fa 95%,#4fb 97%,#08f 98%,#02d)"></b><b style="background:linear-gradient(#02d,#08f 2%,#00d 11%,#00d 33%,#07f 42%,#03e 44%,#008 45%,#006 47%,#006 53%,#009 55%,#2fd 56%,#9f5 58%,#f90 64%,#f50 69%,#f30 80%,#f50 88%,#fa0 92%,#cf3 97%,#08f 98%,#02d)"></b><b style="background:linear-gradient(#02d,#08f 2%,#7f8 3%,#df2 9%,#ff0 17%,#ef1 31%,#af4 38%,#5fa 42%,#0cf 44%,#008 45%,#006 47%,#006 53%,#008 55%,#0bf 56%,#3fb 58%,#af5 66%,#bf3 75%,#af4 89%,#5fa 97%,#08f 98%,#02d)"></b><b style="background:linear-gradient(#02d,#08f 2%,#2fc 3%,#6f8 12%,#6f9 33%,#1ed 42%,#09f 44%,#008 45%,#006 47%,#006 53%,#008 55%,#0df 56%,#6f9 58%,#ef1 64%,#fd0 70%,#fd0 86%,#ef1 92%,#8f7 97%,#08f 98%,#02d)"></b><b style="background:linear-gradient(#02d,#08f 2%,#7f8 3%,#df2 9%,#ff0 17%,#ef1 31%,#bf4 38%,#5fa 42%,#0af 44%,#007 45%,#006 47%,#006 53%,#007 55%,#0ef 56%,#9f6 58%,#fa0 64%,#f60 69%,#f40 80%,#f60 88%,#fa0 92%,#cf3 97%,#08f 98%,#02d)"></b><b style="background:linear-gradient(#02d,#0bf 3%,#0bf 42%,#00b 44%,#006 45%,#006 55%,#08f 58%,#03e 73%,#05e 92%,#08f 98%,#02d)"></b><b style="background:linear-gradient(#02d,#08f 2%,#6f8 3%,#cf3 9%,#ef1 17%,#ef1 31%,#af5 38%,#8f6 39%,#5fa 41%,#00b 42%,#006 44%,#006 56%,#00b 58%,#2fd 59%,#5f9 62%,#8f6 72%,#7f7 89%,#3fb 97%,#08f 98%,#02d)"></b><b style="background:linear-gradient(#02d,#1ee 3%,#3fb 17%,#2fd 36%,#2fd 38%,#0cf 39%,#009 41%,#006 42%,#006 58%,#009 59%,#0ef 61%,#3fb 62%,#5f9 75%,#4fa 91%,#2fd 97%,#08f 98%,#02d)"></b><b style="background:linear-gradient(#02d,#08f 2%,#2fc 3%,#6f8 12%,#6f9 33%,#4fa 38%,#0cf 39%,#008 41%,#006 42%,#006 58%,#008 59%,#08f 61%,#1ee 62%,#2fc 86%,#0ef 97%,#02d)"></b><b style="background:linear-gradient(#02d,#08f 2%,#5fa 3%,#bf4 11%,#cf3 27%,#af4 34%,#7f8 39%,#006 42%,#006 58%,#7f8 61%,#bf4 67%,#bf3 84%,#9f6 92%,#5fa 97%,#08f 98%,#02d)"></b><b style="background:linear-gradient(#02d,#08f 2%,#7f7 3%,#ef1 9%,#fe0 16%,#ff0 31%,#bf3 38%,#af5 39%,#5f9 41%,#00b 42%,#006 44%,#006 56%,#00b 58%,#7f7 59%,#cf3 61%,#fc0 66%,#fa0 72%,#fa0 86%,#fd0 91%,#9f5 97%,#08f 98%,#02d)"></b><b style="background:linear-gradient(#02d,#08f 2%,#af5 3%,#fc0 9%,#f90 16%,#fa0 30%,#fc0 34%,#cf2 39%,#9f5 41%,#01d 42%,#006 44%,#006 56%,#01d 58%,#9f5 59%,#ff0 62%,#fb0 67%,#f90 75%,#fa0 88%,#fe0 92%,#af5 97%,#08f 98%,#02d)"></b><b style="background:linear-gradient(#02d,#08f 2%,#af4 3%,#fb0 9%,#f80 14%,#f80 30%,#fb0 34%,#df2 39%,#af5 41%,#02e 42%,#006 44%,#006 56%,#03e 58%,#bf4 59%,#fd0 62%,#f80 67%,#f60 73%,#f60 86%,#fa0 91%,#ef1 95%,#bf4 97%,#08f 98%,#02d)"></b><b style="background:linear-gradient(#02d,#08f 2%,#bf4 3%,#fc0 8%,#f80 12%,#f60 23%,#f80 31%,#fb0 36%,#ef1 39%,#af4 41%,#03e 42%,#006 44%,#006 56%,#03e 58%,#af4 59%,#fe0 62%,#f90 67%,#f70 73%,#f80 86%,#fa0 91%,#df2 95%,#bf4 97%,#08f 98%,#02d)"></b><b style="background:linear-gradient(#02d,#08f 2%,#cf3 3%,#fa0 8%,#f60 12%,#f40 22%,#f60 31%,#fa0 36%,#ff0 39%,#bf3 41%,#04e 42%,#006 44%,#006 56%,#02d 58%,#9f6 59%,#ef1 62%,#fc0 67%,#fa0 75%,#fb0 88%,#ff0 92%,#9f6 97%,#08f 98%,#02d)"></b><b style="background:linear-gradient(#02d,#08f 2%,#bf4 3%,#fb0 8%,#f70 12%,#f60 23%,#f70 31%,#fb0 36%,#ef1 39%,#bf4 41%,#03e 42%,#006 44%,#006 56%,#00d 58%,#6f9 59%,#bf3 64%,#ef1 70%,#ef1 88%,#af5 94%,#6f8 97%,#08f 98%,#02d)"></b><b style="background:linear-gradient(#02d,#08f 2%,#af5 3%,#fb0 9%,#f90 14%,#f90 30%,#fb0 34%,#df2 39%,#af5 41%,#02e 42%,#006 44%,#006 56%,#01d 58%,#7f7 59%,#ef1 64%,#fd0 70%,#fd0 86%,#df1 92%,#8f7 97%,#08f 98%,#02d)"></b><b style="background:linear-gradient(#02d,#08f 2%,#9f6 3%,#fe0 9%,#fb0 16%,#fc0 31%,#ff0 36%,#bf3 39%,#8f6 41%,#02d 42%,#006 44%,#006 56%,#01d 58%,#7f7 59%,#ef1 64%,#fd0 70%,#fd0 86%,#df1 92%,#8f7 97%,#08f 98%,#02d)"></b><b style="background:linear-gradient(#02d,#08f 2%,#8f7 3%,#ff0 9%,#fd0 16%,#fe0 31%,#df1 36%,#7f7 41%,#01d 42%,#006 44%,#006 56%,#03e 58%,#af5 59%,#ff0 62%,#fa0 67%,#f80 75%,#f90 88%,#fd0 92%,#af4 97%,#08f 98%,#02d)"></b><b style="background:linear-gradient(#02d,#08f 2%,#7f8 3%,#df1 9%,#ff0 17%,#ff0 31%,#bf4 38%,#7f8 41%,#01d 42%,#006 44%,#006 56%,#03e 58%,#bf3 59%,#fc0 62%,#f70 67%,#f50 73%,#f50 86%,#f90 91%,#ef1 95%,#bf3 97%,#08f 98%,#02d)"></b><b style="background:linear-gradient(#02d,#08f 2%,#9f6 3%,#fe0 9%,#fc0 16%,#fc0 31%,#ff0 36%,#bf4 39%,#8f6 41%,#01d 42%,#006 44%,#006 56%,#03e 58%,#bf4 59%,#fd0 62%,#f70 67%,#f50 73%,#f60 86%,#f90 91%,#ef1 95%,#bf3 97%,#08f 98%,#02d)"></b><b style="background:linear-gradient(#02d,#08f 2%,#af5 3%,#fc0 9%,#f90 16%,#f90 30%,#fb0 34%,#df2 39%,#af5 41%,#02e 42%,#006 44%,#006 56%,#03e 58%,#af5 59%,#ff0 62%,#fa0 67%,#f80 75%,#f90 88%,#fd0 92%,#af4 97%,#08f 98%,#02d)"></b><b style="background:linear-gradient(#02d,#08f 2%,#bf4 3%,#fc0 8%,#f80 12%,#f70 23%,#f80 31%,#fc0 36%,#ef1 39%,#af4 41%,#03e 42%,#006 44%,#006 56%,#01d 58%,#7f7 59%,#df2 64%,#fe0 70%,#fe0 86%,#df2 92%,#8f7 97%,#08f 98%,#02d)"></b><b style="background:linear-gradient(#02d,#08f 2%,#cf3 3%,#fa0 8%,#f60 12%,#f40 22%,#f50 31%,#fa0 36%,#ff0 39%,#bf3 41%,#04e 42%,#006 44%,#006 56%,#01d 58%,#7f8 59%,#df2 64%,#fe0 70%,#ff0 88%,#bf4 94%,#7f7 97%,#08f 98%,#02d)"></b><b style="background:linear-gradient(#02d,#08f 2%,#bf4 3%,#fc0 8%,#f80 12%,#f70 23%,#f80 31%,#fc0 36%,#ef1 39%,#af4 41%,#03e 42%,#006 44%,#006 56%,#00d 58%,#6f9 59%,#bf4 64%,#ef1 70%,#df2 88%,#af5 94%,#6f8 97%,#08f 98%,#02d)"></b><b style="background:linear-gradient(#02d,#08f 2%,#9f5 3%,#fc0 9%,#fa0 16%,#fa0 30%,#fc0 34%,#cf2 39%,#9f5 41%,#02e 42%,#006 44%,#006 56%,#01d 58%,#8f7 59%,#ef1 64%,#fd0 70%,#fd0 86%,#df1 92%,#8f7 97%,#08f 98%,#02d)"></b><b style="background:linear-gradient(#02d,#08f 2%,#9f6 3%,#fd0 9%,#fb0 16%,#fb0 31%,#ff0 36%,#cf3 39%,#9f6 41%,#02d 42%,#006 44%,#006 56%,#02e 58%,#af5 59%,#ff0 62%,#fa0 67%,#f80 75%,#f90 88%,#fd0 92%,#af5 97%,#08f 98%,#02d)"></b><b style="background:linear-gradient(#02d,#08f 2%,#8f6 3%,#fe0 9%,#fc0 16%,#fd0 31%,#ef1 36%,#bf4 39%,#8f7 41%,#01d 42%,#006 44%,#006 56%,#02e 58%,#9f6 59%,#ef1 62%,#fb0 67%,#fa0 75%,#fb0 88%,#fe0 92%,#9f5 97%,#08f 98%,#02d)"></b><b style="background:linear-gradient(#02d,#08f 2%,#8f7 3%,#ef1 9%,#fd0 16%,#fe0 31%,#df1 36%,#7f7 41%,#01d 42%,#006 44%,#006 56%,#03e 58%,#af4 59%,#fe0 62%,#f90 67%,#f70 73%,#f80 86%,#fa0 91%,#df2 95%,#bf4 97%,#08f 98%,#02d)"></b><b style="background:linear-gradient(#02d,#08f 2%,#af5 3%,#fc0 9%,#f90 16%,#f90 30%,#fc0 34%,#cf2 39%,#9f5 41%,#02e 42%,#006 44%,#006 56%,#02e 58%,#af5 59%,#ff0 62%,#fa0 67%,#f90 75%,#fa0 88%,#fd0 92%,#af5 97%,#08f 98%,#02d)"></b><b style="background:linear-gradient(#02d,#08f 2%,#9f5 3%,#fd0 9%,#fa0 16%,#fa0 30%,#fc0 34%,#cf3 39%,#9f6 41%,#02e 42%,#006 44%,#006 56%,#01d 58%,#8f7 59%,#cf2 62%,#fe0 67%,#fc0 77%,#fd0 88%,#ef1 92%,#8f7 97%,#08f 98%,#02d)"></b><b style="background:linear-gradient(#02d,#08f 2%,#bf3 3%,#fb0 8%,#f60 12%,#f50 23%,#f60 31%,#fa0 36%,#ff0 39%,#bf4 41%,#03e 42%,#006 44%,#006 56%,#02d 58%,#8f6 59%,#df1 62%,#fd0 67%,#fb0 75%,#fc0 88%,#ff0 92%,#9f6 97%,#08f 98%,#02d)"></b><b style="background:linear-gradient(#02d,#08f 2%,#bf4 3%,#fb0 8%,#f70 12%,#f60 23%,#f70 31%,#fb0 36%,#ef1 39%,#bf4 41%,#03e 42%,#006 44%,#006 56%,#01d 58%,#7f8 59%,#df2 64%,#fe0 70%,#ff0 88%,#bf4 94%,#7f7 97%,#08f 98%,#02d)"></b><b style="background:linear-gradient(#02d,#08f 2%,#bf3 3%,#fb0 8%,#f70 12%,#f50 23%,#f60 31%,#fb0 36%,#ef0 39%,#bf4 41%,#03e 42%,#006 44%,#006 56%,#01d 58%,#8f7 59%,#df2 62%,#fd0 67%,#fc0 77%,#fd0 88%,#ef1 92%,#8f6 97%,#08f 98%,#02d)"></b><b style="background:linear-gradient(#02d,#08f 2%,#bf4 3%,#fb0 8%,#f70 12%,#f60 23%,#f70 31%,#fb0 36%,#ef1 39%,#bf4 41%,#03e 42%,#006 44%,#006 56%,#02e 58%,#9f5 59%,#ef0 62%,#fb0 67%,#f90 75%,#fa0 88%,#fe0 92%,#af5 97%,#08f 98%,#02d)"></b><b style="background:linear-gradient(#02d,#08f 2%,#9f5 3%,#fd0 9%,#fa0 16%,#fa0 30%,#fd0 34%,#cf3 39%,#9f6 41%,#02e 42%,#006 44%,#006 56%,#02e 58%,#9f5 59%,#ff0 62%,#fb0 67%,#f90 75%,#fa0 88%,#fe0 92%,#af5 97%,#08f 98%,#02d)"></b><b style="background:linear-gradient(#02d,#08f 2%,#7f7 3%,#ef1 9%,#fe0 16%,#ff0 31%,#bf3 38%,#7f8 41%,#01d 42%,#006 44%,#006 56%,#02e 58%,#9f5 59%,#ff0 62%,#fb0 67%,#f90 75%,#fa0 88%,#fe0 92%,#af5 97%,#08f 98%,#02d)"></b><b style="background:linear-gradient(#02d,#08f 2%,#7f7 3%,#ef1 9%,#fe0 16%,#fe0 31%,#bf3 38%,#7f8 41%,#01d 42%,#006 44%,#006 56%,#04e 58%,#cf3 59%,#fc0 62%,#f60 67%,#f40 73%,#f40 86%,#f80 91%,#ff0 95%,#cf3 97%,#08f 98%,#02d)"></b><b style="background:linear-gradient(#02d,#08f 2%,#9f6 3%,#fd0 9%,#fb0 16%,#fb0 31%,#fe0 36%,#cf3 39%,#9f6 41%,#02d 42%,#006 44%,#006 56%,#02e 58%,#9f6 59%,#ef1 62%,#fc0 67%,#fa0 75%,#fb0 88%,#ff0 92%,#9f5 97%,#08f 98%,#02d)"></b><b style="background:linear-gradient(#02d,#08f 2%,#9f5 3%,#fc0 9%,#fa0 16%,#fa0 30%,#fc0 34%,#cf2 39%,#9f5 41%,#02e 42%,#006 44%,#006 56%,#00d 58%,#6f8 59%,#cf3 64%,#ff0 70%,#ef1 88%,#af4 94%,#7f8 97%,#08f 98%,#02d)"></b><b style="background:linear-gradient(#02d,#08f 2%,#bf4 3%,#fc0 8%,#f80 12%,#f60 23%,#f70 31%,#fb0 36%,#ef1 39%,#bf4 41%,#03e 42%,#006 44%,#006 56%,#01d 58%,#7f7 59%,#df2 64%,#fe0 70%,#fe0 86%,#df2 92%,#8f7 97%,#08f 98%,#02d)"></b><b style="background:linear-gradient(#02d,#08f 2%,#af4 3%,#fd0 8%,#f90 12%,#f80 25%,#fa0 33%,#fe0 38%,#af5 41%,#03e 42%,#006 44%,#006 56%,#01d 58%,#7f8 59%,#df2 64%,#fe0 70%,#fe0 86%,#df2 92%,#7f7 97%,#08f 98%,#02d)"></b><b style="background:linear-gradient(#02d,#08f 2%,#cf2 3%,#f90 8%,#f40 12%,#f30 22%,#f40 31%,#f90 36%,#fe0 39%,#cf3 41%,#04e 42%,#006 44%,#006 56%,#01d 58%,#8f7 59%,#cf2 62%,#fe0 67%,#fd0 77%,#fd0 88%,#ef1 92%,#8f7 97%,#08f 98%,#02d)"></b><b style="background:linear-gradient(#02d,#08f 2%,#bf3 3%,#fb0 8%,#f70 12%,#f50 23%,#f70 31%,#fb0 36%,#ef0 39%,#bf4 41%,#03e 42%,#006 44%,#006 56%,#02e 58%,#9f6 59%,#ef1 62%,#fc0 67%,#fa0 75%,#fb0 88%,#ff0 92%,#9f5 97%,#08f 98%,#02d)"></b><b style="background:linear-gradient(#02d,#08f 2%,#af5 3%,#fc0 9%,#f90 14%,#f90 30%,#fb0 34%,#df2 39%,#af5 41%,#02e 42%,#006 44%,#006 56%,#03e 58%,#bf4 59%,#fd0 62%,#f70 67%,#f50 73%,#f60 86%,#f90 91%,#ef1 95%,#bf3 97%,#08f 98%,#02d)"></b><b style="background:linear-gradient(#02d,#08f 2%,#8f7 3%,#ff0 9%,#fd0 16%,#fd0 31%,#ef1 36%,#af4 39%,#8f7 41%,#01d 42%,#006 44%,#006 56%,#03e 58%,#bf4 59%,#fd0 62%,#f80 67%,#f60 73%,#f60 86%,#f90 91%,#ef1 95%,#bf3 97%,#08f 98%,#02d)"></b><b style="background:linear-gradient(#02d,#08f 2%,#8f7 3%,#ff0 9%,#fd0 16%,#fe0 31%,#ef1 36%,#7f7 41%,#01d 42%,#006 44%,#006 56%,#03e 58%,#af4 59%,#fe0 62%,#f90 67%,#f70 73%,#f80 86%,#fb0 91%,#df2 95%,#af4 97%,#08f 98%,#02d)"></b><b style="background:linear-gradient(#02d,#08f 2%,#8f6 3%,#ff0 9%,#fc0 16%,#fd0 31%,#ef1 36%,#bf4 39%,#8f7 41%,#01d 42%,#006 44%,#006 56%,#01d 58%,#8f7 59%,#df2 62%,#fd0 67%,#fc0 77%,#fd0 88%,#ef1 92%,#8f6 97%,#08f 98%,#02d)"></b><b style="background:linear-gradient(#02d,#08f 2%,#9f5 3%,#fd0 9%,#fa0 16%,#fa0 30%,#fd0 34%,#cf3 39%,#9f6 41%,#02e 42%,#006 44%,#006 56%,#00d 58%,#6f8 59%,#cf3 64%,#ef0 70%,#ef1 88%,#af4 94%,#7f8 97%,#08f 98%,#02d)"></b><b style="background:linear-gradient(#02d,#08f 2%,#af5 3%,#fc0 9%,#f90 16%,#f90 30%,#fc0 34%,#df2 39%,#9f5 41%,#02e 42%,#006 44%,#006 56%,#01d 58%,#7f7 59%,#df1 64%,#fd0 70%,#fd0 86%,#df2 92%,#8f7 97%,#08f 98%,#02d)"></b><b style="background:linear-gradient(#02d,#08f 2%,#bf3 3%,#fb0 8%,#f70 12%,#f50 23%,#f60 31%,#fb0 36%,#ef0 39%,#bf4 41%,#03e 42%,#006 44%,#006 56%,#01d 58%,#8f7 59%,#df2 62%,#fe0 67%,#fc0 77%,#fd0 88%,#ef1 92%,#8f6 97%,#08f 98%,#02d)"></b><b style="background:linear-gradient(#02d,#08f 2%,#bf3 3%,#fb0 8%,#f60 12%,#f50 22%,#f60 31%,#fa0 36%,#ff0 39%,#bf4 41%,#03e 42%,#006 44%,#006 56%,#03e 58%,#bf4 59%,#fd0 62%,#f80 67%,#f50 73%,#f60 86%,#f90 91%,#ef1 95%,#bf3 97%,#08f 98%,#02d)"></b><b style="background:linear-gradient(#02d,#08f 2%,#cf3 3%,#fa0 8%,#f50 12%,#f40 22%,#f50 31%,#fa0 36%,#ff0 39%,#cf3 41%,#04e 42%,#006 44%,#006 56%,#03e 58%,#af4 59%,#fe0 62%,#f90 67%,#f70 73%,#f80 86%,#fa0 91%,#df2 95%,#bf4 97%,#08f 98%,#02d)"></b><b style="background:linear-gradient(#02d,#08f 2%,#9f5 3%,#fc0 9%,#fa0 16%,#fa0 30%,#fc0 34%,#cf2 39%,#9f5 41%,#02e 42%,#006 44%,#006 56%,#03e 58%,#bf4 59%,#fd0 62%,#f80 67%,#f60 73%,#f60 86%,#f90 91%,#ef1 95%,#bf3 97%,#08f 98%,#02d)"></b><b style="background:linear-gradient(#02d,#08f 2%,#8f7 3%,#ff0 9%,#fd0 16%,#fd0 31%,#ef1 36%,#af4 39%,#8f7 41%,#01d 42%,#006 44%,#006 56%,#02d 58%,#9f6 59%,#ef1 62%,#fc0 67%,#fb0 75%,#fc0 88%,#ff0 92%,#9f6 97%,#08f 98%,#02d)"></b><b style="background:linear-gradient(#02d,#08f 2%,#6f8 3%,#cf2 9%,#ef1 17%,#ef1 31%,#af4 38%,#6f9 41%,#00d 42%,#006 44%,#006 56%,#02e 58%,#9f6 59%,#ef1 62%,#fc0 67%,#fa0 75%,#fb0 88%,#ff0 92%,#9f5 97%,#08f 98%,#02d)"></b></div>
<div class="ft" style="left:3674.2px;width:300px;text-align:center;top:343.6px;font-size:13.6px;color:#6b6b6b;letter-spacing:1.0px;">0</div>
<div class="ft" style="left:3752.0px;width:300px;text-align:center;top:343.6px;font-size:13.6px;color:#6b6b6b;letter-spacing:1.0px;">50</div>
<div class="ft" style="left:3829.8px;width:300px;text-align:center;top:343.6px;font-size:13.6px;color:#6b6b6b;letter-spacing:1.0px;">100</div>
<div class="ft" style="left:3907.6px;width:300px;text-align:center;top:343.6px;font-size:13.6px;color:#6b6b6b;letter-spacing:1.0px;">150</div>
<div class="ft" style="left:3985.4px;width:300px;text-align:center;top:343.6px;font-size:13.6px;color:#6b6b6b;letter-spacing:1.0px;">200</div>
<div class="ft" style="left:3823.6px;width:300px;text-align:center;top:362.4px;font-size:13.6px;color:#6b6b6b;letter-spacing:1.6px;">t&nbsp; Ω/2π</div>
<div class="ft" style="left:3814.8px;top:150.3px;width:0;height:0;font-size:13.2px;color:#6b6b6b;letter-spacing:0.9px;"><div style="position:absolute;left:-150px;width:300px;text-align:center;top:-11.9px;transform-origin:150px 11.9px;transform:rotate(-90deg)">16</div></div>
<div class="ft" style="left:3814.8px;top:199.8px;width:0;height:0;font-size:13.2px;color:#6b6b6b;letter-spacing:0.9px;"><div style="position:absolute;left:-150px;width:300px;text-align:center;top:-11.9px;transform-origin:150px 11.9px;transform:rotate(-90deg)">8</div></div>
<div class="ft" style="left:3814.8px;top:245.0px;width:0;height:0;font-size:13.2px;color:#6b6b6b;letter-spacing:0.9px;"><div style="position:absolute;left:-150px;width:300px;text-align:center;top:-11.9px;transform-origin:150px 11.9px;transform:rotate(-90deg)">0</div></div>
<div class="ft" style="left:3814.8px;top:290.6px;width:0;height:0;font-size:13.2px;color:#6b6b6b;letter-spacing:0.9px;"><div style="position:absolute;left:-150px;width:300px;text-align:center;top:-11.9px;transform-origin:150px 11.9px;transform:rotate(-90deg)">−8</div></div>
<div class="ft" style="left:3814.8px;top:337.0px;width:0;height:0;font-size:13.2px;color:#6b6b6b;letter-spacing:0.9px;"><div style="position:absolute;left:-150px;width:300px;text-align:center;top:-11.9px;transform-origin:150px 11.9px;transform:rotate(-90deg)">−16</div></div>
<div class="ft" style="left:3796.5px;top:240.6px;width:0;height:0;font-size:13.2px;color:#6b6b6b;letter-spacing:0.9px;"><div style="position:absolute;left:-150px;width:300px;text-align:center;top:-11.9px;transform-origin:150px 11.9px;transform:rotate(-90deg)">z/H<sub>0</sub></div></div>
<div style="position:absolute;left:4128.9px;top:187.2px;width:6.5px;height:1.5px;background:#000"></div>
<div class="ft" style="left:4147.0px;top:188.0px;width:0;height:0;font-size:13.2px;color:#6b6b6b;letter-spacing:0.9px;"><div style="position:absolute;left:-150px;width:300px;text-align:center;top:-11.9px;transform-origin:150px 11.9px;transform:rotate(-90deg)">3</div></div>
<div style="position:absolute;left:4128.9px;top:227.0px;width:6.5px;height:1.5px;background:#000"></div>
<div class="ft" style="left:4147.0px;top:227.8px;width:0;height:0;font-size:13.2px;color:#6b6b6b;letter-spacing:0.9px;"><div style="position:absolute;left:-150px;width:300px;text-align:center;top:-11.9px;transform-origin:150px 11.9px;transform:rotate(-90deg)">2</div></div>
<div style="position:absolute;left:4128.9px;top:236.6px;width:6.5px;height:1.5px;background:#fff"></div>
<div style="position:absolute;left:4128.9px;top:244.7px;width:6.5px;height:1.5px;background:#fff"></div>
<div class="ft" style="left:4147.0px;top:245.5px;width:0;height:0;font-size:13.2px;color:#6b6b6b;letter-spacing:0.9px;"><div style="position:absolute;left:-150px;width:300px;text-align:center;top:-11.9px;transform-origin:150px 11.9px;transform:rotate(-90deg)">0</div></div>
<div style="position:absolute;left:4128.9px;top:252.9px;width:6.5px;height:1.5px;background:#fff"></div>
<div style="position:absolute;left:4128.9px;top:262.0px;width:6.5px;height:1.5px;background:#000"></div>
<div class="ft" style="left:4147.0px;top:262.8px;width:0;height:0;font-size:13.2px;color:#6b6b6b;letter-spacing:0.9px;"><div style="position:absolute;left:-150px;width:300px;text-align:center;top:-11.9px;transform-origin:150px 11.9px;transform:rotate(-90deg)">−2</div></div>
<div style="position:absolute;left:4128.9px;top:302.3px;width:6.5px;height:1.5px;background:#000"></div>
<div class="ft" style="left:4147.0px;top:303.1px;width:0;height:0;font-size:13.2px;color:#6b6b6b;letter-spacing:0.9px;"><div style="position:absolute;left:-150px;width:300px;text-align:center;top:-11.9px;transform-origin:150px 11.9px;transform:rotate(-90deg)">−3</div></div>
<div class="ft" style="left:4169.9px;top:236.6px;width:0;height:0;font-size:12.6px;color:#6b6b6b;letter-spacing:1.0px;"><div style="position:absolute;left:-150px;width:300px;text-align:center;top:-11.4px;transform-origin:150px 11.4px;transform:rotate(-90deg)"><span style="font-size:1.3em;font-family:&quot;Liberation Serif&quot;,serif;font-style:italic">∫</span><sub>0</sub><sup style="margin-left:-2px">z</sup>dz/&lt;h(z)&gt;</div></div>
<div class="ft" style="left:3825.2px;top:383.1px;font-size:12.4px;color:#6b6b6b;letter-spacing:2.0px;"><i style="font-family:&quot;Liberation Serif&quot;,serif;font-size:1.1em">γ</i>=1.03</div>
<div class="ft" style="left:3837.0px;width:300px;text-align:center;top:380.7px;font-size:12.4px;color:#6b6b6b;letter-spacing:1.1px;">T/T<sub>0</sub></div>
<div class="cb" style="left:3824.2px;top:414.5px;width:311.2px;height:10.6px;background:linear-gradient(90deg,#005 0%,#0000a0 10%,#00d 18%,#0038f0 22%,#0090ff 27%,#00f0ff 33%,#4fb 40%,#90ff68 50%,#cf3 57%,#ff0 66%,#ffc000 75%,#ff9000 82%,#f50 90%,#f10 100%)"></div>
<div class="ft" style="left:3674.2px;width:300px;text-align:center;top:403.8px;font-size:6px;color:#555;letter-spacing:0.5px;">1</div>
<div class="ft" style="left:3726.1px;width:300px;text-align:center;top:403.8px;font-size:6px;color:#555;letter-spacing:0.5px;">1.5</div>
<div class="ft" style="left:3777.9px;width:300px;text-align:center;top:403.8px;font-size:6px;color:#555;letter-spacing:0.5px;">2</div>
<div class="ft" style="left:3829.8px;width:300px;text-align:center;top:403.8px;font-size:6px;color:#555;letter-spacing:0.5px;">2.5</div>
<div class="ft" style="left:3881.7px;width:300px;text-align:center;top:403.8px;font-size:6px;color:#555;letter-spacing:0.5px;">3</div>
<div class="ft" style="left:3933.5px;width:300px;text-align:center;top:403.8px;font-size:6px;color:#555;letter-spacing:0.5px;">3.5</div>
<div class="ft" style="left:3985.4px;width:300px;text-align:center;top:403.8px;font-size:6px;color:#555;letter-spacing:0.5px;">4</div>
<div class="hm" style="left:3824.2px;top:438.5px;width:311.2px;height:183.3px;background:#08f"><b style="background:linear-gradient(#f50,#f50 12%,#008 15%,#008 82%,#f50 85%,#f50)"></b><b style="background:linear-gradient(#03e,#008 5%,#009 80%,#00c 95%,#08f)"></b><b style="background:linear-gradient(#05e,#008 5%,#008 95%,#05e)"></b><b style="background:linear-gradient(#07f,#009 5%,#008 38%,#009 80%,#01d 95%,#08f 98%,#0af)"></b><b style="background:linear-gradient(#09f,#00a 5%,#008 8%,#009 80%,#00b 92%,#0af)"></b><b style="background:linear-gradient(#0bf,#05e 5%,#00c 8%,#008 25%,#008 92%,#0af)"></b><b style="background:linear-gradient(#0cf,#0ef 5%,#08f 8%,#008 22%,#009 82%,#00a 92%,#02e 95%,#0cf)"></b><b style="background:linear-gradient(#0df,#06f 5%,#00b 10%,#008 25%,#009 90%,#00a 92%,#0df)"></b><b style="background:linear-gradient(#0ee,#01d 8%,#00b 10%,#008 28%,#009 85%,#009 90%,#0ee)"></b><b style="background:linear-gradient(#1ee,#00c 8%,#008 10%,#008 78%,#01d 90%,#09f 92%,#0cf 98%,#1ee)"></b><b style="background:linear-gradient(#2fd,#0df 2%,#0cf 5%,#0ef 8%,#02d 12%,#008 22%,#008 88%,#009 90%,#0df 98%,#2fd)"></b><b style="background:linear-gradient(#3fc,#02e 8%,#008 12%,#009 78%,#05e 88%,#0ef 90%,#1ee 92%,#0cf 95%,#3fc)"></b><b style="background:linear-gradient(#3fb,#05e 10%,#00b 12%,#008 25%,#008 88%,#0bf 95%,#3fb)"></b><b style="background:linear-gradient(#4fb,#06f 8%,#009 12%,#008 42%,#008 85%,#009 88%,#0cf 95%,#4fb)"></b><b style="background:linear-gradient(#4fa,#08f 8%,#00a 12%,#008 15%,#009 85%,#2fc 98%,#4fa)"></b><b style="background:linear-gradient(#5fa,#0af 8%,#008 15%,#008 85%,#1ee 95%,#5fa)"></b><b style="background:linear-gradient(#5f9,#06f 10%,#009 15%,#008 55%,#009 85%,#0cf 92%,#5f9)"></b><b style="background:linear-gradient(#6f9,#08f 10%,#00b 15%,#009 18%,#008 82%,#00a 85%,#0df 92%,#6f9)"></b><b style="background:linear-gradient(#6f8,#08f 12%,#00a 18%,#008 25%,#008 82%,#0ef 92%,#6f8)"></b><b style="background:linear-gradient(#7f8,#08f 12%,#02e 15%,#00a 18%,#008 28%,#009 80%,#009 82%,#01d 85%,#5f9 98%,#7f8)"></b><b style="background:linear-gradient(#7f8,#0df 10%,#02e 15%,#00a 18%,#009 20%,#008 80%,#00a 82%,#0df 90%,#7f8)"></b><b style="background:linear-gradient(#7f7,#0ef 10%,#008 20%,#008 80%,#0ef 90%,#7f7)"></b><b style="background:linear-gradient(#8f7,#1ee 10%,#00c 18%,#008 20%,#008 80%,#0bf 88%,#6f8 98%,#8f7)"></b><b style="background:linear-gradient(#8f7,#2ed 10%,#04e 18%,#00a 20%,#008 22%,#008 78%,#009 80%,#0cf 88%,#7f8 98%,#8f7)"></b><b style="background:linear-gradient(#8f6,#2fc 10%,#02e 18%,#008 22%,#009 78%,#08f 82%,#7f7 98%,#8f6)"></b><b style="background:linear-gradient(#9f6,#3fc 10%,#05e 18%,#008 22%,#008 78%,#0af 85%,#6f8 95%,#9f6)"></b><b style="background:linear-gradient(#9f6,#4fb 10%,#06f 18%,#009 22%,#008 28%,#008 75%,#009 78%,#06f 82%,#5f9 92%,#9f6)"></b><b style="background:linear-gradient(#9f6,#4fa 10%,#08f 18%,#008 25%,#008 75%,#0df 85%,#7f8 95%,#9f6)"></b><b style="background:linear-gradient(#9f5,#3fc 12%,#04e 20%,#008 25%,#008 75%,#0af 82%,#6f8 92%,#9f5)"></b><b style="background:linear-gradient(#9f5,#3fb 12%,#06f 20%,#009 25%,#008 30%,#008 72%,#009 75%,#0cf 82%,#7f8 92%,#9f5)"></b><b style="background:linear-gradient(#af5,#4fb 12%,#09f 20%,#00a 25%,#008 28%,#008 72%,#0df 82%,#7f8 92%,#af5)"></b><b style="background:linear-gradient(#af5,#5fa 12%,#04e 22%,#008 28%,#008 72%,#0af 80%,#6f9 90%,#af5)"></b><b style="background:linear-gradient(#af5,#5fa 12%,#0bf 20%,#009 28%,#008 32%,#008 70%,#009 72%,#0bf 80%,#6f8 90%,#af5)"></b><b style="background:linear-gradient(#af5,#5f9 12%,#08f 22%,#008 30%,#008 70%,#0df 80%,#7f8 90%,#af5)"></b><b style="background:linear-gradient(#af4,#6f9 12%,#09f 22%,#008 30%,#008 70%,#09f 78%,#6f9 88%,#af4)"></b><b style="background:linear-gradient(#af4,#6f8 12%,#0bf 22%,#009 30%,#008 35%,#008 68%,#009 70%,#0bf 78%,#6f8 88%,#af4)"></b><b style="background:linear-gradient(#af4,#5f9 15%,#07f 25%,#008 32%,#008 68%,#0df 78%,#7f8 88%,#af4)"></b><b style="background:linear-gradient(#bf4,#6f9 15%,#09f 25%,#008 32%,#008 68%,#09f 75%,#6f9 85%,#bf4)"></b><b style="background:linear-gradient(#bf4,#6f8 15%,#0bf 25%,#009 32%,#008 35%,#008 65%,#009 68%,#0bf 75%,#6f8 85%,#bf4)"></b><b style="background:linear-gradient(#bf4,#7f8 15%,#0df 25%,#008 35%,#008 65%,#0df 75%,#7f8 85%,#bf4)"></b><b style="background:linear-gradient(#bf4,#7f8 15%,#0ef 25%,#00c 32%,#009 35%,#009 65%,#09f 72%,#6f9 82%,#af4 98%,#bf4)"></b><b style="background:linear-gradient(#bf4,#7f7 15%,#1ee 25%,#00d 32%,#00a 35%,#008 38%,#008 62%,#00a 65%,#0bf 72%,#6f8 82%,#bf4 98%,#bf4)"></b><b style="background:linear-gradient(#bf4,#8f7 15%,#2ed 25%,#02e 32%,#008 38%,#008 62%,#0df 72%,#6f8 82%,#bf4 98%,#bf4)"></b><b style="background:linear-gradient(#bf3,#7f8 18%,#0ef 28%,#00c 35%,#009 38%,#008 50%,#009 62%,#09f 70%,#6f9 80%,#af4 95%,#bf3)"></b><b style="background:linear-gradient(#bf3,#7f7 18%,#1ee 28%,#008 40%,#008 60%,#1ee 72%,#8f6 85%,#bf3)"></b><b style="background:linear-gradient(#bf3,#8f7 18%,#2ed 28%,#00b 38%,#008 40%,#008 60%,#0df 70%,#6f8 80%,#bf4 95%,#bf3)"></b><b style="background:linear-gradient(#bf3,#8f7 18%,#0ef 30%,#009 40%,#008 42%,#008 57%,#009 60%,#0ef 70%,#8f7 82%,#bf3)"></b><b style="background:linear-gradient(#bf3,#8f6 18%,#1ee 30%,#008 42%,#008 57%,#1ee 70%,#8f6 82%,#bf3)"></b><b style="background:linear-gradient(#bf3,#8f6 18%,#2ed 30%,#00c 40%,#009 42%,#008 55%,#009 57%,#0df 68%,#7f7 80%,#bf3 98%,#bf3)"></b><b style="background:linear-gradient(#cf3,#8f7 20%,#0ef 32%,#008 45%,#008 55%,#0ef 68%,#8f7 80%,#cf3)"></b><b style="background:linear-gradient(#cf3,#8f6 20%,#1ee 32%,#00b 42%,#009 45%,#009 55%,#0cf 65%,#7f7 78%,#bf3 95%,#cf3)"></b><b style="background:linear-gradient(#cf3,#8f6 20%,#2fd 32%,#008 48%,#008 52%,#2fd 68%,#8f6 80%,#cf3)"></b><b style="background:linear-gradient(#cf3,#9f6 20%,#2fc 32%,#00b 45%,#008 48%,#008 52%,#0ef 65%,#8f7 78%,#cf3 98%,#cf3)"></b><b style="background:linear-gradient(#cf3,#9f6 20%,#3fc 32%,#00c 45%,#008 50%,#3fc 68%,#9f6 80%,#cf3)"></b><b style="background:linear-gradient(#cf3,#9f6 20%,#4fb 32%,#00d 45%,#009 50%,#2fd 65%,#8f6 78%,#cf3 98%,#cf3)"></b><b style="background:linear-gradient(#cf3,#9f6 22%,#3fc 35%,#00a 50%,#3fc 65%,#9f6 78%,#cf3)"></b><b style="background:linear-gradient(#cf3,#9f6 22%,#3fb 35%,#00b 50%,#5fa 68%,#af5 82%,#cf3)"></b><b style="background:linear-gradient(#cf3,#9f6 22%,#2fd 38%,#00c 50%,#5f9 68%,#af4 82%,#cf3)"></b><b style="background:linear-gradient(#cf3,#9f5 22%,#3fc 38%,#01d 50%,#6f9 68%,#bf4 85%,#cf3)"></b><b style="background:linear-gradient(#cf3,#9f5 22%,#3fb 38%,#03e 50%,#6f9 68%,#bf4 85%,#cf3)"></b><b style="background:linear-gradient(#cf3,#9f6 25%,#2fc 40%,#05e 50%,#6f8 68%,#bf4 85%,#cf3)"></b><b style="background:linear-gradient(#cf3,#9f5 25%,#3fc 40%,#07f 50%,#7f8 68%,#bf4 85%,#cf3)"></b><b style="background:linear-gradient(#cf3,#9f5 25%,#4fb 40%,#09f 50%,#7f7 68%,#bf3 88%,#cf3)"></b><b style="background:linear-gradient(#cf3,#af5 25%,#4fa 40%,#0bf 50%,#8f6 70%,#cf3 92%,#cf3)"></b><b style="background:linear-gradient(#cf2,#af5 25%,#3fb 42%,#0cf 50%,#9f6 70%,#cf3 92%,#cf2)"></b><b style="background:linear-gradient(#cf2,#9f5 28%,#3fc 45%,#0ef 50%,#9f6 70%,#cf3 95%,#cf2)"></b><b style="background:linear-gradient(#cf2,#af5 28%,#3fb 45%,#1ee 50%,#9f6 70%,#cf3 95%,#cf2)"></b><b style="background:linear-gradient(#cf2,#af5 28%,#4fb 45%,#1ed 50%,#9f5 70%,#cf3 95%,#cf2)"></b><b style="background:linear-gradient(#cf2,#af5 28%,#3fb 48%,#2fd 50%,#9f5 70%,#cf2 98%,#cf2)"></b><b style="background:linear-gradient(#cf2,#af5 28%,#3fc 50%,#af5 72%,#cf2)"></b><b style="background:linear-gradient(#cf2,#af5 30%,#4fb 50%,#af4 72%,#cf2)"></b><b style="background:linear-gradient(#cf2,#af5 30%,#4fb 50%,#af4 72%,#cf2)"></b><b style="background:linear-gradient(#cf2,#af5 30%,#5fa 50%,#af4 72%,#cf2)"></b><b style="background:linear-gradient(#cf2,#af4 30%,#5fa 50%,#bf4 75%,#cf2)"></b><b style="background:linear-gradient(#cf2,#af5 32%,#5f9 50%,#bf4 75%,#cf2)"></b><b style="background:linear-gradient(#cf2,#af4 32%,#6f9 50%,#bf4 75%,#cf2)"></b><b style="background:linear-gradient(#cf2,#af4 32%,#6f8 50%,#bf3 75%,#cf2)"></b><b style="background:linear-gradient(#cf2,#af4 32%,#7f8 50%,#bf3 78%,#cf2)"></b></div>
<div class="ft" style="left:3674.2px;width:300px;text-align:center;top:627.7px;font-size:13.6px;color:#6b6b6b;letter-spacing:1.0px;">0</div>
<div class="ft" style="left:3752.0px;width:300px;text-align:center;top:627.7px;font-size:13.6px;color:#6b6b6b;letter-spacing:1.0px;">50</div>
<div class="ft" style="left:3829.8px;width:300px;text-align:center;top:627.7px;font-size:13.6px;color:#6b6b6b;letter-spacing:1.0px;">100</div>
<div class="ft" style="left:3907.6px;width:300px;text-align:center;top:627.7px;font-size:13.6px;color:#6b6b6b;letter-spacing:1.0px;">150</div>
<div class="ft" style="left:3985.4px;width:300px;text-align:center;top:627.7px;font-size:13.6px;color:#6b6b6b;letter-spacing:1.0px;">200</div>
<div class="ft" style="left:3823.6px;width:300px;text-align:center;top:646.5px;font-size:13.6px;color:#6b6b6b;letter-spacing:1.6px;">t&nbsp; Ω/2π</div>
<div class="ft" style="left:3814.8px;top:529.0px;width:0;height:0;font-size:13.2px;color:#6b6b6b;letter-spacing:0.9px;"><div style="position:absolute;left:-150px;width:300px;text-align:center;top:-11.9px;transform-origin:150px 11.9px;transform:rotate(-90deg)">0</div></div>
<div class="ft" style="left:3796.5px;top:524.6px;width:0;height:0;font-size:13.2px;color:#6b6b6b;letter-spacing:0.9px;"><div style="position:absolute;left:-150px;width:300px;text-align:center;top:-11.9px;transform-origin:150px 11.9px;transform:rotate(-90deg)">z/H<sub>0</sub></div></div>
<div style="position:absolute;left:4128.9px;top:457.4px;width:6.5px;height:1.5px;background:#000"></div>
<div class="ft" style="left:4147.0px;top:458.2px;width:0;height:0;font-size:13.2px;color:#6b6b6b;letter-spacing:0.9px;"><div style="position:absolute;left:-150px;width:300px;text-align:center;top:-11.9px;transform-origin:150px 11.9px;transform:rotate(-90deg)">3</div></div>
<div style="position:absolute;left:4128.9px;top:483.8px;width:6.5px;height:1.5px;background:#000"></div>
<div class="ft" style="left:4147.0px;top:484.6px;width:0;height:0;font-size:13.2px;color:#6b6b6b;letter-spacing:0.9px;"><div style="position:absolute;left:-150px;width:300px;text-align:center;top:-11.9px;transform-origin:150px 11.9px;transform:rotate(-90deg)">2</div></div>
<div style="position:absolute;left:4128.9px;top:508.8px;width:6.5px;height:1.5px;background:#000"></div>
<div class="ft" style="left:4147.0px;top:509.6px;width:0;height:0;font-size:13.2px;color:#6b6b6b;letter-spacing:0.9px;"><div style="position:absolute;left:-150px;width:300px;text-align:center;top:-11.9px;transform-origin:150px 11.9px;transform:rotate(-90deg)">1</div></div>
<div style="position:absolute;left:4128.9px;top:528.9px;width:6.5px;height:1.5px;background:#000"></div>
<div class="ft" style="left:4147.0px;top:529.7px;width:0;height:0;font-size:13.2px;color:#6b6b6b;letter-spacing:0.9px;"><div style="position:absolute;left:-150px;width:300px;text-align:center;top:-11.9px;transform-origin:150px 11.9px;transform:rotate(-90deg)">0</div></div>
<div style="position:absolute;left:4128.9px;top:549.1px;width:6.5px;height:1.5px;background:#000"></div>
<div class="ft" style="left:4147.0px;top:549.9px;width:0;height:0;font-size:13.2px;color:#6b6b6b;letter-spacing:0.9px;"><div style="position:absolute;left:-150px;width:300px;text-align:center;top:-11.9px;transform-origin:150px 11.9px;transform:rotate(-90deg)">−1</div></div>
<div style="position:absolute;left:4128.9px;top:572.6px;width:6.5px;height:1.5px;background:#000"></div>
<div class="ft" style="left:4147.0px;top:573.4px;width:0;height:0;font-size:13.2px;color:#6b6b6b;letter-spacing:0.9px;"><div style="position:absolute;left:-150px;width:300px;text-align:center;top:-11.9px;transform-origin:150px 11.9px;transform:rotate(-90deg)">−2</div></div>
<div style="position:absolute;left:4128.9px;top:599.9px;width:6.5px;height:1.5px;background:#000"></div>
<div class="ft" style="left:4147.0px;top:600.7px;width:0;height:0;font-size:13.2px;color:#6b6b6b;letter-spacing:0.9px;"><div style="position:absolute;left:-150px;width:300px;text-align:center;top:-11.9px;transform-origin:150px 11.9px;transform:rotate(-90deg)">−3</div></div>
<div class="ft" style="left:4169.9px;top:520.6px;width:0;height:0;font-size:12.6px;color:#6b6b6b;letter-spacing:1.0px;"><div style="position:absolute;left:-150px;width:300px;text-align:center;top:-11.4px;transform-origin:150px 11.4px;transform:rotate(-90deg)"><span style="font-size:1.3em;font-family:&quot;Liberation Serif&quot;,serif;font-style:italic">∫</span><sub>0</sub><sup style="margin-left:-2px">z</sup>dz/&lt;h(z)&gt;</div></div>
<div class="ft" style="left:4229.4px;top:99.0px;font-size:12.4px;color:#6b6b6b;letter-spacing:2.0px;"><i style="font-family:&quot;Liberation Serif&quot;,serif;font-size:1.1em">γ</i>=1.4</div>
<div class="ft" style="left:4241.2px;width:300px;text-align:center;top:96.6px;font-size:12.4px;color:#6b6b6b;letter-spacing:1.1px;">log(ρ)</div>
<div class="cb" style="left:4228.4px;top:130.4px;width:311.2px;height:10.6px;background:linear-gradient(90deg,#005 0%,#0000a0 10%,#00d 18%,#0038f0 22%,#0090ff 27%,#00f0ff 33%,#4fb 40%,#90ff68 50%,#cf3 57%,#ff0 66%,#ffc000 75%,#ff9000 82%,#f50 90%,#f10 100%)"></div>
<div class="ft" style="left:4078.4px;width:300px;text-align:center;top:119.7px;font-size:6px;color:#555;letter-spacing:0.5px;">−6</div>
<div class="ft" style="left:4122.9px;width:300px;text-align:center;top:119.7px;font-size:6px;color:#555;letter-spacing:0.5px;">−5</div>
<div class="ft" style="left:4167.3px;width:300px;text-align:center;top:119.7px;font-size:6px;color:#555;letter-spacing:0.5px;">−4</div>
<div class="ft" style="left:4211.8px;width:300px;text-align:center;top:119.7px;font-size:6px;color:#555;letter-spacing:0.5px;">−3</div>
<div class="ft" style="left:4256.2px;width:300px;text-align:center;top:119.7px;font-size:6px;color:#555;letter-spacing:0.5px;">−2</div>
<div class="ft" style="left:4300.7px;width:300px;text-align:center;top:119.7px;font-size:6px;color:#555;letter-spacing:0.5px;">−1</div>
<div class="ft" style="left:4345.1px;width:300px;text-align:center;top:119.7px;font-size:6px;color:#555;letter-spacing:0.5px;">0</div>
<div class="ft" style="left:4389.6px;width:300px;text-align:center;top:119.7px;font-size:6px;color:#555;letter-spacing:0.5px;">1</div>
<div class="hm" style="left:4228.4px;top:154.4px;width:311.2px;height:183.3px;background:#0cf"><b style="background:linear-gradient(#006,#008 14%,#01d 38%,#01d 40%,#05e 41%,#1ee 42%,#df2 45%,#fb0 46%,#f80 48%,#f70 51%,#f80 52%,#fb0 54%,#df2 55%,#1ee 57%,#05e 59%,#01d 60%,#00a 76%,#007 95%,#006)"></b><b style="background:linear-gradient(#008,#009 14%,#02e 36%,#03e 40%,#07f 41%,#2fd 42%,#df2 45%,#fb0 46%,#f80 48%,#f70 51%,#f80 52%,#fb0 54%,#df2 55%,#2fd 57%,#07f 59%,#03e 60%,#00c 70%,#008 86%,#006)"></b><b style="background:linear-gradient(#008,#00a 14%,#04e 38%,#04e 40%,#09f 41%,#2fc 42%,#df2 45%,#fb0 46%,#f80 48%,#f70 51%,#f80 52%,#fb0 54%,#df2 55%,#2fc 57%,#09f 59%,#04e 60%,#00d 71%,#008 90%,#007)"></b><b style="background:linear-gradient(#008,#00a 14%,#05e 38%,#05e 40%,#0af 41%,#3fc 42%,#df2 45%,#fb0 46%,#f80 48%,#f70 51%,#f80 52%,#fb0 54%,#df2 55%,#3fc 57%,#0af 59%,#05e 60%,#02e 69%,#009 82%,#007 98%,#006)"></b><b style="background:linear-gradient(#009,#00b 14%,#04e 32%,#06f 40%,#0af 41%,#3fc 42%,#df2 45%,#fb0 46%,#f80 48%,#f70 51%,#f80 52%,#fb0 54%,#df2 55%,#3fc 57%,#0af 59%,#06f 60%,#01d 74%,#009 94%,#008)"></b><b style="background:linear-gradient(#009,#00b 14%,#06f 36%,#06f 40%,#0af 41%,#3fc 42%,#df2 45%,#fb0 46%,#f80 48%,#f70 51%,#f80 52%,#fb0 54%,#df2 55%,#3fc 57%,#0af 59%,#06f 60%,#02d 71%,#009 90%,#008)"></b><b style="background:linear-gradient(#009,#00b 14%,#06f 36%,#07f 40%,#0bf 41%,#3fb 42%,#df2 45%,#fb0 46%,#f80 48%,#f70 51%,#f80 52%,#fb0 54%,#df2 55%,#3fb 57%,#0bf 59%,#07f 60%,#01d 75%,#009 95%,#009)"></b><b style="background:linear-gradient(#008,#009 14%,#06f 36%,#07f 40%,#0bf 41%,#3fb 42%,#df2 45%,#fb0 46%,#f80 48%,#f70 51%,#f80 52%,#fb0 54%,#df2 55%,#3fb 57%,#0bf 59%,#07f 60%,#02e 71%,#009 91%,#008)"></b><b style="background:linear-gradient(#008,#00a 14%,#06f 36%,#07f 40%,#0bf 41%,#3fb 42%,#df2 45%,#fb0 46%,#f80 48%,#f70 51%,#f80 52%,#fb0 54%,#df2 55%,#3fb 57%,#0bf 59%,#07f 60%,#00d 78%,#009 96%,#009)"></b><b style="background:linear-gradient(#008,#00a 14%,#06f 36%,#07f 40%,#0bf 41%,#3fb 42%,#df2 45%,#fb0 46%,#f80 48%,#f70 51%,#f80 52%,#fb0 54%,#df2 55%,#3fb 57%,#0bf 59%,#07f 60%,#01d 75%,#009 95%,#009)"></b><b style="background:linear-gradient(#00a,#00c 14%,#05e 31%,#07f 40%,#0bf 41%,#3fb 42%,#df2 45%,#fb0 46%,#f80 48%,#f70 51%,#f80 52%,#fb0 54%,#df2 55%,#3fb 57%,#0bf 59%,#07f 60%,#00d 79%,#009 96%,#009)"></b><b style="background:linear-gradient(#008,#00a 14%,#06f 36%,#07f 40%,#0bf 41%,#3fb 42%,#df2 45%,#fb0 46%,#f80 48%,#f70 51%,#f80 52%,#fb0 54%,#df2 55%,#3fb 57%,#0bf 59%,#07f 60%,#01d 76%,#009 95%,#009)"></b><b style="background:linear-gradient(#008,#009 14%,#02e 29%,#07f 39%,#07f 40%,#0bf 41%,#3fb 42%,#df2 45%,#fb0 46%,#f80 48%,#f70 51%,#f80 52%,#fb0 54%,#df2 55%,#3fb 57%,#0bf 59%,#07f 60%,#02e 71%,#009 91%,#008)"></b><b style="background:linear-gradient(#007,#009 14%,#00d 26%,#06f 35%,#07f 40%,#0bf 41%,#3fb 42%,#df2 45%,#fb0 46%,#f80 48%,#f70 51%,#f80 52%,#fb0 54%,#df2 55%,#3fb 57%,#0bf 59%,#07f 60%,#04e 69%,#00a 81%,#007 98%,#007)"></b><b style="background:linear-gradient(#009,#00b 14%,#07f 38%,#07f 40%,#0bf 41%,#3fb 42%,#df2 45%,#fb0 46%,#f80 48%,#f70 51%,#f80 52%,#fb0 54%,#df2 55%,#3fb 57%,#0bf 59%,#07f 60%,#03e 70%,#00a 85%,#007 99%,#007)"></b><b style="background:linear-gradient(#009,#00b 14%,#07f 38%,#07f 40%,#0bf 41%,#3fb 42%,#df2 45%,#fb0 46%,#f80 48%,#f70 51%,#f80 52%,#fb0 54%,#df2 55%,#3fb 57%,#0bf 59%,#07f 60%,#04e 69%,#00a 82%,#007 98%,#007)"></b><b style="background:linear-gradient(#008,#00a 14%,#06f 36%,#07f 40%,#0bf 41%,#3fb 42%,#df2 45%,#fb0 46%,#f80 48%,#f70 51%,#f80 52%,#fb0 54%,#df2 55%,#3fb 57%,#0bf 59%,#07f 60%,#04e 69%,#00a 82%,#007 98%,#007)"></b><b style="background:linear-gradient(#009,#00b 14%,#07f 38%,#07f 40%,#0bf 41%,#3fb 42%,#df2 45%,#fb0 46%,#f80 48%,#f70 51%,#f80 52%,#fb0 54%,#df2 55%,#3fb 57%,#0bf 59%,#07f 60%,#04e 69%,#00a 81%,#007 98%,#007)"></b><b style="background:linear-gradient(#009,#00b 14%,#07f 38%,#07f 40%,#0bf 41%,#3fb 42%,#df2 45%,#fb0 46%,#f80 48%,#f70 51%,#f80 52%,#fb0 54%,#df2 55%,#3fb 57%,#0bf 59%,#07f 60%,#03e 70%,#00a 85%,#008 99%,#008)"></b><b style="background:linear-gradient(#009,#00b 14%,#07f 38%,#07f 40%,#0bf 41%,#3fb 42%,#df2 45%,#fb0 46%,#f80 48%,#f70 51%,#f80 52%,#fb0 54%,#df2 55%,#3fb 57%,#0bf 59%,#07f 60%,#03e 71%,#009 91%,#008)"></b><b style="background:linear-gradient(#008,#00a 14%,#06f 36%,#07f 40%,#0bf 41%,#3fb 42%,#df2 45%,#fb0 46%,#f80 48%,#f70 51%,#f80 52%,#fb0 54%,#df2 55%,#3fb 57%,#0bf 59%,#07f 60%,#00d 80%,#00a 96%,#009)"></b><b style="background:linear-gradient(#008,#00a 14%,#06f 36%,#07f 40%,#0bf 41%,#3fb 42%,#df2 45%,#fb0 46%,#f80 48%,#f70 51%,#f80 52%,#fb0 54%,#df2 55%,#3fb 57%,#0bf 59%,#07f 60%,#01d 81%,#00a 98%,#00a)"></b><b style="background:linear-gradient(#009,#00a 14%,#07f 38%,#07f 40%,#0bf 41%,#3fb 42%,#df2 45%,#fb0 46%,#f80 48%,#f70 51%,#f80 52%,#fb0 54%,#df2 55%,#3fb 57%,#0bf 59%,#07f 60%,#01d 81%,#00a 98%,#00a)"></b><b style="background:linear-gradient(#008,#00a 14%,#06f 36%,#07f 40%,#0bf 41%,#3fb 42%,#df2 45%,#fb0 46%,#f80 48%,#f70 51%,#f80 52%,#fb0 54%,#df2 55%,#3fb 57%,#0bf 59%,#07f 60%,#01d 81%,#00b 98%,#00b)"></b><b style="background:linear-gradient(#007,#008 14%,#00c 25%,#06f 35%,#07f 40%,#0bf 41%,#3fb 42%,#df2 45%,#fb0 46%,#f80 48%,#f70 51%,#f80 52%,#fb0 54%,#df2 55%,#3fb 57%,#0bf 59%,#07f 60%,#00d 80%,#00a 96%,#009)"></b><b style="background:linear-gradient(#008,#00a 14%,#06f 36%,#07f 40%,#0bf 41%,#3fb 42%,#df2 45%,#fb0 46%,#f80 48%,#f70 51%,#f80 52%,#fb0 54%,#df2 55%,#3fb 57%,#0bf 59%,#07f 60%,#00c 81%,#00a 98%,#00a)"></b><b style="background:linear-gradient(#007,#009 14%,#00d 26%,#06f 35%,#07f 40%,#0bf 41%,#9f6 44%,#df2 45%,#fb0 46%,#f80 48%,#f70 51%,#f80 52%,#fb0 54%,#df2 55%,#3fb 57%,#0bf 59%,#07f 60%,#02e 72%,#009 94%,#009)"></b><b style="background:linear-gradient(#009,#00b 14%,#07f 39%,#08f 40%,#0cf 41%,#9f6 44%,#df2 45%,#fb0 46%,#f80 48%,#f70 51%,#f80 52%,#fb0 54%,#df2 55%,#4fb 57%,#0cf 59%,#08f 60%,#00c 81%,#009 98%,#009)"></b><b style="background:linear-gradient(#007,#009 14%,#00d 26%,#07f 36%,#09f 40%,#0df 41%,#df1 45%,#fb0 46%,#f80 48%,#f70 51%,#f80 52%,#fb0 54%,#df1 55%,#0df 59%,#09f 60%,#00a 96%,#009)"></b><b style="background:linear-gradient(#008,#00a 14%,#02e 28%,#0af 39%,#0af 40%,#0ef 41%,#df1 45%,#fb0 46%,#f80 48%,#f70 51%,#f80 52%,#fb0 54%,#df1 55%,#0ef 59%,#0af 60%,#009 91%,#009)"></b><b style="background:linear-gradient(#007,#009 14%,#00c 24%,#0af 35%,#0cf 40%,#1ee 41%,#ef1 45%,#fb0 46%,#f80 48%,#f70 51%,#f80 52%,#fb0 54%,#ef1 55%,#1ee 59%,#0cf 60%,#05e 71%,#00a 85%,#008 99%,#008)"></b><b style="background:linear-gradient(#008,#00a 12%,#06f 28%,#0ef 39%,#0ef 40%,#2fd 41%,#ef1 45%,#fb0 46%,#f80 48%,#f70 51%,#f80 52%,#fb0 54%,#ef1 55%,#2fd 59%,#0ef 60%,#08f 70%,#00a 84%,#008 95%,#008)"></b><b style="background:linear-gradient(#008,#009 10%,#05e 25%,#0ef 35%,#1ee 40%,#3fc 41%,#ef1 45%,#fb0 46%,#f80 48%,#f70 51%,#f80 52%,#fb0 54%,#ef1 55%,#3fc 59%,#1ee 60%,#0af 71%,#00a 90%,#008)"></b><b style="background:linear-gradient(#007,#009 10%,#1ee 34%,#2fc 40%,#4fb 41%,#ef1 45%,#fb0 46%,#f80 48%,#f70 51%,#f80 52%,#fb0 54%,#ef1 55%,#4fb 59%,#2fc 60%,#0cf 72%,#00a 92%,#009)"></b><b style="background:linear-gradient(#009,#00b 10%,#1ee 30%,#3fc 40%,#5fa 41%,#ef1 45%,#fb0 46%,#f80 48%,#f70 51%,#f80 52%,#fb0 54%,#ef1 55%,#5fa 59%,#3fc 60%,#0ef 72%,#00a 94%,#009)"></b><b style="background:linear-gradient(#00a,#01d 10%,#1ee 25%,#4fb 40%,#5fa 41%,#ef1 45%,#fb0 46%,#f80 48%,#f70 51%,#f80 52%,#fb0 54%,#ef1 55%,#5fa 59%,#4fb 60%,#1ee 76%,#00c 95%,#00b)"></b><b style="background:linear-gradient(#00c,#06f 10%,#3fc 22%,#4fb 31%,#4fb 40%,#5fa 41%,#ef1 45%,#fb0 46%,#f80 48%,#f70 51%,#f80 52%,#fb0 54%,#ef1 55%,#5fa 59%,#4fb 60%,#2fc 72%,#07f 85%,#00b 98%,#00a)"></b><b style="background:linear-gradient(#00d,#09f 11%,#4fb 22%,#4fb 31%,#4fb 40%,#5fa 41%,#ef1 45%,#fb0 46%,#f80 48%,#f70 51%,#f80 52%,#fb0 54%,#ef1 55%,#5fa 59%,#4fb 60%,#3fc 74%,#0af 85%,#00c 98%,#00b)"></b><b style="background:linear-gradient(#00d,#09f 11%,#3fc 22%,#4fb 36%,#4fb 40%,#5fa 41%,#ef1 45%,#fb0 46%,#f80 48%,#f70 51%,#f80 52%,#fb0 54%,#ef1 55%,#5fa 59%,#4fb 60%,#3fc 76%,#0af 88%,#00d 99%,#00c)"></b><b style="background:linear-gradient(#00d,#2fd 22%,#4fb 35%,#4fb 40%,#5fa 41%,#ef1 45%,#fb0 46%,#f80 48%,#f70 51%,#f80 52%,#fb0 54%,#ef1 55%,#5fa 59%,#4fb 60%,#3fc 76%,#09f 89%,#00d)"></b><b style="background:linear-gradient(#02d,#02d 1%,#06f 2%,#4fb 22%,#4fb 40%,#5fa 41%,#ef1 45%,#fb0 46%,#f80 48%,#f70 51%,#f80 52%,#fb0 54%,#ef1 55%,#5fa 59%,#4fb 60%,#3fc 78%,#04e 98%,#02d 99%,#02d)"></b><b style="background:linear-gradient(#02d,#02d 1%,#04e 2%,#3fc 25%,#4fb 40%,#5fa 41%,#ef1 45%,#fb0 46%,#f80 48%,#f70 51%,#f80 52%,#fb0 54%,#ef1 55%,#5fa 59%,#4fb 60%,#3fc 76%,#04e 98%,#02d 99%,#02d)"></b><b style="background:linear-gradient(#02d,#02d 1%,#06f 2%,#4fb 24%,#4fb 40%,#5fa 41%,#ef1 45%,#fb0 46%,#f80 48%,#f70 51%,#f80 52%,#fb0 54%,#ef1 55%,#5fa 59%,#4fb 60%,#3fc 74%,#02d 99%,#02d)"></b><b style="background:linear-gradient(#02d,#02d 1%,#07f 2%,#4fb 24%,#4fb 40%,#5fa 41%,#ef1 45%,#fb0 46%,#f80 48%,#f70 51%,#f80 52%,#fb0 54%,#ef1 55%,#5fa 59%,#4fb 60%,#3fc 76%,#04e 98%,#02d 99%,#02d)"></b><b style="background:linear-gradient(#02d,#02d 1%,#09f 2%,#4fa 22%,#4fb 40%,#5fa 41%,#ef1 45%,#fb0 46%,#f80 48%,#f70 51%,#f80 52%,#fb0 54%,#ef1 55%,#5fa 59%,#4fb 60%,#3fc 76%,#05e 98%,#02d 99%,#02d)"></b><b style="background:linear-gradient(#02d,#02d 1%,#05e 2%,#3fb 25%,#4fb 40%,#5f9 41%,#ef1 45%,#fb0 46%,#f80 48%,#f70 51%,#f80 52%,#fb0 54%,#ef1 55%,#5f9 59%,#4fb 60%,#3fb 78%,#06f 98%,#02d 99%,#02d)"></b><b style="background:linear-gradient(#02d,#02d 1%,#04e 2%,#3fb 26%,#4fa 40%,#5f9 41%,#ef1 45%,#fb0 46%,#f80 48%,#f70 51%,#f80 52%,#fb0 54%,#ef1 55%,#5f9 59%,#4fa 60%,#3fb 74%,#03e 98%,#02d 99%,#02d)"></b><b style="background:linear-gradient(#02d,#02d 1%,#05e 2%,#4fb 26%,#5fa 40%,#6f9 41%,#ef1 45%,#fb0 46%,#f80 48%,#f70 51%,#f80 52%,#fb0 54%,#ef1 55%,#6f9 59%,#5fa 60%,#4fb 76%,#06f 98%,#02d 99%,#02d)"></b><b style="background:linear-gradient(#02d,#02d 1%,#07f 2%,#4fa 25%,#5fa 40%,#6f9 41%,#ef1 45%,#fb0 46%,#f80 48%,#f70 51%,#f80 52%,#fb0 54%,#ef1 55%,#6f9 59%,#5fa 60%,#4fa 76%,#07f 98%,#02d 99%,#02d)"></b><b style="background:linear-gradient(#02d,#02d 1%,#09f 2%,#5f9 24%,#5f9 40%,#6f8 41%,#ef1 45%,#fb0 46%,#f80 48%,#f70 51%,#f80 52%,#fb0 54%,#ef1 55%,#6f8 59%,#5f9 60%,#6f9 78%,#0bf 98%,#02d 99%,#02d)"></b><b style="background:linear-gradient(#02d,#02d 1%,#09f 2%,#5f9 25%,#6f9 40%,#7f8 41%,#ef1 45%,#fb0 46%,#f80 48%,#f70 51%,#f80 52%,#fb0 54%,#ef1 55%,#7f8 59%,#6f9 60%,#5fa 74%,#07f 98%,#02d 99%,#02d)"></b><b style="background:linear-gradient(#02d,#02d 1%,#09f 2%,#5f9 25%,#6f9 40%,#7f8 41%,#ef1 45%,#fb0 46%,#f80 48%,#f70 51%,#f80 52%,#fb0 54%,#ef1 55%,#7f8 59%,#6f9 60%,#5fa 74%,#07f 98%,#02d 99%,#02d)"></b><b style="background:linear-gradient(#02d,#02d 1%,#09f 2%,#5f9 25%,#6f8 40%,#7f7 41%,#ef1 45%,#fb0 46%,#f80 48%,#f70 51%,#f80 52%,#fb0 54%,#ef1 55%,#7f7 59%,#6f8 61%,#5f9 76%,#0af 98%,#02d 99%,#02d)"></b><b style="background:linear-gradient(#02d,#02d 1%,#07f 2%,#6f9 30%,#7f8 40%,#8f7 41%,#ef1 45%,#fb0 46%,#f80 48%,#f70 51%,#f80 52%,#fb0 54%,#ef1 55%,#8f7 59%,#7f8 61%,#6f9 78%,#0bf 98%,#02d 99%,#02d)"></b><b style="background:linear-gradient(#02d,#02d 1%,#0bf 2%,#6f8 25%,#7f8 40%,#8f7 41%,#ef1 45%,#fb0 46%,#f80 48%,#f70 51%,#f80 52%,#fb0 54%,#ef1 55%,#8f7 59%,#7f8 61%,#7f7 78%,#0ef 98%,#02d 99%,#02d)"></b><b style="background:linear-gradient(#02d,#02d 1%,#0cf 2%,#7f8 24%,#7f7 40%,#8f7 41%,#ef1 45%,#fb0 46%,#f80 48%,#f70 51%,#f80 52%,#fb0 54%,#ef1 55%,#8f7 59%,#7f7 61%,#7f7 78%,#0ef 98%,#02d 99%,#02d)"></b><b style="background:linear-gradient(#02d,#02d 1%,#1ee 2%,#8f7 22%,#7f7 40%,#8f6 41%,#ef1 45%,#fb0 46%,#f80 48%,#f70 51%,#f80 52%,#fb0 54%,#ef1 55%,#8f6 59%,#7f7 61%,#8f7 78%,#0ef 98%,#02d 99%,#02d)"></b><b style="background:linear-gradient(#02d,#02d 1%,#0cf 2%,#7f8 25%,#7f7 40%,#8f6 41%,#ef1 45%,#fb0 46%,#f80 48%,#f70 51%,#f80 52%,#fb0 54%,#ef1 55%,#8f6 59%,#7f7 61%,#8f7 78%,#0ef 98%,#02d 99%,#02d)"></b><b style="background:linear-gradient(#02d,#02d 1%,#0df 2%,#7f7 25%,#8f7 40%,#8f6 41%,#ef1 45%,#fb0 46%,#f80 48%,#f70 51%,#f80 52%,#fb0 54%,#ef1 55%,#8f6 59%,#8f7 61%,#7f7 78%,#0ef 98%,#02d 99%,#02d)"></b><b style="background:linear-gradient(#02d,#02d 1%,#0df 2%,#7f7 24%,#8f7 40%,#8f6 41%,#ef1 45%,#fb0 46%,#f80 48%,#f70 51%,#f80 52%,#fb0 54%,#ef1 55%,#8f6 59%,#8f7 61%,#6f8 76%,#0cf 98%,#02d 99%,#02d)"></b><b style="background:linear-gradient(#02d,#02d 1%,#2fd 2%,#9f6 22%,#8f7 40%,#8f6 41%,#ef1 45%,#fb0 46%,#f80 48%,#f70 51%,#f80 52%,#fb0 54%,#ef1 55%,#8f6 59%,#8f7 61%,#7f8 78%,#0ef 98%,#02d 99%,#02d)"></b><b style="background:linear-gradient(#02d,#02d 1%,#1ee 2%,#8f7 22%,#8f7 40%,#8f6 41%,#ef1 45%,#fb0 46%,#f80 48%,#f70 51%,#f80 52%,#fb0 54%,#ef1 55%,#8f6 59%,#8f7 61%,#7f8 78%,#0df 98%,#02d 99%,#02d)"></b><b style="background:linear-gradient(#02d,#02d 1%,#1ee 2%,#8f7 22%,#8f7 40%,#8f6 41%,#ef1 45%,#fb0 46%,#f80 48%,#f70 51%,#f80 52%,#fb0 54%,#ef1 55%,#8f6 59%,#8f7 61%,#7f7 78%,#0ef 98%,#02d 99%,#02d)"></b><b style="background:linear-gradient(#02d,#02d 1%,#0ef 2%,#7f7 24%,#8f7 40%,#8f6 41%,#ef1 45%,#fb0 46%,#f80 48%,#f70 51%,#f80 52%,#fb0 54%,#ef1 55%,#8f6 59%,#8f7 61%,#7f8 76%,#0cf 98%,#02d 99%,#02d)"></b><b style="background:linear-gradient(#02d,#02d 1%,#0bf 2%,#7f8 26%,#8f7 40%,#8f6 41%,#ef1 45%,#fb0 46%,#f80 48%,#f70 51%,#f80 52%,#fb0 54%,#ef1 55%,#8f6 59%,#8f7 61%,#7f8 76%,#0cf 98%,#02d 99%,#02d)"></b><b style="background:linear-gradient(#02d,#02d 1%,#0cf 2%,#7f8 25%,#8f7 40%,#8f6 41%,#ef1 45%,#fb0 46%,#f80 48%,#f70 51%,#f80 52%,#fb0 54%,#ef1 55%,#8f6 59%,#8f7 61%,#6f8 76%,#0bf 98%,#02d 99%,#02d)"></b><b style="background:linear-gradient(#02d,#02d 1%,#0bf 2%,#7f8 26%,#8f7 40%,#8f6 41%,#ef1 45%,#fb0 46%,#f80 48%,#f70 51%,#f80 52%,#fb0 54%,#ef1 55%,#8f6 59%,#8f7 61%,#6f8 76%,#0bf 98%,#02d 99%,#02d)"></b><b style="background:linear-gradient(#02d,#02d 1%,#0cf 2%,#7f8 25%,#8f7 40%,#8f6 41%,#ef1 45%,#fb0 46%,#f80 48%,#f70 51%,#f80 52%,#fb0 54%,#ef1 55%,#8f6 59%,#8f7 61%,#7f8 76%,#0cf 98%,#02d 99%,#02d)"></b><b style="background:linear-gradient(#02d,#02d 1%,#0df 2%,#7f7 24%,#8f7 40%,#8f6 41%,#ef1 45%,#fb0 46%,#f80 48%,#f70 51%,#f80 52%,#fb0 54%,#ef1 55%,#8f6 59%,#8f7 61%,#7f8 76%,#0cf 98%,#02d 99%,#02d)"></b><b style="background:linear-gradient(#02d,#02d 1%,#0df 2%,#7f8 24%,#8f7 40%,#8f6 41%,#ef1 45%,#fb0 46%,#f80 48%,#f70 51%,#f80 52%,#fb0 54%,#ef1 55%,#8f6 59%,#8f7 61%,#8f7 78%,#0ef 98%,#02d 99%,#02d)"></b><b style="background:linear-gradient(#02d,#02d 1%,#2fd 2%,#9f6 22%,#8f7 40%,#8f6 41%,#ef1 45%,#fb0 46%,#f80 48%,#f70 51%,#f80 52%,#fb0 54%,#ef1 55%,#8f6 59%,#8f7 61%,#8f7 78%,#1ee 98%,#02d 99%,#02d)"></b><b style="background:linear-gradient(#02d,#02d 1%,#1ee 2%,#8f7 22%,#8f7 40%,#8f6 41%,#ef1 45%,#fb0 46%,#f80 48%,#f70 51%,#f80 52%,#fb0 54%,#ef1 55%,#8f6 59%,#8f7 61%,#9f6 78%,#2fd 98%,#02d 99%,#02d)"></b><b style="background:linear-gradient(#02d,#02d 1%,#0af 2%,#7f8 28%,#8f7 40%,#8f6 41%,#ef1 45%,#fb0 46%,#f80 48%,#f70 51%,#f80 52%,#fb0 54%,#ef1 55%,#8f6 59%,#8f7 61%,#8f6 78%,#1ed 98%,#02d 99%,#02d)"></b><b style="background:linear-gradient(#02d,#02d 1%,#08f 2%,#7f8 31%,#8f7 40%,#8f6 41%,#ef1 45%,#fb0 46%,#f80 48%,#f70 51%,#f80 52%,#fb0 54%,#ef1 55%,#8f6 59%,#8f7 61%,#7f7 78%,#0ef 98%,#02d 99%,#02d)"></b><b style="background:linear-gradient(#02d,#02d 1%,#0af 2%,#7f8 28%,#8f7 40%,#8f6 41%,#ef1 45%,#fb0 46%,#f80 48%,#f70 51%,#f80 52%,#fb0 54%,#ef1 55%,#8f6 59%,#8f7 61%,#7f8 78%,#0df 98%,#02d 99%,#02d)"></b><b style="background:linear-gradient(#02d,#02d 1%,#0ef 2%,#7f7 24%,#8f7 40%,#8f6 41%,#ef1 45%,#fb0 46%,#f80 48%,#f70 51%,#f80 52%,#fb0 54%,#ef1 55%,#8f6 59%,#8f7 61%,#6f8 76%,#0cf 98%,#02d 99%,#02d)"></b><b style="background:linear-gradient(#02d,#02d 1%,#2fc 2%,#9f5 22%,#8f7 38%,#8f7 40%,#8f6 41%,#ef1 45%,#fb0 46%,#f80 48%,#f70 51%,#f80 52%,#fb0 54%,#ef1 55%,#8f6 59%,#8f7 61%,#7f7 78%,#0ef 98%,#02d 99%,#02d)"></b><b style="background:linear-gradient(#02d,#02d 1%,#1ee 2%,#8f7 22%,#8f7 40%,#8f6 41%,#ef1 45%,#fb0 46%,#f80 48%,#f70 51%,#f80 52%,#fb0 54%,#ef1 55%,#8f6 59%,#8f7 61%,#8f7 78%,#1ee 98%,#02d 99%,#02d)"></b></div>
<div class="ft" style="left:4078.4px;width:300px;text-align:center;top:343.6px;font-size:13.6px;color:#6b6b6b;letter-spacing:1.0px;">0</div>
<div class="ft" style="left:4156.2px;width:300px;text-align:center;top:343.6px;font-size:13.6px;color:#6b6b6b;letter-spacing:1.0px;">50</div>
<div class="ft" style="left:4234.0px;width:300px;text-align:center;top:343.6px;font-size:13.6px;color:#6b6b6b;letter-spacing:1.0px;">100</div>
<div class="ft" style="left:4311.8px;width:300px;text-align:center;top:343.6px;font-size:13.6px;color:#6b6b6b;letter-spacing:1.0px;">150</div>
<div class="ft" style="left:4389.6px;width:300px;text-align:center;top:343.6px;font-size:13.6px;color:#6b6b6b;letter-spacing:1.0px;">200</div>
<div class="ft" style="left:4227.8px;width:300px;text-align:center;top:362.4px;font-size:13.6px;color:#6b6b6b;letter-spacing:1.6px;">t&nbsp; Ω/2π</div>
<div class="ft" style="left:4219.0px;top:150.3px;width:0;height:0;font-size:13.2px;color:#6b6b6b;letter-spacing:0.9px;"><div style="position:absolute;left:-150px;width:300px;text-align:center;top:-11.9px;transform-origin:150px 11.9px;transform:rotate(-90deg)">16</div></div>
<div class="ft" style="left:4219.0px;top:199.8px;width:0;height:0;font-size:13.2px;color:#6b6b6b;letter-spacing:0.9px;"><div style="position:absolute;left:-150px;width:300px;text-align:center;top:-11.9px;transform-origin:150px 11.9px;transform:rotate(-90deg)">8</div></div>
<div class="ft" style="left:4219.0px;top:245.0px;width:0;height:0;font-size:13.2px;color:#6b6b6b;letter-spacing:0.9px;"><div style="position:absolute;left:-150px;width:300px;text-align:center;top:-11.9px;transform-origin:150px 11.9px;transform:rotate(-90deg)">0</div></div>
<div class="ft" style="left:4219.0px;top:290.6px;width:0;height:0;font-size:13.2px;color:#6b6b6b;letter-spacing:0.9px;"><div style="position:absolute;left:-150px;width:300px;text-align:center;top:-11.9px;transform-origin:150px 11.9px;transform:rotate(-90deg)">−8</div></div>
<div class="ft" style="left:4219.0px;top:337.0px;width:0;height:0;font-size:13.2px;color:#6b6b6b;letter-spacing:0.9px;"><div style="position:absolute;left:-150px;width:300px;text-align:center;top:-11.9px;transform-origin:150px 11.9px;transform:rotate(-90deg)">−16</div></div>
<div class="ft" style="left:4200.7px;top:240.6px;width:0;height:0;font-size:13.2px;color:#6b6b6b;letter-spacing:0.9px;"><div style="position:absolute;left:-150px;width:300px;text-align:center;top:-11.9px;transform-origin:150px 11.9px;transform:rotate(-90deg)">z/H<sub>0</sub></div></div>
<div style="position:absolute;left:4533.1px;top:187.2px;width:6.5px;height:1.5px;background:#000"></div>
<div class="ft" style="left:4551.2px;top:188.0px;width:0;height:0;font-size:13.2px;color:#6b6b6b;letter-spacing:0.9px;"><div style="position:absolute;left:-150px;width:300px;text-align:center;top:-11.9px;transform-origin:150px 11.9px;transform:rotate(-90deg)">3</div></div>
<div style="position:absolute;left:4533.1px;top:227.0px;width:6.5px;height:1.5px;background:#000"></div>
<div class="ft" style="left:4551.2px;top:227.8px;width:0;height:0;font-size:13.2px;color:#6b6b6b;letter-spacing:0.9px;"><div style="position:absolute;left:-150px;width:300px;text-align:center;top:-11.9px;transform-origin:150px 11.9px;transform:rotate(-90deg)">2</div></div>
<div style="position:absolute;left:4533.1px;top:236.6px;width:6.5px;height:1.5px;background:#000"></div>
<div style="position:absolute;left:4533.1px;top:244.7px;width:6.5px;height:1.5px;background:#000"></div>
<div class="ft" style="left:4551.2px;top:245.5px;width:0;height:0;font-size:13.2px;color:#6b6b6b;letter-spacing:0.9px;"><div style="position:absolute;left:-150px;width:300px;text-align:center;top:-11.9px;transform-origin:150px 11.9px;transform:rotate(-90deg)">0</div></div>
<div style="position:absolute;left:4533.1px;top:252.9px;width:6.5px;height:1.5px;background:#000"></div>
<div style="position:absolute;left:4533.1px;top:262.0px;width:6.5px;height:1.5px;background:#000"></div>
<div class="ft" style="left:4551.2px;top:262.8px;width:0;height:0;font-size:13.2px;color:#6b6b6b;letter-spacing:0.9px;"><div style="position:absolute;left:-150px;width:300px;text-align:center;top:-11.9px;transform-origin:150px 11.9px;transform:rotate(-90deg)">−2</div></div>
<div style="position:absolute;left:4533.1px;top:302.3px;width:6.5px;height:1.5px;background:#000"></div>
<div class="ft" style="left:4551.2px;top:303.1px;width:0;height:0;font-size:13.2px;color:#6b6b6b;letter-spacing:0.9px;"><div style="position:absolute;left:-150px;width:300px;text-align:center;top:-11.9px;transform-origin:150px 11.9px;transform:rotate(-90deg)">−3</div></div>
<div class="ft" style="left:4574.1px;top:236.6px;width:0;height:0;font-size:12.6px;color:#6b6b6b;letter-spacing:1.0px;"><div style="position:absolute;left:-150px;width:300px;text-align:center;top:-11.4px;transform-origin:150px 11.4px;transform:rotate(-90deg)"><span style="font-size:1.3em;font-family:&quot;Liberation Serif&quot;,serif;font-style:italic">∫</span><sub>0</sub><sup style="margin-left:-2px">z</sup>dz/&lt;h(z)&gt;</div></div>
<div class="ft" style="left:4229.4px;top:383.1px;font-size:12.4px;color:#6b6b6b;letter-spacing:2.0px;"><i style="font-family:&quot;Liberation Serif&quot;,serif;font-size:1.1em">γ</i>=1.03</div>
<div class="ft" style="left:4241.2px;width:300px;text-align:center;top:380.7px;font-size:12.4px;color:#6b6b6b;letter-spacing:1.1px;">log(ρ)</div>
<div class="cb" style="left:4228.4px;top:414.5px;width:311.2px;height:10.6px;background:linear-gradient(90deg,#005 0%,#0000a0 10%,#00d 18%,#0038f0 22%,#0090ff 27%,#00f0ff 33%,#4fb 40%,#90ff68 50%,#cf3 57%,#ff0 66%,#ffc000 75%,#ff9000 82%,#f50 90%,#f10 100%)"></div>
<div class="ft" style="left:4078.4px;width:300px;text-align:center;top:403.8px;font-size:6px;color:#555;letter-spacing:0.5px;">−6</div>
<div class="ft" style="left:4122.9px;width:300px;text-align:center;top:403.8px;font-size:6px;color:#555;letter-spacing:0.5px;">−5</div>
<div class="ft" style="left:4167.3px;width:300px;text-align:center;top:403.8px;font-size:6px;color:#555;letter-spacing:0.5px;">−4</div>
<div class="ft" style="left:4211.8px;width:300px;text-align:center;top:403.8px;font-size:6px;color:#555;letter-spacing:0.5px;">−3</div>
<div class="ft" style="left:4256.2px;width:300px;text-align:center;top:403.8px;font-size:6px;color:#555;letter-spacing:0.5px;">−2</div>
<div class="ft" style="left:4300.7px;width:300px;text-align:center;top:403.8px;font-size:6px;color:#555;letter-spacing:0.5px;">−1</div>
<div class="ft" style="left:4345.1px;width:300px;text-align:center;top:403.8px;font-size:6px;color:#555;letter-spacing:0.5px;">0</div>
<div class="ft" style="left:4389.6px;width:300px;text-align:center;top:403.8px;font-size:6px;color:#555;letter-spacing:0.5px;">1</div>
<div class="hm" style="left:4228.4px;top:438.5px;width:311.2px;height:183.3px;background:#ff0"><b style="background:linear-gradient(#007,#00a 8%,#06f 18%,#08f 20%,#0df 22%,#ef1 30%,#fc0 40%,#f80 48%,#f80 52%,#fe0 65%,#ef1 70%,#0df 78%,#08f 80%,#00c 92%,#009)"></b><b style="background:linear-gradient(#007,#00a 8%,#06f 18%,#08f 20%,#0df 22%,#ef1 30%,#fc0 40%,#f80 48%,#f80 52%,#fe0 65%,#ef1 70%,#0df 78%,#08f 80%,#00c 92%,#00a)"></b><b style="background:linear-gradient(#006,#009 8%,#06f 18%,#08f 20%,#0df 22%,#ef1 30%,#fc0 40%,#f80 48%,#f80 52%,#fe0 65%,#ef1 70%,#0df 78%,#08f 80%,#01d 88%,#007 98%,#007)"></b><b style="background:linear-gradient(#005,#005 8%,#00b 12%,#06f 18%,#08f 20%,#0df 22%,#ef1 30%,#fc0 40%,#f80 48%,#f80 52%,#fe0 65%,#ef1 70%,#0df 78%,#08f 80%,#01d 88%,#008 98%,#007)"></b><b style="background:linear-gradient(#007,#00a 8%,#06f 18%,#08f 20%,#0df 22%,#ef1 30%,#fc0 40%,#f80 48%,#f80 52%,#fe0 65%,#ef1 70%,#0df 78%,#08f 80%,#03e 85%,#005 95%,#005)"></b><b style="background:linear-gradient(#006,#009 8%,#06f 18%,#08f 20%,#0df 22%,#ef1 30%,#fc0 40%,#f80 48%,#f80 52%,#fe0 65%,#ef1 70%,#0df 78%,#08f 80%,#00d 88%,#007 98%,#006)"></b><b style="background:linear-gradient(#007,#00a 8%,#06f 18%,#08f 20%,#0df 22%,#ef1 30%,#fc0 40%,#f80 48%,#f80 52%,#fe0 65%,#ef1 70%,#0df 78%,#08f 80%,#02e 85%,#007 92%,#005 95%,#005)"></b><b style="background:linear-gradient(#009,#00d 10%,#08f 20%,#0df 22%,#ef1 30%,#fc0 40%,#f80 48%,#f80 52%,#fe0 65%,#ef1 70%,#0df 78%,#08f 80%,#02d 88%,#008 98%,#008)"></b><b style="background:linear-gradient(#00a,#08f 20%,#0df 22%,#ef1 30%,#fc0 40%,#f80 48%,#f80 52%,#fe0 65%,#ef1 70%,#0df 78%,#08f 80%,#02d 88%,#008 98%,#008)"></b><b style="background:linear-gradient(#008,#00b 8%,#07f 18%,#08f 20%,#0df 22%,#ef1 30%,#fc0 40%,#f80 48%,#f80 52%,#fe0 65%,#ef1 70%,#0df 78%,#08f 80%,#00d 88%,#006 98%,#006)"></b><b style="background:linear-gradient(#008,#00b 8%,#07f 18%,#08f 20%,#0df 22%,#ef1 30%,#fc0 40%,#f80 48%,#f80 52%,#fe0 65%,#ef1 70%,#0df 78%,#08f 80%,#00c 95%,#00a)"></b><b style="background:linear-gradient(#00a,#08f 20%,#0df 22%,#ef1 30%,#fc0 40%,#f80 48%,#f80 52%,#fe0 65%,#ef1 70%,#0df 78%,#08f 80%,#01d 88%,#007 98%,#007)"></b><b style="background:linear-gradient(#008,#00b 8%,#07f 18%,#08f 20%,#0df 22%,#ef1 30%,#fc0 40%,#f80 48%,#f80 52%,#fe0 65%,#ef1 70%,#0df 78%,#08f 80%,#04e 85%,#007 95%,#006)"></b><b style="background:linear-gradient(#007,#00a 8%,#07f 18%,#09f 20%,#0ef 22%,#ef1 30%,#fc0 40%,#f80 48%,#f80 52%,#fe0 65%,#ef1 70%,#0ef 78%,#09f 80%,#01d 88%,#006 98%,#006)"></b><b style="background:linear-gradient(#007,#008 5%,#09f 18%,#0af 20%,#1ee 22%,#ef1 30%,#fc0 40%,#f80 48%,#f80 52%,#fe0 65%,#ef1 70%,#1ee 78%,#0af 80%,#03e 88%,#008 98%,#008)"></b><b style="background:linear-gradient(#009,#00c 8%,#0af 18%,#0cf 20%,#1ed 22%,#ef1 30%,#fc0 40%,#f80 48%,#f80 52%,#ff0 68%,#ef1 70%,#1ed 78%,#0cf 80%,#04e 88%,#008 98%,#008)"></b><b style="background:linear-gradient(#009,#00a 5%,#0cf 18%,#0ef 20%,#3fc 22%,#ef1 30%,#fc0 40%,#f80 48%,#f80 52%,#ff0 68%,#ef1 70%,#3fc 78%,#0ef 80%,#03e 92%,#00b)"></b><b style="background:linear-gradient(#00a,#02e 8%,#0ef 18%,#1ee 20%,#4fb 22%,#ef1 30%,#fc0 40%,#f80 48%,#f80 52%,#ff0 68%,#ef1 70%,#4fb 78%,#1ee 80%,#07f 92%,#01d)"></b><b style="background:linear-gradient(#00d,#07f 8%,#2fc 20%,#9f6 25%,#ef1 30%,#fc0 40%,#f80 48%,#f80 52%,#ff0 68%,#ef1 70%,#5fa 78%,#1ee 82%,#03e 92%,#00b 98%,#00b)"></b><b style="background:linear-gradient(#02e,#0af 8%,#4fb 20%,#9f5 25%,#ef0 30%,#fb0 40%,#f80 48%,#f80 52%,#ff0 68%,#ef0 70%,#4fb 80%,#0cf 88%,#00a 98%,#00a)"></b><b style="background:linear-gradient(#009,#00b 5%,#2fd 15%,#7f7 22%,#ff0 30%,#fb0 40%,#f80 48%,#f80 52%,#ff0 68%,#df2 72%,#5fa 80%,#0cf 90%,#00d 98%,#00c)"></b><b style="background:linear-gradient(#02d,#07f 5%,#4fb 15%,#8f6 22%,#ff0 30%,#fb0 40%,#f80 48%,#f90 55%,#ff0 68%,#df2 72%,#6f8 80%,#1ee 92%,#07f)"></b><b style="background:linear-gradient(#01d,#06f 5%,#4fa 15%,#9f5 22%,#ff0 30%,#fb0 40%,#f80 48%,#f90 55%,#ff0 68%,#ef1 72%,#6f9 82%,#1ee 92%,#08f 98%,#06f)"></b><b style="background:linear-gradient(#02e,#08f 5%,#4fb 12%,#af4 22%,#ff0 30%,#fb0 40%,#f80 48%,#f90 55%,#ff0 68%,#ef1 72%,#7f8 82%,#2fd 90%,#05e 98%,#03e)"></b><b style="background:linear-gradient(#01d,#06f 5%,#4fa 12%,#ef1 28%,#fb0 40%,#f80 48%,#f90 55%,#fe0 68%,#df2 75%,#6f8 85%,#1ee 92%,#08f 98%,#06f)"></b><b style="background:linear-gradient(#00c,#02e 5%,#6f9 15%,#ef1 28%,#fc0 38%,#f80 48%,#f90 55%,#fe0 68%,#df2 75%,#8f6 82%,#5fa 92%,#1ee 98%,#0ef)"></b><b style="background:linear-gradient(#00c,#04e 5%,#6f8 15%,#ff0 28%,#fc0 38%,#f80 48%,#f90 55%,#fe0 68%,#df1 75%,#4fa 88%,#03e 95%,#00c)"></b><b style="background:linear-gradient(#04e,#0af 5%,#6f9 12%,#ff0 28%,#fc0 38%,#f80 48%,#f90 55%,#fe0 68%,#df1 75%,#7f7 85%,#3fc 92%,#0bf 98%,#0af)"></b><b style="background:linear-gradient(#1ee,#4fb 5%,#8f7 12%,#9f6 18%,#ff0 28%,#fc0 38%,#f80 48%,#f90 55%,#fe0 68%,#df1 75%,#4fb 90%,#07f 98%,#05e)"></b><b style="background:linear-gradient(#07f,#0cf 5%,#6f9 12%,#cf3 22%,#ff0 30%,#fb0 40%,#f80 48%,#f90 55%,#fe0 68%,#df1 75%,#7f7 85%,#2fd 92%,#09f 98%,#07f)"></b><b style="background:linear-gradient(#00c,#03e 5%,#6f8 15%,#ff0 28%,#fc0 38%,#f80 48%,#f90 55%,#fe0 68%,#df1 75%,#7f7 85%,#1ed 92%,#08f 98%,#06f)"></b><b style="background:linear-gradient(#08f,#0ef 5%,#6f8 12%,#af5 20%,#ff0 28%,#fc0 38%,#f80 48%,#f90 55%,#fe0 68%,#df1 75%,#7f7 85%,#1ee 92%,#07f 98%,#06e)"></b><b style="background:linear-gradient(#03e,#09f 5%,#5f9 12%,#ff0 28%,#fc0 38%,#f80 48%,#f90 55%,#fe0 68%,#df1 75%,#7f7 85%,#2fd 92%,#09f 98%,#08f)"></b><b style="background:linear-gradient(#08f,#0df 5%,#6f8 12%,#af5 20%,#ff0 28%,#fc0 38%,#f80 48%,#f90 55%,#fe0 68%,#df1 75%,#2fd 90%,#01d 98%,#00d)"></b><b style="background:linear-gradient(#04e,#0af 5%,#6f9 12%,#ff0 28%,#fc0 38%,#f80 48%,#f90 55%,#fe0 68%,#df1 75%,#7f7 85%,#3fb 92%,#0bf 98%,#0af)"></b><b style="background:linear-gradient(#03e,#09f 5%,#5f9 12%,#ff0 28%,#fc0 38%,#f80 48%,#f90 55%,#fe0 68%,#df1 75%,#7f7 85%,#3fc 92%,#0af 98%,#09f)"></b><b style="background:linear-gradient(#03e,#09f 5%,#5f9 12%,#ff0 28%,#fc0 38%,#f80 48%,#f90 55%,#fe0 68%,#df1 75%,#7f7 85%,#3fc 92%,#0af 98%,#09f)"></b><b style="background:linear-gradient(#04e,#0af 5%,#6f9 12%,#ff0 28%,#fc0 38%,#f80 48%,#f90 55%,#fe0 68%,#df1 75%,#7f7 85%,#2fd 92%,#09f 98%,#08f)"></b><b style="background:linear-gradient(#06f,#0cf 5%,#6f9 12%,#cf3 22%,#ff0 30%,#fb0 40%,#f80 48%,#f90 55%,#fe0 68%,#df1 75%,#4fb 90%,#06f 98%,#05e)"></b><b style="background:linear-gradient(#0bf,#1ee 5%,#7f8 12%,#af5 20%,#ff0 28%,#fc0 38%,#f80 48%,#f90 55%,#fe0 68%,#df1 75%,#4fb 90%,#06f 98%,#05e)"></b><b style="background:linear-gradient(#01d,#06f 5%,#5fa 12%,#ff0 28%,#fc0 38%,#f80 48%,#f90 55%,#fe0 68%,#df1 75%,#7f7 85%,#1ee 92%,#08f 98%,#06f)"></b><b style="background:linear-gradient(#09f,#0ef 5%,#6f8 12%,#af5 20%,#ff0 28%,#fc0 38%,#f80 48%,#f90 55%,#fe0 68%,#df1 75%,#7f7 85%,#2fc 92%,#0af 98%,#08f)"></b><b style="background:linear-gradient(#09f,#0ef 5%,#6f8 12%,#af5 20%,#ff0 28%,#fc0 38%,#f80 48%,#f90 55%,#fe0 68%,#df1 75%,#7f7 85%,#2fc 92%,#0af 98%,#08f)"></b><b style="background:linear-gradient(#06f,#0cf 5%,#6f9 12%,#cf3 22%,#ff0 30%,#fb0 40%,#f80 48%,#f90 55%,#fe0 68%,#df1 75%,#4fb 90%,#06f 98%,#04e)"></b><b style="background:linear-gradient(#0cf,#2fd 5%,#7f7 12%,#af5 20%,#ff0 28%,#fc0 38%,#f80 48%,#f90 55%,#fe0 68%,#df1 75%,#3fb 90%,#06f 98%,#04e)"></b><b style="background:linear-gradient(#05e,#0bf 5%,#6f9 12%,#ff0 28%,#fc0 38%,#f80 48%,#f90 55%,#fe0 68%,#df1 75%,#3fc 90%,#04e 98%,#03e)"></b><b style="background:linear-gradient(#04e,#09f 5%,#5f9 12%,#ff0 28%,#fc0 38%,#f80 48%,#f90 55%,#fe0 68%,#df1 75%,#3fc 90%,#03e 98%,#02d)"></b><b style="background:linear-gradient(#06f,#0cf 5%,#6f9 12%,#cf3 22%,#ff0 30%,#fb0 40%,#f80 48%,#f90 55%,#fe0 68%,#df1 75%,#3fc 90%,#04e 98%,#02e)"></b><b style="background:linear-gradient(#07f,#0df 5%,#6f8 12%,#af5 20%,#ff0 28%,#fc0 38%,#f80 48%,#f90 55%,#fe0 68%,#df1 75%,#7f7 85%,#2fd 92%,#09f 98%,#07f)"></b><b style="background:linear-gradient(#09f,#0ef 5%,#7f8 12%,#af5 20%,#ff0 28%,#fc0 38%,#f80 48%,#f90 55%,#fe0 68%,#df1 75%,#2fd 90%,#02e 98%,#01d)"></b><b style="background:linear-gradient(#09f,#0ef 5%,#6f8 12%,#af5 20%,#ff0 28%,#fc0 38%,#f80 48%,#f90 55%,#fe0 68%,#df1 75%,#2fc 90%,#02e 98%,#01d)"></b><b style="background:linear-gradient(#05e,#0af 5%,#6f9 12%,#ff0 28%,#fc0 38%,#f80 48%,#f90 55%,#fe0 68%,#df1 75%,#7f7 85%,#1ee 92%,#07f 98%,#06f)"></b><b style="background:linear-gradient(#02e,#08f 5%,#5f9 12%,#ff0 28%,#fc0 38%,#f80 48%,#f90 55%,#fe0 68%,#df1 75%,#7f7 85%,#2fd 92%,#08f 98%,#07f)"></b><b style="background:linear-gradient(#0ef,#3fc 5%,#7f7 12%,#9f6 18%,#ff0 28%,#fc0 38%,#f80 48%,#f90 55%,#fe0 68%,#df1 75%,#7f7 85%,#1ed 92%,#08f 98%,#06f)"></b><b style="background:linear-gradient(#04e,#09f 5%,#5f9 12%,#ff0 28%,#fc0 38%,#f80 48%,#f90 55%,#fe0 68%,#df1 75%,#2ed 90%,#05e 95%,#00c)"></b><b style="background:linear-gradient(#06f,#0bf 5%,#6f9 12%,#cf3 22%,#ff0 30%,#fb0 40%,#f80 48%,#f90 55%,#fe0 68%,#df1 75%,#4fa 88%,#03e 95%,#00c)"></b><b style="background:linear-gradient(#06f,#0cf 5%,#6f9 12%,#cf3 22%,#ff0 30%,#fb0 40%,#f80 48%,#f90 55%,#fe0 68%,#df1 75%,#4fb 90%,#06f 98%,#05e)"></b><b style="background:linear-gradient(#00c,#03e 5%,#6f8 15%,#ff0 28%,#fc0 38%,#f80 48%,#f90 55%,#fe0 68%,#df1 75%,#9f6 82%,#6f8 90%,#0ef 98%,#0df)"></b><b style="background:linear-gradient(#01d,#07f 5%,#5fa 12%,#ff0 28%,#fc0 38%,#f80 48%,#f90 55%,#fe0 68%,#df1 75%,#7f7 85%,#3fc 92%,#0bf 98%,#0af)"></b><b style="background:linear-gradient(#06f,#0bf 5%,#6f9 12%,#cf3 22%,#ff0 30%,#fb0 40%,#f80 48%,#f90 55%,#fe0 68%,#df1 75%,#3fc 90%,#03e 98%,#02d)"></b><b style="background:linear-gradient(#0bf,#1ee 5%,#7f8 12%,#af5 20%,#ff0 28%,#fc0 38%,#f80 48%,#f90 55%,#fe0 68%,#df1 75%,#7f7 85%,#2fd 92%,#08f 98%,#07f)"></b><b style="background:linear-gradient(#07f,#0df 5%,#6f8 12%,#af5 20%,#ff0 28%,#fc0 38%,#f80 48%,#f90 55%,#fe0 68%,#df1 75%,#8f7 85%,#3fb 92%,#0cf 98%,#0bf)"></b><b style="background:linear-gradient(#09f,#0ef 5%,#6f8 12%,#af5 20%,#ff0 28%,#fc0 38%,#f80 48%,#f90 55%,#fe0 68%,#df1 75%,#4fb 90%,#07f 98%,#05e)"></b><b style="background:linear-gradient(#07f,#0cf 5%,#6f9 12%,#af5 20%,#ff0 28%,#fc0 38%,#f80 48%,#f90 55%,#fe0 68%,#df1 75%,#3fc 90%,#03e 98%,#02d)"></b><b style="background:linear-gradient(#06f,#0cf 5%,#6f9 12%,#cf3 22%,#ff0 30%,#fb0 40%,#f80 48%,#f90 55%,#fe0 68%,#df1 75%,#7f7 85%,#2fd 92%,#09f 98%,#07f)"></b><b style="background:linear-gradient(#05e,#0bf 5%,#6f9 12%,#ff0 28%,#fc0 38%,#f80 48%,#f90 55%,#fe0 68%,#df1 75%,#9f6 82%,#6f8 90%,#0ef 98%,#0df)"></b><b style="background:linear-gradient(#06f,#0bf 5%,#6f9 12%,#cf3 22%,#ff0 30%,#fb0 40%,#f80 48%,#f90 55%,#fe0 68%,#df1 75%,#3fc 90%,#03e 98%,#02e)"></b><b style="background:linear-gradient(#02d,#07f 5%,#5f9 12%,#ff0 28%,#fc0 38%,#f80 48%,#f90 55%,#fe0 68%,#df1 75%,#7f7 85%,#2fd 92%,#09f 98%,#07f)"></b><b style="background:linear-gradient(#00d,#05e 5%,#7f8 15%,#ff0 28%,#fc0 38%,#f80 48%,#f90 55%,#fe0 68%,#df1 75%,#3fb 90%,#05e 98%,#03e)"></b><b style="background:linear-gradient(#0bf,#1ee 5%,#7f8 12%,#af5 20%,#ff0 28%,#fc0 38%,#f80 48%,#f90 55%,#fe0 68%,#df1 75%,#3fb 90%,#06e 98%,#04e)"></b><b style="background:linear-gradient(#00b,#02e 5%,#6f8 15%,#ff0 28%,#fc0 38%,#f80 48%,#f90 55%,#fe0 68%,#df1 75%,#3fc 90%,#04e 98%,#02e)"></b><b style="background:linear-gradient(#02e,#08f 5%,#5f9 12%,#ff0 28%,#fc0 38%,#f80 48%,#f90 55%,#fe0 68%,#df1 75%,#9f6 82%,#6f9 90%,#0ef 98%,#0cf)"></b><b style="background:linear-gradient(#06f,#0cf 5%,#6f9 12%,#cf3 22%,#ff0 30%,#fb0 40%,#f80 48%,#f90 55%,#fe0 68%,#df1 75%,#7f7 85%,#2fd 92%,#09f 98%,#08f)"></b><b style="background:linear-gradient(#00c,#04e 5%,#7f8 15%,#ff0 28%,#fc0 38%,#f80 48%,#f90 55%,#fe0 68%,#df1 75%,#2fc 90%,#03e 98%,#01d)"></b><b style="background:linear-gradient(#09f,#0ef 5%,#7f8 12%,#af5 20%,#ff0 28%,#fc0 38%,#f80 48%,#f90 55%,#fe0 68%,#df1 75%,#3fc 90%,#04e 98%,#03e)"></b><b style="background:linear-gradient(#06f,#0cf 5%,#6f9 12%,#cf3 22%,#ff0 30%,#fb0 40%,#f80 48%,#f90 55%,#fe0 68%,#df1 75%,#3fc 90%,#04e 98%,#02e)"></b><b style="background:linear-gradient(#0af,#0ee 5%,#7f8 12%,#af5 20%,#ff0 28%,#fc0 38%,#f80 48%,#f90 55%,#fe0 68%,#df1 75%,#4fa 88%,#03e 95%,#00c)"></b><b style="background:linear-gradient(#06f,#0cf 5%,#6f9 12%,#cf3 22%,#ff0 30%,#fb0 40%,#f80 48%,#f90 55%,#fe0 68%,#df1 75%,#7f7 85%,#3fc 92%,#0bf 98%,#09f)"></b></div>
<div class="ft" style="left:4078.4px;width:300px;text-align:center;top:627.7px;font-size:13.6px;color:#6b6b6b;letter-spacing:1.0px;">0</div>
<div class="ft" style="left:4156.2px;width:300px;text-align:center;top:627.7px;font-size:13.6px;color:#6b6b6b;letter-spacing:1.0px;">50</div>
<div class="ft" style="left:4234.0px;width:300px;text-align:center;top:627.7px;font-size:13.6px;color:#6b6b6b;letter-spacing:1.0px;">100</div>
<div class="ft" style="left:4311.8px;width:300px;text-align:center;top:627.7px;font-size:13.6px;color:#6b6b6b;letter-spacing:1.0px;">150</div>
<div class="ft" style="left:4389.6px;width:300px;text-align:center;top:627.7px;font-size:13.6px;color:#6b6b6b;letter-spacing:1.0px;">200</div>
<div class="ft" style="left:4227.8px;width:300px;text-align:center;top:646.5px;font-size:13.6px;color:#6b6b6b;letter-spacing:1.6px;">t&nbsp; Ω/2π</div>
<div class="ft" style="left:4219.0px;top:529.0px;width:0;height:0;font-size:13.2px;color:#6b6b6b;letter-spacing:0.9px;"><div style="position:absolute;left:-150px;width:300px;text-align:center;top:-11.9px;transform-origin:150px 11.9px;transform:rotate(-90deg)">0</div></div>
<div class="ft" style="left:4200.7px;top:524.6px;width:0;height:0;font-size:13.2px;color:#6b6b6b;letter-spacing:0.9px;"><div style="position:absolute;left:-150px;width:300px;text-align:center;top:-11.9px;transform-origin:150px 11.9px;transform:rotate(-90deg)">z/H<sub>0</sub></div></div>
<div style="position:absolute;left:4533.1px;top:457.4px;width:6.5px;height:1.5px;background:#000"></div>
<div class="ft" style="left:4551.2px;top:458.2px;width:0;height:0;font-size:13.2px;color:#6b6b6b;letter-spacing:0.9px;"><div style="position:absolute;left:-150px;width:300px;text-align:center;top:-11.9px;transform-origin:150px 11.9px;transform:rotate(-90deg)">3</div></div>
<div style="position:absolute;left:4533.1px;top:483.8px;width:6.5px;height:1.5px;background:#000"></div>
<div class="ft" style="left:4551.2px;top:484.6px;width:0;height:0;font-size:13.2px;color:#6b6b6b;letter-spacing:0.9px;"><div style="position:absolute;left:-150px;width:300px;text-align:center;top:-11.9px;transform-origin:150px 11.9px;transform:rotate(-90deg)">2</div></div>
<div style="position:absolute;left:4533.1px;top:508.8px;width:6.5px;height:1.5px;background:#000"></div>
<div class="ft" style="left:4551.2px;top:509.6px;width:0;height:0;font-size:13.2px;color:#6b6b6b;letter-spacing:0.9px;"><div style="position:absolute;left:-150px;width:300px;text-align:center;top:-11.9px;transform-origin:150px 11.9px;transform:rotate(-90deg)">1</div></div>
<div style="position:absolute;left:4533.1px;top:528.9px;width:6.5px;height:1.5px;background:#000"></div>
<div class="ft" style="left:4551.2px;top:529.7px;width:0;height:0;font-size:13.2px;color:#6b6b6b;letter-spacing:0.9px;"><div style="position:absolute;left:-150px;width:300px;text-align:center;top:-11.9px;transform-origin:150px 11.9px;transform:rotate(-90deg)">0</div></div>
<div style="position:absolute;left:4533.1px;top:549.1px;width:6.5px;height:1.5px;background:#000"></div>
<div class="ft" style="left:4551.2px;top:549.9px;width:0;height:0;font-size:13.2px;color:#6b6b6b;letter-spacing:0.9px;"><div style="position:absolute;left:-150px;width:300px;text-align:center;top:-11.9px;transform-origin:150px 11.9px;transform:rotate(-90deg)">−1</div></div>
<div style="position:absolute;left:4533.1px;top:572.6px;width:6.5px;height:1.5px;background:#000"></div>
<div class="ft" style="left:4551.2px;top:573.4px;width:0;height:0;font-size:13.2px;color:#6b6b6b;letter-spacing:0.9px;"><div style="position:absolute;left:-150px;width:300px;text-align:center;top:-11.9px;transform-origin:150px 11.9px;transform:rotate(-90deg)">−2</div></div>
<div style="position:absolute;left:4533.1px;top:599.9px;width:6.5px;height:1.5px;background:#000"></div>
<div class="ft" style="left:4551.2px;top:600.7px;width:0;height:0;font-size:13.2px;color:#6b6b6b;letter-spacing:0.9px;"><div style="position:absolute;left:-150px;width:300px;text-align:center;top:-11.9px;transform-origin:150px 11.9px;transform:rotate(-90deg)">−3</div></div>
<div class="ft" style="left:4574.1px;top:520.6px;width:0;height:0;font-size:12.6px;color:#6b6b6b;letter-spacing:1.0px;"><div style="position:absolute;left:-150px;width:300px;text-align:center;top:-11.4px;transform-origin:150px 11.4px;transform:rotate(-90deg)"><span style="font-size:1.3em;font-family:&quot;Liberation Serif&quot;,serif;font-style:italic">∫</span><sub>0</sub><sup style="margin-left:-2px">z</sup>dz/&lt;h(z)&gt;</div></div>
<div class="ft" style="left:4229.4px;top:667.2px;font-size:12.4px;color:#6b6b6b;letter-spacing:2.0px;"><i style="font-family:&quot;Liberation Serif&quot;,serif;font-size:1.1em">γ</i>=1.0</div>
<div class="ft" style="left:4241.2px;width:300px;text-align:center;top:664.8px;font-size:12.4px;color:#6b6b6b;letter-spacing:1.1px;">log(ρ)</div>
<div class="cb" style="left:4228.4px;top:698.6px;width:311.2px;height:10.6px;background:linear-gradient(90deg,#005 0%,#0000a0 10%,#00d 18%,#0038f0 22%,#0090ff 27%,#00f0ff 33%,#4fb 40%,#90ff68 50%,#cf3 57%,#ff0 66%,#ffc000 75%,#ff9000 82%,#f50 90%,#f10 100%)"></div>
<div class="ft" style="left:4078.4px;width:300px;text-align:center;top:687.9px;font-size:6px;color:#555;letter-spacing:0.5px;">−6</div>
<div class="ft" style="left:4122.9px;width:300px;text-align:center;top:687.9px;font-size:6px;color:#555;letter-spacing:0.5px;">−5</div>
<div class="ft" style="left:4167.3px;width:300px;text-align:center;top:687.9px;font-size:6px;color:#555;letter-spacing:0.5px;">−4</div>
<div class="ft" style="left:4211.8px;width:300px;text-align:center;top:687.9px;font-size:6px;color:#555;letter-spacing:0.5px;">−3</div>
<div class="ft" style="left:4256.2px;width:300px;text-align:center;top:687.9px;font-size:6px;color:#555;letter-spacing:0.5px;">−2</div>
<div class="ft" style="left:4300.7px;width:300px;text-align:center;top:687.9px;font-size:6px;color:#555;letter-spacing:0.5px;">−1</div>
<div class="ft" style="left:4345.1px;width:300px;text-align:center;top:687.9px;font-size:6px;color:#555;letter-spacing:0.5px;">0</div>
<div class="ft" style="left:4389.6px;width:300px;text-align:center;top:687.9px;font-size:6px;color:#555;letter-spacing:0.5px;">1</div>
<div class="hm" style="left:4228.4px;top:722.6px;width:311.2px;height:183.3px;background:#ff0"><b style="background:linear-gradient(#00d,#04e 2%,#3fc 8%,#8f6 15%,#df2 22%,#fb0 35%,#f80 50%,#fd0 70%,#af4 82%,#4fb 90%,#2fd 92%,#02e 98%,#00c)"></b><b style="background:linear-gradient(#00c,#02e 2%,#2fd 8%,#8f7 15%,#df2 22%,#fb0 35%,#f80 50%,#fd0 70%,#6f9 90%,#5fa 92%,#08f 98%,#03e)"></b><b style="background:linear-gradient(#00a,#00c 2%,#0ef 8%,#8f7 15%,#cf3 20%,#fb0 35%,#f80 50%,#fd0 70%,#6f8 90%,#6f9 92%,#0af 98%,#06f)"></b><b style="background:linear-gradient(#03e,#07f 2%,#4fa 8%,#9f6 15%,#fd0 30%,#f80 50%,#fd0 70%,#af5 82%,#1ee 90%,#0cf 92%,#00b 98%,#009)"></b><b style="background:linear-gradient(#00a,#00c 2%,#0df 8%,#7f7 15%,#cf3 20%,#fb0 35%,#f80 50%,#fd0 70%,#af4 82%,#4fb 90%,#2fd 92%,#02d 98%,#00c)"></b><b style="background:linear-gradient(#00a,#00b 2%,#0df 8%,#7f7 15%,#cf3 20%,#fb0 35%,#f80 50%,#fd0 70%,#af4 82%,#3fc 90%,#1ee 92%,#00d 98%,#00b)"></b><b style="background:linear-gradient(#00d,#03e 2%,#3fc 8%,#8f6 15%,#df2 22%,#fb0 35%,#f80 50%,#fd0 70%,#af4 82%,#4fb 90%,#2fd 92%,#02e 98%,#00c)"></b><b style="background:linear-gradient(#04e,#08f 2%,#5fa 8%,#9f6 15%,#fc0 32%,#f80 50%,#fd0 70%,#af4 82%,#3fc 90%,#1ee 92%,#00d 98%,#00b)"></b><b style="background:linear-gradient(#01d,#05e 2%,#3fb 8%,#8f6 15%,#df2 22%,#fb0 35%,#f80 50%,#fd0 70%,#af4 82%,#4fb 90%,#2fd 92%,#02d 98%,#00c)"></b><b style="background:linear-gradient(#00b,#01d 2%,#1ee 8%,#8f7 15%,#df2 22%,#fb0 35%,#f80 50%,#fd0 70%,#af4 82%,#5f9 90%,#4fb 92%,#06f 98%,#02e)"></b><b style="background:linear-gradient(#00d,#03e 2%,#3fc 8%,#8f6 15%,#df2 22%,#fb0 35%,#f80 50%,#fd0 70%,#af4 82%,#4fb 90%,#2fd 92%,#02e 98%,#00c)"></b><b style="background:linear-gradient(#00d,#03e 2%,#3fc 8%,#8f6 15%,#df2 22%,#fb0 35%,#f80 50%,#fd0 70%,#af4 82%,#3fb 90%,#1ed 92%,#01d 98%,#00c)"></b><b style="background:linear-gradient(#00c,#01d 2%,#2ed 8%,#8f7 15%,#df2 22%,#fb0 35%,#f80 50%,#fd0 70%,#af4 82%,#5fa 90%,#3fb 92%,#04e 98%,#01d)"></b><b style="background:linear-gradient(#00b,#00d 2%,#1ee 8%,#8f7 15%,#cf3 20%,#fb0 35%,#f80 50%,#fd0 70%,#af4 82%,#4fa 90%,#3fc 92%,#04e 98%,#00d)"></b><b style="background:linear-gradient(#08f,#0cf 2%,#7f8 8%,#9f5 15%,#fc0 32%,#f80 50%,#fd0 70%,#9f6 85%,#4fa 92%,#07f 98%,#02e)"></b><b style="background:linear-gradient(#08f,#0cf 2%,#6f8 8%,#9f5 15%,#fc0 32%,#f80 50%,#fd0 70%,#af4 82%,#4fa 90%,#3fc 92%,#03e 98%,#00d)"></b><b style="background:linear-gradient(#00d,#04e 2%,#3fc 8%,#8f6 15%,#df2 22%,#fb0 35%,#f80 50%,#fd0 70%,#af4 82%,#5fa 90%,#4fb 92%,#05e 98%,#01d)"></b><b style="background:linear-gradient(#00b,#00c 2%,#0ef 8%,#8f7 15%,#cf3 20%,#fb0 35%,#f80 50%,#fd0 70%,#7f8 90%,#6f8 92%,#0bf 98%,#07f)"></b><b style="background:linear-gradient(#00c,#01d 2%,#2ed 8%,#8f7 15%,#df2 22%,#fb0 35%,#f80 50%,#fd0 70%,#9f6 85%,#4fa 92%,#07f 98%,#02e)"></b><b style="background:linear-gradient(#00b,#01d 2%,#1ee 8%,#8f7 15%,#df2 22%,#fb0 35%,#f80 50%,#fd0 70%,#af4 82%,#5fa 90%,#3fb 92%,#04e 98%,#01d)"></b><b style="background:linear-gradient(#00b,#01d 2%,#1ee 8%,#8f7 15%,#df2 22%,#fb0 35%,#f80 50%,#fd0 70%,#af4 82%,#3fc 90%,#1ee 92%,#01d 98%,#00b)"></b><b style="background:linear-gradient(#00c,#01d 2%,#2ed 8%,#8f7 15%,#df2 22%,#fb0 35%,#f80 50%,#fd0 70%,#af4 82%,#2fc 90%,#0ef 92%,#00c 98%,#00b)"></b><b style="background:linear-gradient(#00a,#00b 2%,#0cf 8%,#7f7 15%,#cf3 20%,#fb0 35%,#f80 50%,#fd0 70%,#af4 82%,#2fd 90%,#0ef 92%,#00c 98%,#00a)"></b><b style="background:linear-gradient(#00a,#00c 2%,#0ef 8%,#8f7 15%,#cf3 20%,#fb0 35%,#f80 50%,#fd0 70%,#8f6 88%,#7f7 92%,#0ef 98%,#0af)"></b><b style="background:linear-gradient(#02d,#05e 2%,#4fb 8%,#8f6 15%,#df2 22%,#fb0 35%,#f80 50%,#fd0 70%,#af4 82%,#3fc 90%,#1ee 92%,#01d 98%,#00b)"></b><b style="background:linear-gradient(#006,#007 2%,#04e 8%,#6f8 15%,#cf3 20%,#fb0 35%,#f80 50%,#fd0 70%,#af5 82%,#0df 90%,#08f 92%,#009 98%,#008)"></b><b style="background:linear-gradient(#008,#00a 2%,#09f 8%,#7f8 15%,#cf3 20%,#fb0 35%,#f80 50%,#fd0 70%,#af4 82%,#3fb 90%,#2ed 92%,#01d 98%,#00c)"></b><b style="background:linear-gradient(#01d,#04e 2%,#3fc 8%,#8f6 15%,#df2 22%,#fb0 35%,#f80 50%,#fd0 70%,#af4 82%,#5fa 90%,#4fb 92%,#05e 98%,#01d)"></b><b style="background:linear-gradient(#01d,#05e 2%,#3fb 8%,#8f6 15%,#df2 22%,#fb0 35%,#f80 50%,#fd0 70%,#af5 82%,#1ee 90%,#0cf 92%,#00b 98%,#009)"></b><b style="background:linear-gradient(#00c,#01d 2%,#2ed 8%,#8f7 15%,#df2 22%,#fb0 35%,#f80 50%,#fd0 70%,#9f6 88%,#8f7 92%,#0ef 98%,#0bf)"></b><b style="background:linear-gradient(#008,#00a 2%,#0af 8%,#7f8 15%,#cf3 20%,#fb0 35%,#f80 50%,#fd0 70%,#9f6 85%,#4fb 92%,#06f 98%,#02e)"></b><b style="background:linear-gradient(#06f,#0af 2%,#6f9 8%,#9f6 15%,#fc0 32%,#f80 50%,#fd0 70%,#af4 82%,#4fa 90%,#3fc 92%,#03e 98%,#00d)"></b><b style="background:linear-gradient(#01d,#05e 2%,#4fb 8%,#8f6 15%,#df2 22%,#fb0 35%,#f80 50%,#fd0 70%,#af4 82%,#4fa 90%,#3fc 92%,#03e 98%,#00d)"></b><b style="background:linear-gradient(#00d,#03e 2%,#3fc 8%,#8f6 15%,#df2 22%,#fb0 35%,#f80 50%,#fd0 70%,#af4 82%,#5fa 90%,#4fb 92%,#05e 98%,#01d)"></b><b style="background:linear-gradient(#00a,#00c 2%,#0df 8%,#7f7 15%,#cf3 20%,#fb0 35%,#f80 50%,#fd0 70%,#af4 82%,#3fc 90%,#1ee 92%,#00d 98%,#00b)"></b><b style="background:linear-gradient(#02d,#06f 2%,#4fb 8%,#9f6 15%,#df2 22%,#fb0 35%,#f80 50%,#fd0 70%,#af4 82%,#5fa 90%,#3fc 92%,#04e 98%,#01d)"></b><b style="background:linear-gradient(#0bf,#0ee 2%,#8f7 8%,#af5 15%,#fb0 35%,#f80 50%,#fd0 70%,#af4 82%,#3fc 90%,#1ee 92%,#00d 98%,#00b)"></b><b style="background:linear-gradient(#00a,#00c 2%,#0ef 8%,#8f7 15%,#cf3 20%,#fb0 35%,#f80 50%,#fd0 70%,#af4 82%,#4fa 90%,#3fc 92%,#04e 98%,#00d)"></b><b style="background:linear-gradient(#00c,#02e 2%,#2fd 8%,#8f7 15%,#df2 22%,#fb0 35%,#f80 50%,#fd0 70%,#6f8 90%,#5f9 92%,#09f 98%,#05e)"></b><b style="background:linear-gradient(#00b,#00d 2%,#1ee 8%,#8f7 15%,#cf3 20%,#fb0 35%,#f80 50%,#fd0 70%,#af4 82%,#4fb 90%,#2fd 92%,#02d 98%,#00c)"></b><b style="background:linear-gradient(#00d,#04e 2%,#3fc 8%,#8f6 15%,#df2 22%,#fb0 35%,#f80 50%,#fd0 70%,#af4 82%,#2fd 90%,#0ef 92%,#00c 98%,#00a)"></b><b style="background:linear-gradient(#02d,#06f 2%,#4fb 8%,#9f6 15%,#df2 22%,#fb0 35%,#f80 50%,#fd0 70%,#af4 82%,#2fc 90%,#0ef 92%,#00c 98%,#00b)"></b><b style="background:linear-gradient(#00d,#03e 2%,#3fc 8%,#8f6 15%,#df2 22%,#fb0 35%,#f80 50%,#fd0 70%,#af4 82%,#2fd 90%,#0ef 92%,#00c 98%,#00a)"></b><b style="background:linear-gradient(#00a,#00c 2%,#0ef 8%,#8f7 15%,#cf3 20%,#fb0 35%,#f80 50%,#fd0 70%,#af4 82%,#4fb 90%,#2fd 92%,#02d 98%,#00c)"></b><b style="background:linear-gradient(#009,#00a 2%,#0af 8%,#7f8 15%,#cf3 20%,#fb0 35%,#f80 50%,#fd0 70%,#af4 82%,#4fb 90%,#2fc 92%,#03e 98%,#00c)"></b><b style="background:linear-gradient(#00d,#04e 2%,#3fc 8%,#8f6 15%,#df2 22%,#fb0 35%,#f80 50%,#fd0 70%,#af5 82%,#1ee 90%,#0cf 92%,#00b 98%,#009)"></b><b style="background:linear-gradient(#06f,#0af 2%,#6f9 8%,#9f6 15%,#fc0 32%,#f80 50%,#fd0 70%,#6f9 90%,#5fa 92%,#08f 98%,#04e)"></b><b style="background:linear-gradient(#01d,#05e 2%,#4fb 8%,#8f6 15%,#df2 22%,#fb0 35%,#f80 50%,#fd0 70%,#6f9 90%,#5fa 92%,#08f 98%,#03e)"></b><b style="background:linear-gradient(#03e,#07f 2%,#4fa 8%,#9f6 15%,#fd0 30%,#f80 50%,#fd0 70%,#af4 82%,#3fc 90%,#1ee 92%,#00d 98%,#00b)"></b><b style="background:linear-gradient(#00c,#02e 2%,#2fd 8%,#8f7 15%,#df2 22%,#fb0 35%,#f80 50%,#fd0 70%,#af4 82%,#3fb 90%,#2ed 92%,#01d 98%,#00c)"></b><b style="background:linear-gradient(#00a,#00c 2%,#0ef 8%,#7f7 15%,#cf3 20%,#fb0 35%,#f80 50%,#fd0 70%,#af5 82%,#3fc 90%,#1ee 92%,#00d 98%,#00b)"></b><b style="background:linear-gradient(#00c,#01d 2%,#2ed 8%,#8f7 15%,#df2 22%,#fb0 35%,#f80 50%,#fd0 70%,#af5 82%,#2fd 90%,#0ef 92%,#00c 98%,#00a)"></b><b style="background:linear-gradient(#00c,#03e 2%,#3fc 8%,#8f7 15%,#df2 22%,#fb0 35%,#f80 50%,#fd0 70%,#5f9 90%,#4fa 92%,#07f 98%,#03e)"></b><b style="background:linear-gradient(#04e,#08f 2%,#5fa 8%,#8f6 15%,#fc0 32%,#f80 50%,#fc0 68%,#8f7 85%,#3fb 92%,#05e 98%,#01d)"></b><b style="background:linear-gradient(#00a,#00c 2%,#0df 8%,#7f8 15%,#bf3 20%,#fb0 35%,#f80 50%,#fc0 68%,#6f9 90%,#5fa 92%,#08f 98%,#03e)"></b><b style="background:linear-gradient(#009,#00b 2%,#0cf 8%,#7f8 15%,#bf3 20%,#fb0 35%,#f80 50%,#fc0 68%,#9f5 82%,#0df 90%,#08f 92%,#009 98%,#008)"></b><b style="background:linear-gradient(#00c,#01d 2%,#1ed 8%,#7f7 15%,#cf2 22%,#fb0 35%,#f80 50%,#fc0 68%,#9f5 82%,#0ef 90%,#0af 92%,#00a 98%,#008)"></b><b style="background:linear-gradient(#009,#00b 2%,#0bf 8%,#6f8 15%,#bf4 20%,#fb0 35%,#f80 50%,#fc0 68%,#6f9 90%,#5fa 92%,#08f 98%,#04e)"></b><b style="background:linear-gradient(#03e,#08f 2%,#5fa 8%,#8f7 15%,#fc0 32%,#f80 50%,#fc0 68%,#9f6 82%,#0bf 90%,#06f 92%,#008 98%,#007)"></b><b style="background:linear-gradient(#008,#00a 2%,#0af 8%,#6f9 15%,#bf4 20%,#fb0 35%,#f80 50%,#fc0 68%,#5fa 90%,#4fb 92%,#05e 98%,#01d)"></b><b style="background:linear-gradient(#02d,#06f 2%,#4fb 8%,#8f7 15%,#fc0 32%,#f80 50%,#fc0 68%,#7f8 85%,#1ee 92%,#01d 98%,#00c)"></b><b style="background:linear-gradient(#04e,#08f 2%,#5fa 8%,#8f7 15%,#fc0 32%,#f80 50%,#fc0 68%,#4fa 90%,#3fc 92%,#04e 98%,#01d)"></b><b style="background:linear-gradient(#00c,#02e 2%,#2fd 8%,#7f8 15%,#fc0 32%,#f80 50%,#fc0 68%,#7f8 85%,#1ee 92%,#01d 98%,#00c)"></b><b style="background:linear-gradient(#00d,#03e 2%,#3fc 8%,#7f7 15%,#fc0 32%,#f80 50%,#fc0 68%,#9f6 82%,#0ef 90%,#0bf 92%,#00b 98%,#009)"></b><b style="background:linear-gradient(#0af,#0ef 2%,#7f7 8%,#8f6 15%,#ff0 28%,#fb0 35%,#f80 50%,#fc0 68%,#9f6 82%,#0ef 90%,#0bf 92%,#00b 98%,#009)"></b><b style="background:linear-gradient(#00c,#01d 2%,#1ed 8%,#7f8 15%,#fc0 32%,#f80 50%,#fc0 68%,#9f6 82%,#0ef 90%,#0bf 92%,#00b 98%,#009)"></b><b style="background:linear-gradient(#02e,#06f 2%,#4fb 8%,#8f7 15%,#fc0 32%,#f80 50%,#fc0 68%,#9f6 82%,#0ef 90%,#0af 92%,#00a 98%,#008)"></b><b style="background:linear-gradient(#00c,#02d 2%,#2fd 8%,#7f8 15%,#fc0 32%,#f80 50%,#fc0 68%,#7f8 85%,#2fd 92%,#02d 98%,#00c)"></b><b style="background:linear-gradient(#01d,#05e 2%,#3fb 8%,#7f7 15%,#fc0 32%,#f80 50%,#fc0 68%,#9f6 82%,#2fd 90%,#0ef 92%,#00c 98%,#00b)"></b><b style="background:linear-gradient(#009,#00b 2%,#0bf 8%,#6f8 15%,#bf4 20%,#fb0 35%,#f80 50%,#fc0 68%,#7f8 88%,#5f9 92%,#09f 98%,#05e)"></b><b style="background:linear-gradient(#008,#00a 2%,#09f 8%,#6f9 15%,#bf4 20%,#fb0 35%,#f80 50%,#fc0 68%,#9f6 82%,#0df 90%,#09f 92%,#00a 98%,#008)"></b><b style="background:linear-gradient(#00a,#00c 2%,#0ef 8%,#6f8 15%,#cf3 22%,#fc0 32%,#f80 50%,#fc0 68%,#9f6 82%,#2fc 90%,#1ee 92%,#00d 98%,#00b)"></b><b style="background:linear-gradient(#00b,#00d 2%,#1ee 8%,#7f8 15%,#cf3 22%,#fc0 32%,#f80 50%,#fc0 68%,#9f6 82%,#0df 90%,#09f 92%,#00a 98%,#008)"></b><b style="background:linear-gradient(#00a,#00c 2%,#0ef 8%,#6f8 15%,#cf3 22%,#fc0 32%,#f80 50%,#fc0 68%,#9f6 82%,#0ee 90%,#0bf 92%,#00b 98%,#009)"></b><b style="background:linear-gradient(#00a,#00c 2%,#0ef 8%,#6f8 15%,#cf3 22%,#fc0 32%,#f80 50%,#fc0 68%,#7f8 85%,#2fd 92%,#02e 98%,#00c)"></b><b style="background:linear-gradient(#008,#00a 2%,#0af 8%,#6f9 15%,#bf4 20%,#fb0 35%,#f80 50%,#fc0 68%,#7f8 85%,#2fd 92%,#02e 98%,#00c)"></b><b style="background:linear-gradient(#00c,#02e 2%,#2fd 8%,#7f8 15%,#fc0 32%,#f80 50%,#fc0 68%,#9f6 82%,#2fd 90%,#0ef 92%,#00c 98%,#00b)"></b><b style="background:linear-gradient(#00c,#01d 2%,#1ed 8%,#7f8 15%,#fc0 32%,#f80 50%,#fc0 68%,#9f6 82%,#1ee 90%,#0bf 92%,#00b 98%,#009)"></b></div>
<div class="ft" style="left:4078.4px;width:300px;text-align:center;top:911.8px;font-size:13.6px;color:#6b6b6b;letter-spacing:1.0px;">0</div>
<div class="ft" style="left:4156.2px;width:300px;text-align:center;top:911.8px;font-size:13.6px;color:#6b6b6b;letter-spacing:1.0px;">50</div>
<div class="ft" style="left:4234.0px;width:300px;text-align:center;top:911.8px;font-size:13.6px;color:#6b6b6b;letter-spacing:1.0px;">100</div>
<div class="ft" style="left:4311.8px;width:300px;text-align:center;top:911.8px;font-size:13.6px;color:#6b6b6b;letter-spacing:1.0px;">150</div>
<div class="ft" style="left:4389.6px;width:300px;text-align:center;top:911.8px;font-size:13.6px;color:#6b6b6b;letter-spacing:1.0px;">200</div>
<div class="ft" style="left:4227.8px;width:300px;text-align:center;top:930.6px;font-size:13.6px;color:#6b6b6b;letter-spacing:1.6px;">t&nbsp; Ω/2π</div>
<div class="ft" style="left:4219.0px;top:813.0px;width:0;height:0;font-size:13.2px;color:#6b6b6b;letter-spacing:0.9px;"><div style="position:absolute;left:-150px;width:300px;text-align:center;top:-11.9px;transform-origin:150px 11.9px;transform:rotate(-90deg)">0</div></div>
<div class="ft" style="left:4200.7px;top:808.8px;width:0;height:0;font-size:13.2px;color:#6b6b6b;letter-spacing:0.9px;"><div style="position:absolute;left:-150px;width:300px;text-align:center;top:-11.9px;transform-origin:150px 11.9px;transform:rotate(-90deg)">z/H<sub>0</sub></div></div>
<div style="position:absolute;left:4533.1px;top:735.9px;width:6.5px;height:1.5px;background:#000"></div>
<div class="ft" style="left:4551.2px;top:736.7px;width:0;height:0;font-size:13.2px;color:#6b6b6b;letter-spacing:0.9px;"><div style="position:absolute;left:-150px;width:300px;text-align:center;top:-11.9px;transform-origin:150px 11.9px;transform:rotate(-90deg)">3</div></div>
<div style="position:absolute;left:4533.1px;top:762.0px;width:6.5px;height:1.5px;background:#000"></div>
<div class="ft" style="left:4551.2px;top:762.8px;width:0;height:0;font-size:13.2px;color:#6b6b6b;letter-spacing:0.9px;"><div style="position:absolute;left:-150px;width:300px;text-align:center;top:-11.9px;transform-origin:150px 11.9px;transform:rotate(-90deg)">2</div></div>
<div style="position:absolute;left:4533.1px;top:787.2px;width:6.5px;height:1.5px;background:#000"></div>
<div class="ft" style="left:4551.2px;top:788.0px;width:0;height:0;font-size:13.2px;color:#6b6b6b;letter-spacing:0.9px;"><div style="position:absolute;left:-150px;width:300px;text-align:center;top:-11.9px;transform-origin:150px 11.9px;transform:rotate(-90deg)">1</div></div>
<div style="position:absolute;left:4533.1px;top:811.4px;width:6.5px;height:1.5px;background:#000"></div>
<div class="ft" style="left:4551.2px;top:812.2px;width:0;height:0;font-size:13.2px;color:#6b6b6b;letter-spacing:0.9px;"><div style="position:absolute;left:-150px;width:300px;text-align:center;top:-11.9px;transform-origin:150px 11.9px;transform:rotate(-90deg)">0</div></div>
<div style="position:absolute;left:4533.1px;top:836.6px;width:6.5px;height:1.5px;background:#000"></div>
<div class="ft" style="left:4551.2px;top:837.4px;width:0;height:0;font-size:13.2px;color:#6b6b6b;letter-spacing:0.9px;"><div style="position:absolute;left:-150px;width:300px;text-align:center;top:-11.9px;transform-origin:150px 11.9px;transform:rotate(-90deg)">−1</div></div>
<div style="position:absolute;left:4533.1px;top:860.9px;width:6.5px;height:1.5px;background:#000"></div>
<div class="ft" style="left:4551.2px;top:861.7px;width:0;height:0;font-size:13.2px;color:#6b6b6b;letter-spacing:0.9px;"><div style="position:absolute;left:-150px;width:300px;text-align:center;top:-11.9px;transform-origin:150px 11.9px;transform:rotate(-90deg)">−2</div></div>
<div style="position:absolute;left:4533.1px;top:886.1px;width:6.5px;height:1.5px;background:#000"></div>
<div class="ft" style="left:4551.2px;top:886.9px;width:0;height:0;font-size:13.2px;color:#6b6b6b;letter-spacing:0.9px;"><div style="position:absolute;left:-150px;width:300px;text-align:center;top:-11.9px;transform-origin:150px 11.9px;transform:rotate(-90deg)">−3</div></div>
<div class="ft" style="left:4574.1px;top:804.8px;width:0;height:0;font-size:12.6px;color:#6b6b6b;letter-spacing:1.0px;"><div style="position:absolute;left:-150px;width:300px;text-align:center;top:-11.4px;transform-origin:150px 11.4px;transform:rotate(-90deg)"><span style="font-size:1.3em;font-family:&quot;Liberation Serif&quot;,serif;font-style:italic">∫</span><sub>0</sub><sup style="margin-left:-2px">z</sup>dz/&lt;h(z)&gt;</div></div>
<svg style="position:absolute;left:1990.8px;top:619.9px" width="272.1" height="274.5" viewBox="0 0 272.1 274.5" fill="none"><rect x="2" y="2" width="268.1" height="270.5" stroke="#333" stroke-width="1.1"></rect><path d="M2.0 2v5M2.0 272.5v-5M15.4 2v2.6M15.4 272.5v-2.6M28.8 2v5M28.8 272.5v-5M42.2 2v2.6M42.2 272.5v-2.6M55.6 2v5M55.6 272.5v-5M69.0 2v2.6M69.0 272.5v-2.6M82.4 2v5M82.4 272.5v-5M95.8 2v2.6M95.8 272.5v-2.6M109.2 2v5M109.2 272.5v-5M122.6 2v2.6M122.6 272.5v-2.6M136.0 2v5M136.0 272.5v-5M149.4 2v2.6M149.4 272.5v-2.6M162.8 2v5M162.8 272.5v-5M176.2 2v2.6M176.2 272.5v-2.6M189.6 2v5M189.6 272.5v-5M203.0 2v2.6M203.0 272.5v-2.6M216.4 2v5M216.4 272.5v-5M229.8 2v2.6M229.8 272.5v-2.6M243.2 2v5M243.2 272.5v-5M256.6 2v2.6M256.6 272.5v-2.6M270.1 2v5M270.1 272.5v-5M2 272.5h5M270.1 272.5h-5M2 260.5h2.6M270.1 260.5h-2.6M2 248.4h2.6M270.1 248.4h-2.6M2 236.4h2.6M270.1 236.4h-2.6M2 224.3h2.6M270.1 224.3h-2.6M2 212.3h5M270.1 212.3h-5M2 200.3h2.6M270.1 200.3h-2.6M2 188.2h2.6M270.1 188.2h-2.6M2 176.2h2.6M270.1 176.2h-2.6M2 164.1h2.6M270.1 164.1h-2.6M2 152.1h5M270.1 152.1h-5M2 140.1h2.6M270.1 140.1h-2.6M2 128.0h2.6M270.1 128.0h-2.6M2 116.0h2.6M270.1 116.0h-2.6M2 103.9h2.6M270.1 103.9h-2.6M2 91.9h5M270.1 91.9h-5M2 79.9h2.6M270.1 79.9h-2.6M2 67.8h2.6M270.1 67.8h-2.6M2 55.8h2.6M270.1 55.8h-2.6M2 43.7h2.6M270.1 43.7h-2.6M2 31.7h5M270.1 31.7h-5M2 19.7h2.6M270.1 19.7h-2.6M2 7.6h2.6M270.1 7.6h-2.6" stroke="#333" stroke-width="1"></path><polyline points="2.0,272.5 2.9,271.9 3.8,272.3 4.7,272.5 5.6,272.5 6.5,272.5 7.4,272.2 8.3,272.5 9.2,272.1 10.1,272.5 11.0,272.5 11.9,270.8 12.8,270.7 13.7,269.6 14.6,271.6 15.4,272.1 16.3,272.2 17.2,272.5 18.1,270.2 19.0,272.5 19.9,272.5 20.8,271.5 21.7,269.3 22.6,270.8 23.5,272.3 24.4,271.9 25.3,270.1 26.2,271.1 27.1,271.8 28.0,271.0 28.9,269.7 29.8,268.0 30.7,272.0 31.6,271.1 32.5,271.2 33.4,272.5 34.3,271.1 35.2,271.1 36.1,268.0 37.0,269.6 37.9,271.5 38.8,268.2 39.7,269.5 40.5,271.3 41.4,269.6 42.3,269.4 43.2,269.7 44.1,268.2 45.0,271.4 45.9,268.4 46.8,266.4 47.7,266.5 48.6,265.9 49.5,265.8 50.4,265.0 51.3,268.9 52.2,265.7 53.1,269.7 54.0,267.7 54.9,269.6 55.8,264.8 56.7,263.9 57.6,265.9 58.5,262.3 59.4,265.9 60.3,264.1 61.2,263.7 62.1,265.4 63.0,262.4 63.9,259.3 64.8,264.3 65.7,260.3 66.5,261.9 67.4,257.8 68.3,259.8 69.2,259.0 70.1,258.7 71.0,259.1 71.9,262.0 72.8,255.9 73.7,261.2 74.6,257.4 75.5,256.2 76.4,259.0 77.3,256.4 78.2,253.7 79.1,256.0 80.0,257.6 80.9,261.8 81.8,257.0 82.7,255.8 83.6,255.4 84.5,256.3 85.4,252.9 86.3,255.0 87.2,253.6 88.1,251.5 89.0,255.1 89.9,253.5 90.8,247.2 91.6,250.2 92.5,255.4 93.4,252.2 94.3,250.3 95.2,248.4 96.1,251.0 97.0,252.5 97.9,252.8 98.8,249.1 99.7,249.7 100.6,251.7 101.5,250.6 102.4,251.0 103.3,247.8 104.2,251.4 105.1,248.0 106.0,246.9 106.9,247.6 107.8,251.0 108.7,244.9 109.6,250.2 110.5,247.0 111.4,250.0 112.3,252.6 113.2,246.9 114.1,246.5 115.0,247.4 115.9,246.1 116.8,248.6 117.6,248.6 118.5,246.8 119.4,240.6 120.3,243.6 121.2,247.2 122.1,243.9 123.0,246.3 123.9,245.1 124.8,239.8 125.7,242.9 126.6,245.5 127.5,241.9 128.4,237.3 129.3,236.0 130.2,230.7 131.1,236.6 132.0,230.0 132.9,229.9 133.8,231.0 134.7,225.8 135.6,226.0 136.5,231.8 137.4,226.2 138.3,237.0 139.2,234.2 140.1,236.4 141.0,235.6 141.9,240.2 142.7,238.5 143.6,239.5 144.5,235.2 145.4,239.8 146.3,235.3 147.2,235.0 148.1,237.4 149.0,220.7 149.9,229.3 150.8,232.8 151.7,218.1 152.6,226.6 153.5,217.7 154.4,212.8 155.3,217.7 156.2,214.4 157.1,213.4 158.0,209.6 158.9,216.1 159.8,212.5 160.7,204.9 161.6,196.6 162.5,197.2 163.4,187.4 164.3,189.5 165.2,193.1 166.1,186.6 167.0,195.5 167.9,178.4 168.7,169.5 169.6,149.3 170.5,143.1 171.4,151.6 172.3,149.3 173.2,156.1 174.1,143.9 175.0,144.3 175.9,146.6 176.8,155.8 177.7,124.2 178.6,126.0 179.5,133.5 180.4,132.9 181.3,126.8 182.2,117.6 183.1,115.5 184.0,105.6 184.9,95.2 185.8,79.2 186.7,73.3 187.6,81.8 188.5,69.6 189.4,86.3 190.3,94.9 191.2,70.0 192.1,112.0 193.0,96.3 193.8,132.3 194.7,128.7 195.6,122.9 196.5,136.4 197.4,135.5 198.3,148.2 199.2,158.2 200.1,163.4 201.0,168.1 201.9,146.9 202.8,160.1 203.7,134.9 204.6,166.7 205.5,130.2 206.4,112.6 207.3,110.3 208.2,80.7 209.1,78.8 210.0,84.9 210.9,69.1 211.8,26.8 212.7,55.7 213.6,46.8 214.5,48.9 215.4,29.5 216.3,44.2 217.2,29.5 218.1,5.8 219.0,25.0 219.8,47.0 220.7,57.3 221.6,64.3 222.5,87.7 223.4,73.5 224.3,90.2 225.2,88.4 226.1,50.3 227.0,94.0 227.9,51.5 228.8,31.5 229.7,62.3 230.6,62.4 231.5,79.8 232.4,87.7 233.3,50.9 234.2,77.7 235.1,70.7 236.0,33.6 236.9,44.6 237.8,17.8 238.7,43.9 239.6,46.2 240.5,108.2 241.4,91.4 242.3,109.5 243.2,133.7 244.1,107.7 244.9,126.7 245.8,95.7 246.7,105.6 247.6,99.5 248.5,101.4 249.4,85.6 250.3,115.7 251.2,85.3 252.1,92.4 253.0,78.2 253.9,80.6 254.8,81.3 255.7,109.8 256.6,87.8 257.5,90.1 258.4,125.3 259.3,129.9 260.2,133.6 261.1,129.0 262.0,125.9 262.9,158.0 263.8,155.0 264.7,161.6 265.6,156.6 266.5,156.2 267.4,130.4 268.3,147.7 269.2,123.1 270.1,131.2" stroke="#2a2ad8" stroke-width="1.2" stroke-dasharray="1.2 1.8"></polyline><polyline points="2.0,272.5 2.9,272.5 3.8,272.5 4.7,269.8 5.6,272.5 6.5,272.5 7.4,271.4 8.3,270.5 9.2,271.9 10.1,268.1 11.0,270.1 11.9,269.6 12.8,271.5 13.7,269.9 14.6,269.9 15.4,272.5 16.3,268.8 17.2,272.2 18.1,268.9 19.0,271.3 19.9,264.9 20.8,267.7 21.7,266.5 22.6,266.2 23.5,270.1 24.4,271.7 25.3,267.9 26.2,265.4 27.1,266.7 28.0,265.2 28.9,264.6 29.8,269.0 30.7,265.1 31.6,261.2 32.5,266.0 33.4,268.7 34.3,264.5 35.2,264.6 36.1,262.3 37.0,264.8 37.9,262.2 38.8,267.1 39.7,259.6 40.5,257.5 41.4,257.7 42.3,264.0 43.2,258.7 44.1,266.3 45.0,257.2 45.9,257.3 46.8,259.0 47.7,254.5 48.6,254.3 49.5,251.7 50.4,254.1 51.3,253.8 52.2,260.1 53.1,257.8 54.0,255.8 54.9,253.6 55.8,254.0 56.7,246.9 57.6,252.0 58.5,247.5 59.4,243.3 60.3,242.8 61.2,237.4 62.1,239.5 63.0,228.3 63.9,233.7 64.8,224.4 65.7,227.5 66.5,217.1 67.4,230.2 68.3,217.2 69.2,220.6 70.1,216.0 71.0,209.4 71.9,222.5 72.8,222.9 73.7,220.2 74.6,211.7 75.5,224.3 76.4,205.4 77.3,207.5 78.2,199.2 79.1,192.3 80.0,187.6 80.9,196.9 81.8,197.1 82.7,194.3 83.6,195.3 84.5,213.4 85.4,195.0 86.3,190.1 87.2,181.1 88.1,172.6 89.0,182.9 89.9,190.9 90.8,202.9 91.6,198.9 92.5,198.2 93.4,193.2 94.3,197.2 95.2,175.9 96.1,160.8 97.0,146.0 97.9,158.0 98.8,164.3 99.7,167.2 100.6,165.0 101.5,169.3 102.4,155.6 103.3,144.4 104.2,138.2 105.1,122.5 106.0,133.6 106.9,115.7 107.8,123.1 108.7,114.2 109.6,94.2 110.5,109.2 111.4,133.3 112.3,106.1 113.2,109.2 114.1,117.9 115.0,110.0 115.9,98.2 116.8,103.9 117.6,140.6 118.5,123.0 119.4,122.0 120.3,151.7 121.2,139.0 122.1,140.0 123.0,138.4 123.9,160.3 124.8,146.2 125.7,130.3 126.6,128.8 127.5,123.0 128.4,149.2 129.3,124.4 130.2,142.5 131.1,168.9 132.0,150.0 132.9,165.7 133.8,151.7 134.7,144.3 135.6,113.4 136.5,116.5 137.4,119.9 138.3,98.1 139.2,104.2 140.1,110.2 141.0,90.9 141.9,120.5 142.7,128.8 143.6,132.6 144.5,140.5 145.4,114.6 146.3,62.9 147.2,109.8 148.1,113.7 149.0,146.0 149.9,149.5 150.8,128.8 151.7,140.3 152.6,148.1 153.5,120.6 154.4,113.1 155.3,93.6 156.2,77.1 157.1,58.1 158.0,44.1 158.9,70.5 159.8,80.7 160.7,99.3 161.6,124.1 162.5,103.5 163.4,115.1 164.3,86.3 165.2,89.9 166.1,89.9 167.0,111.7 167.9,137.8 168.7,104.0 169.6,106.0 170.5,146.0 171.4,128.8 172.3,119.7 173.2,151.7 174.1,115.8 175.0,137.8 175.9,143.3 176.8,107.3 177.7,117.4 178.6,126.4 179.5,100.8 180.4,139.6 181.3,97.2 182.2,142.1 183.1,137.1 184.0,147.9 184.9,140.9 185.8,138.5 186.7,160.4 187.6,137.5 188.5,142.1 189.4,139.2 190.3,132.6 191.2,144.9 192.1,144.5 193.0,125.3 193.8,141.2 194.7,128.2 195.6,139.2 196.5,156.6 197.4,161.0 198.3,139.9 199.2,120.9 200.1,117.6 201.0,122.0 201.9,86.7 202.8,121.4 203.7,113.7 204.6,94.6 205.5,65.7 206.4,95.7 207.3,121.6 208.2,109.3 209.1,119.4 210.0,127.6 210.9,154.4 211.8,163.9 212.7,158.0 213.6,159.1 214.5,151.6 215.4,151.4 216.3,182.1 217.2,182.0 218.1,179.2 219.0,182.1 219.8,177.0 220.7,176.0 221.6,171.9 222.5,155.1 223.4,164.0 224.3,168.3 225.2,169.0 226.1,158.2 227.0,153.4 227.9,157.0 228.8,116.5 229.7,114.6 230.6,124.1 231.5,133.0 232.4,144.7 233.3,138.4 234.2,106.2 235.1,162.8 236.0,139.0 236.9,137.5 237.8,149.9 238.7,160.8 239.6,155.6 240.5,180.2 241.4,168.6 242.3,164.9 243.2,190.9 244.1,191.6 244.9,186.2 245.8,182.0 246.7,182.2 247.6,187.8 248.5,195.8 249.4,196.9 250.3,183.0 251.2,178.9 252.1,189.2 253.0,175.8 253.9,170.2 254.8,160.3 255.7,177.1 256.6,158.7 257.5,171.3 258.4,158.3 259.3,149.2 260.2,125.0 261.1,101.7 262.0,141.0 262.9,141.0 263.8,138.0 264.7,167.1 265.6,131.1 266.5,144.3 267.4,93.4 268.3,91.4 269.2,100.6 270.1,116.0" stroke="#e81818" stroke-width="1.2" stroke-dasharray="6 3"></polyline><polyline points="2.0,272.5 2.7,270.0 3.3,267.9 4.0,265.1 4.7,265.6 5.4,262.4 6.0,261.1 6.7,261.3 7.4,261.0 8.0,261.9 8.7,259.2 9.4,259.2 10.1,258.9 10.7,259.2 11.4,256.5 12.1,255.4 12.7,256.1 13.4,254.7 14.1,253.5 14.8,252.4 15.4,254.0 16.1,254.0 16.8,253.7 17.5,252.2 18.1,250.5 18.8,249.1 19.5,250.8 20.1,249.1 20.8,250.5 21.5,245.5 22.2,248.0 22.8,246.5 23.5,248.5 24.2,247.6 24.8,248.3 25.5,243.6 26.2,246.1 26.9,247.1 27.5,248.6 28.2,247.9 28.9,245.5 29.5,243.2 30.2,249.3 30.9,248.2 31.6,246.7 32.2,247.6 32.9,249.6 33.6,246.1 34.2,244.6 34.9,249.2 35.6,245.6 36.3,244.0 36.9,243.9 37.6,246.7 38.3,241.1 38.9,244.6 39.6,247.3 40.3,243.6 41.0,247.8 41.6,243.6 42.3,247.9 43.0,242.9 43.7,245.0 44.3,240.6 45.0,240.7 45.7,240.5 46.3,240.6 47.0,237.5 47.7,243.7 48.4,239.6 49.0,240.7 49.7,241.4 50.4,241.8 51.0,236.9 51.7,245.4 52.4,245.0 53.1,247.3 53.7,245.6 54.4,253.3 55.1,247.6 55.7,252.6 56.4,255.2 57.1,252.9 57.8,251.1 58.4,250.2 59.1,250.4 59.8,248.6 60.4,250.0 61.1,249.8 61.8,253.4 62.5,248.4 63.1,247.2 63.8,249.6 64.5,252.2 65.1,251.0 65.8,245.0 66.5,249.2 67.2,249.1 67.8,249.2 68.5,246.1 69.2,248.3 69.9,248.8 70.5,250.0 71.2,247.1 71.9,244.9 72.5,247.0 73.2,244.9 73.9,246.2 74.6,246.2 75.2,246.0 75.9,246.2 76.6,244.1 77.2,245.1 77.9,247.2 78.6,245.7 79.3,246.0 79.9,244.8 80.6,245.3 81.3,244.7 81.9,248.5 82.6,244.6 83.3,242.7 84.0,248.2 84.6,242.2 85.3,244.8 86.0,245.8 86.6,249.1 87.3,243.2 88.0,247.4 88.7,246.4 89.3,244.3 90.0,247.5 90.7,247.4 91.3,247.7 92.0,245.6 92.7,244.2 93.4,244.6 94.0,244.6 94.7,246.1 95.4,245.1 96.1,246.7 96.7,240.9 97.4,244.3 98.1,248.5 98.7,246.3 99.4,240.4 100.1,246.4 100.8,244.1 101.4,242.0 102.1,245.0 102.8,239.4 103.4,236.1 104.1,240.0 104.8,233.5 105.5,236.7 106.1,235.3 106.8,230.2 107.5,228.4 108.1,228.9 108.8,223.0 109.5,228.6 110.2,226.5 110.8,226.9 111.5,221.0 112.2,220.6 112.8,220.7 113.5,226.4 114.2,221.7 114.9,220.4 115.5,226.5 116.2,223.8 116.9,218.9 117.6,218.4 118.2,219.5 118.9,218.3 119.6,218.7 120.2,218.9 120.9,219.4 121.6,221.6 122.3,219.3 122.9,220.0 123.6,212.2 124.3,219.7 124.9,221.5 125.6,223.1 126.3,223.6 127.0,225.0 127.6,223.5 128.3,226.1 129.0,224.6 129.6,228.6 130.3,224.1 131.0,221.0 131.7,225.7 132.3,220.1 133.0,218.3 133.7,218.7 134.3,217.7 135.0,220.9 135.7,209.0 136.4,215.9 137.0,217.5 137.7,211.5 138.4,220.7 139.0,211.7 139.7,214.2 140.4,214.2 141.1,217.4 141.7,221.4 142.4,224.2 143.1,213.6 143.8,219.9 144.4,220.0 145.1,213.2 145.8,220.4 146.4,219.1 147.1,219.1 147.8,218.8 148.5,221.7 149.1,220.1 149.8,213.1 150.5,212.9 151.1,224.0 151.8,218.8 152.5,208.9 153.2,208.7 153.8,207.9 154.5,200.6 155.2,209.9 155.8,196.2 156.5,198.7 157.2,195.1 157.9,194.5 158.5,190.1 159.2,193.1 159.9,192.6 160.5,184.8 161.2,185.7 161.9,190.7 162.6,176.4 163.2,175.7 163.9,173.5 164.6,179.2 165.2,176.8 165.9,179.5 166.6,181.6 167.3,175.2 167.9,173.6 168.6,177.0 169.3,162.8 170.0,180.2 170.6,174.9 171.3,175.6 172.0,168.4 172.6,179.4 173.3,182.7 174.0,188.4 174.7,190.7 175.3,196.1 176.0,188.7 176.7,193.6 177.3,195.1 178.0,203.0 178.7,190.1 179.4,204.2 180.0,208.6 180.7,201.4 181.4,199.7 182.0,197.2 182.7,204.4 183.4,200.0 184.1,198.8 184.7,211.5 185.4,214.0 186.1,220.2 186.7,216.6 187.4,212.6 188.1,208.8 188.8,204.4 189.4,197.9 190.1,198.9 190.8,191.3 191.4,197.3 192.1,195.2 192.8,189.1 193.5,192.4 194.1,184.5 194.8,179.1 195.5,182.2 196.2,186.2 196.8,185.6 197.5,175.0 198.2,185.3 198.8,180.6 199.5,182.1 200.2,180.2 200.9,174.7 201.5,182.6 202.2,186.6 202.9,172.0 203.5,178.8 204.2,177.2 204.9,181.8 205.6,178.8 206.2,177.4 206.9,177.9 207.6,186.6 208.2,187.9 208.9,185.3 209.6,187.1 210.3,185.4 210.9,191.0 211.6,198.2 212.3,185.0 212.9,183.1 213.6,183.5 214.3,178.4 215.0,181.9 215.6,187.4 216.3,180.6 217.0,186.3 217.6,181.0 218.3,186.6 219.0,186.6 219.7,188.5 220.3,190.2 221.0,198.0 221.7,192.0 222.4,203.1 223.0,191.9 223.7,189.7 224.4,184.7 225.0,191.8 225.7,196.2 226.4,199.8 227.1,183.9 227.7,198.5 228.4,187.9 229.1,201.8 229.7,191.5 230.4,189.0 231.1,191.5 231.8,194.0 232.4,198.3 233.1,199.5 233.8,192.3 234.4,195.6 235.1,199.0 235.8,198.4 236.5,203.9 237.1,196.7 237.8,196.3 238.5,205.1 239.1,202.2 239.8,199.1 240.5,206.3 241.2,196.5 241.8,199.2 242.5,206.7 243.2,202.5 243.8,199.4 244.5,209.9 245.2,202.1 245.9,204.5 246.5,204.2 247.2,199.9 247.9,204.0 248.6,207.1 249.2,206.6 249.9,200.4 250.6,196.6 251.2,198.0 251.9,197.4 252.6,195.7 253.3,188.7 253.9,190.8 254.6,195.2 255.3,192.0 255.9,184.0 256.6,191.0 257.3,191.7 258.0,191.9 258.6,198.2 259.3,191.5 260.0,206.4 260.6,193.0 261.3,202.6 262.0,207.6 262.7,203.3 263.3,212.7 264.0,205.2 264.7,205.4 265.3,211.4 266.0,211.7 266.7,207.9 267.4,214.7 268.0,207.0 268.7,200.4 269.4,189.9 270.1,193.5" stroke="#111" stroke-width="1.1"></polyline><path d="M15.4 38.4h51" stroke="#111" stroke-width="1.1"></path><path d="M19 55.2h47" stroke="#e81818" stroke-width="1.2" stroke-dasharray="7 4"></path><path d="M15.4 72h51" stroke="#2a2ad8" stroke-width="1.2" stroke-dasharray="1.2 2.6"></path></svg>
<div class="ft" style="left:2063.8px;top:634.4px;font-size:9.5px;color:#3a3a3a;letter-spacing:0.6px;"><i style="font-family:&quot;Liberation Serif&quot;,serif;font-size:1.15em">γ</i></div>
<div class="ft" style="left:2062.8px;top:653.4px;font-size:9.3px;color:#3a3a3a;letter-spacing:0.5px;">1.4</div>
<div class="ft" style="left:2062.8px;top:670.2px;font-size:9.3px;color:#3a3a3a;letter-spacing:0.5px;">1.03</div>
<div class="ft" style="left:2062.8px;top:687.0px;font-size:9.3px;color:#3a3a3a;letter-spacing:0.5px;">1.0</div>
<div class="ft" style="left:1842.8px;width:300px;text-align:center;top:897.0px;font-size:9.3px;color:#3a3a3a;letter-spacing:0.5px;">0</div>
<div class="ft" style="left:1869.7px;width:300px;text-align:center;top:897.0px;font-size:9.3px;color:#3a3a3a;letter-spacing:0.5px;">20</div>
<div class="ft" style="left:1896.5px;width:300px;text-align:center;top:897.0px;font-size:9.3px;color:#3a3a3a;letter-spacing:0.5px;">40</div>
<div class="ft" style="left:1923.3px;width:300px;text-align:center;top:897.0px;font-size:9.3px;color:#3a3a3a;letter-spacing:0.5px;">60</div>
<div class="ft" style="left:1950.1px;width:300px;text-align:center;top:897.0px;font-size:9.3px;color:#3a3a3a;letter-spacing:0.5px;">80</div>
<div class="ft" style="left:1976.9px;width:300px;text-align:center;top:897.0px;font-size:9.3px;color:#3a3a3a;letter-spacing:0.5px;">100</div>
<div class="ft" style="left:2003.7px;width:300px;text-align:center;top:897.0px;font-size:9.3px;color:#3a3a3a;letter-spacing:0.5px;">120</div>
<div class="ft" style="left:2030.5px;width:300px;text-align:center;top:897.0px;font-size:9.3px;color:#3a3a3a;letter-spacing:0.5px;">140</div>
<div class="ft" style="left:2057.3px;width:300px;text-align:center;top:897.0px;font-size:9.3px;color:#3a3a3a;letter-spacing:0.5px;">160</div>
<div class="ft" style="left:2084.1px;width:300px;text-align:center;top:897.0px;font-size:9.3px;color:#3a3a3a;letter-spacing:0.5px;">180</div>
<div class="ft" style="left:2110.9px;width:300px;text-align:center;top:897.0px;font-size:9.3px;color:#3a3a3a;letter-spacing:0.5px;">200</div>
<div class="ft" style="left:1974.7px;width:300px;text-align:center;top:910.5px;font-size:9.3px;color:#3a3a3a;letter-spacing:0.5px;">tΩ/2π(rot.time)</div>
<div class="ft" style="left:1985.3px;top:892.4px;width:0;height:0;font-size:9.3px;color:#3a3a3a;letter-spacing:0.5px;"><div style="position:absolute;left:-150px;width:300px;text-align:center;top:-8.4px;transform-origin:150px 8.4px;transform:rotate(-90deg)">0</div></div>
<div class="ft" style="left:1985.3px;top:832.2px;width:0;height:0;font-size:9.3px;color:#3a3a3a;letter-spacing:0.5px;"><div style="position:absolute;left:-150px;width:300px;text-align:center;top:-8.4px;transform-origin:150px 8.4px;transform:rotate(-90deg)">0.01</div></div>
<div class="ft" style="left:1985.3px;top:772.0px;width:0;height:0;font-size:9.3px;color:#3a3a3a;letter-spacing:0.5px;"><div style="position:absolute;left:-150px;width:300px;text-align:center;top:-8.4px;transform-origin:150px 8.4px;transform:rotate(-90deg)">0.02</div></div>
<div class="ft" style="left:1985.3px;top:711.8px;width:0;height:0;font-size:9.3px;color:#3a3a3a;letter-spacing:0.5px;"><div style="position:absolute;left:-150px;width:300px;text-align:center;top:-8.4px;transform-origin:150px 8.4px;transform:rotate(-90deg)">0.03</div></div>
<div class="ft" style="left:1985.3px;top:651.6px;width:0;height:0;font-size:9.3px;color:#3a3a3a;letter-spacing:0.5px;"><div style="position:absolute;left:-150px;width:300px;text-align:center;top:-8.4px;transform-origin:150px 8.4px;transform:rotate(-90deg)">0.04</div></div>
<div class="ft" style="left:1970.8px;top:757.0px;width:0;height:0;font-size:9.5px;color:#3a3a3a;letter-spacing:0.5px;"><div style="position:absolute;left:-150px;width:300px;text-align:center;top:-8.6px;transform-origin:150px 8.6px;transform:rotate(-90deg)">&lt;α&gt;<sub>x,y,z</sub></div></div>
<svg style="position:absolute;left:3261.8px;top:93.8px" width="387.5" height="387.8" viewBox="480.8 93.8 387.5 387.8"><defs><linearGradient id="rb" x1="0" y1="0" x2="0" y2="1"><stop offset="0" stop-color="#f00"></stop><stop offset=".06" stop-color="#f30"></stop><stop offset=".25" stop-color="#ff0"></stop><stop offset=".5" stop-color="#0f0"></stop><stop offset=".75" stop-color="#0ff"></stop><stop offset=".97" stop-color="#00f"></stop></linearGradient><linearGradient id="pl" x1="0" y1="0" x2="0" y2="1"><stop offset="0" stop-color="#45290c"></stop><stop offset=".12" stop-color="#60290c"></stop><stop offset=".3" stop-color="#5c2a0c"></stop><stop offset=".36" stop-color="#4a6a20"></stop><stop offset=".43" stop-color="#5a5a18"></stop><stop offset=".475" stop-color="#1a50b0"></stop><stop offset=".5" stop-color="#1030a0"></stop><stop offset=".53" stop-color="#2a6a70"></stop><stop offset=".58" stop-color="#5a4a20"></stop><stop offset=".62" stop-color="#3a6a28"></stop><stop offset=".7" stop-color="#5a2a0d"></stop><stop offset=".9" stop-color="#5c2b0d"></stop><stop offset="1" stop-color="#5a4a18"></stop></linearGradient><linearGradient id="le" x1="0" y1="0" x2="0" y2="1"><stop offset="0" stop-color="#ee3"></stop><stop offset=".25" stop-color="#f92"></stop><stop offset=".44" stop-color="#e62"></stop><stop offset=".48" stop-color="#2cf"></stop><stop offset=".52" stop-color="#14c"></stop><stop offset=".56" stop-color="#2dc"></stop><stop offset=".62" stop-color="#e72"></stop><stop offset=".9" stop-color="#f82"></stop><stop offset="1" stop-color="#dd3"></stop></linearGradient></defs><rect x="480.8" y="93.8" width="387.5" height="387.8" fill="#000"></rect><rect x="519.2" y="134.1" width="19.5" height="309.6" fill="url(#rb)"></rect><rect x="829.4" y="134.1" width="19.5" height="309.6" fill="url(#rb)"></rect><path d="M609.1 135.4L727.5 122.8V440L609.1 451.3z" fill="url(#pl)"></path><path d="M727.5 122.8L750.7 124V443.7L727.5 440z" fill="#15120c"></path><rect x="607.6" y="135.4" width="3.2" height="315.9" fill="url(#le)"></rect><path d="M640 262L752 238L735 262L655 270z" fill="#3a3" opacity=".55"></path><path d="M650 230L740 222L745 232L660 244z" fill="#283" opacity=".4"></path><path d="M640 322L742 318L735 336L660 334z" fill="#2a3" opacity=".35"></path><path d="M617 293L746 281.5L748 287L619 300z" fill="#d22" opacity=".9"></path><path d="M612 286L727 276L727 283L612 293z" fill="#13a" opacity=".8"></path><path d="M640 274L750 262L748 268L642 280z" fill="#cc3" opacity=".55"></path><path d="M609.1 135.4L727.5 122.8L750.7 124V443.7L632 455L609.1 451.3M632 455V137L750.7 124M632 137L609.1 135.4M671 131V451M710 127V447" stroke="#bbb" stroke-width=".6" fill="none" opacity=".7"></path><path d="M617 145Q627 140 638 136Q648 134 659 134Q669 130 680 124Q690 129 701 132M613 140Q624 135 636 138Q648 135 659 138Q671 141 683 139Q694 143 706 137M613 151Q627 147 641 143Q655 146 669 145Q683 143 697 145Q711 142 725 139M614 149Q627 149 639 148Q652 150 665 145Q678 140 691 144Q704 146 717 142M616 154Q630 153 643 152Q656 148 669 153Q683 145 696 143Q709 146 723 145M628 159Q643 157 657 156Q671 155 685 152Q699 148 714 153Q728 152 742 144M624 168Q634 161 644 156Q654 157 664 155Q674 159 684 161Q694 157 704 150M628 165Q642 167 655 164Q669 155 682 157Q696 158 709 154Q723 156 736 148M620 167Q631 167 643 169Q654 169 666 161Q677 159 688 162Q700 160 711 159M619 173Q633 169 648 174Q662 169 676 169Q691 171 705 168Q720 165 734 162M630 183Q642 180 654 173Q666 174 678 178Q690 171 702 162Q714 162 726 159M627 179Q642 172 657 171Q672 173 688 174Q703 172 718 172Q733 173 748 175M626 181Q640 185 654 181Q668 183 682 180Q696 176 710 172Q724 170 738 172M627 186Q638 187 650 186Q661 185 672 183Q683 178 694 176Q705 177 716 176M616 194Q633 192 650 186Q666 186 683 183Q700 182 717 179Q733 174 750 175M613 191Q626 197 640 193Q654 195 667 188Q681 189 695 190Q708 193 722 192M634 196Q644 195 655 193Q665 189 676 191Q687 193 697 194Q708 188 718 190M635 206Q644 206 654 198Q664 192 673 192Q683 189 692 191Q702 192 712 194M622 204Q635 204 647 203Q660 206 672 200Q684 207 697 204Q709 196 722 196M620 208Q634 206 649 203Q663 205 677 200Q691 203 705 197Q719 196 733 195M624 211Q636 206 647 212Q659 208 670 208Q682 205 693 200Q705 204 716 206M625 222Q637 221 649 217Q661 215 672 211Q684 209 696 212Q708 206 720 204M614 225Q627 221 640 219Q653 217 667 221Q680 217 693 218Q706 213 720 212M625 225Q635 228 645 222Q655 218 665 218Q675 217 685 218Q695 219 705 222M635 225Q649 226 663 229Q678 226 692 224Q706 224 721 223Q735 226 749 222M632 230Q644 234 657 232Q670 231 683 227Q696 221 708 221Q721 217 734 216M619 236Q632 235 645 230Q658 231 671 230Q684 230 697 231Q710 228 723 226M631 244Q643 231 654 233Q666 239 678 236Q689 231 701 232Q713 227 725 227M635 242Q650 243 664 239Q678 235 693 237Q707 235 721 233Q736 231 750 226M615 251Q627 244 639 244Q651 240 663 236Q675 236 687 238Q699 241 711 235M622 250Q636 248 649 246Q663 247 676 246Q689 244 703 243Q716 239 730 241M620 252Q631 251 642 250Q653 253 664 252Q675 248 686 247Q697 248 708 248M627 259Q637 254 648 252Q658 253 669 252Q679 252 690 251Q700 252 711 249M621 261Q632 262 643 261Q654 259 666 255Q677 253 688 254Q699 257 710 254M625 264Q635 262 644 262Q653 258 663 259Q672 260 682 259Q691 260 700 260M622 269Q637 267 651 266Q665 263 679 264Q693 263 708 262Q722 259 736 260M635 272Q645 271 654 269Q663 267 673 267Q682 266 691 264Q701 265 710 266M615 281Q627 282 639 280Q650 278 662 275Q673 275 685 274Q697 273 708 272M616 288Q630 286 644 285Q659 285 673 283Q688 281 702 279Q717 277 731 276M624 291Q637 291 649 294Q662 292 675 289Q688 288 700 287Q713 285 726 283M628 298Q642 295 656 297Q670 295 684 294Q698 292 712 292Q726 291 740 288M634 304Q643 304 653 305Q662 300 672 298Q681 298 690 297Q700 299 709 298M622 309Q637 308 652 307Q667 302 682 304Q697 304 712 302Q727 302 742 297M620 313Q634 310 648 310Q662 307 676 306Q690 305 704 306Q717 308 731 304M637 315Q647 313 656 313Q666 312 676 312Q686 313 696 310Q706 309 715 308M624 319Q635 318 646 318Q656 318 667 315Q678 316 688 315Q699 315 710 311M634 322Q648 321 663 319Q677 319 691 318Q706 317 720 315Q734 315 749 314M613 327Q626 327 639 328Q652 327 665 323Q678 323 690 323Q703 321 716 317M625 332Q636 333 648 328Q659 326 671 322Q682 327 694 327Q705 320 717 314M617 331Q629 337 640 335Q652 327 663 330Q674 329 686 331Q697 332 709 329M618 338Q634 334 649 336Q665 334 680 334Q696 335 712 329Q727 324 743 325M615 346Q626 352 637 348Q648 344 659 340Q670 339 681 345Q693 341 704 335M620 353Q637 348 653 341Q670 341 686 342Q702 340 719 334Q735 336 752 331M635 345Q649 343 662 344Q676 345 689 344Q703 353 716 349Q730 342 744 338M629 356Q638 359 648 359Q657 346 666 345Q675 342 684 342Q693 347 702 347M629 355Q644 354 659 356Q674 355 688 353Q703 355 718 350Q733 349 747 350M614 359Q627 363 640 367Q653 362 666 359Q679 361 691 361Q704 358 717 355M628 367Q638 368 647 364Q657 362 667 360Q676 359 686 358Q696 357 705 359M619 371Q629 370 639 367Q649 361 660 360Q670 363 680 362Q690 365 700 364M624 374Q638 374 652 371Q667 371 681 366Q696 365 710 368Q725 369 739 366M627 379Q639 375 651 368Q663 361 675 362Q687 368 699 373Q711 367 723 364M631 381Q643 373 654 374Q666 371 677 379Q689 379 700 372Q712 369 723 372M616 380Q628 379 639 382Q651 380 662 374Q674 376 685 373Q697 380 708 378M623 388Q635 387 646 383Q658 384 670 387Q681 386 693 381Q705 379 716 376M627 393Q642 391 656 387Q671 387 685 387Q700 383 715 381Q729 381 744 382M626 395Q638 390 650 383Q662 386 674 389Q686 388 698 386Q710 390 722 388M625 390Q638 391 652 394Q665 395 679 394Q692 399 705 402Q719 390 732 385M623 405Q634 404 645 404Q655 396 666 393Q677 392 688 394Q699 399 710 399M622 400Q634 401 645 399Q657 400 668 405Q680 399 691 399Q703 400 714 395M630 411Q640 411 651 411Q661 404 671 406Q681 408 691 404Q701 400 711 396M621 416Q636 410 650 404Q665 401 680 406Q694 410 709 407Q724 407 738 403M622 420Q637 416 652 415Q667 422 682 420Q698 413 713 405Q728 403 743 407M632 417Q647 411 662 411Q677 409 692 406Q707 401 722 401Q737 404 751 406M620 430Q632 427 644 425Q657 425 669 428Q681 423 693 414Q705 409 717 409M615 422Q627 426 639 420Q651 425 663 425Q674 426 686 423Q698 422 710 417M631 431Q645 426 658 428Q671 425 685 418Q698 415 711 422Q725 422 738 418M618 432Q630 442 643 441Q656 436 668 436Q681 431 693 427Q706 431 719 430M630 439Q642 446 654 437Q665 438 677 436Q688 438 700 440Q712 436 723 431M630 443Q644 442 658 434Q672 426 686 432Q700 432 714 433Q727 432 741 434M615 446Q629 442 644 439Q658 440 673 445Q687 439 702 441Q716 440 731 435" stroke="#c4c4c4" stroke-width="1" fill="none" opacity=".8"></path><path d="M650 190q20-25 50-18t30 22q-8 18-30 10t-15-20q10-10 25-2M640 215q30 10 60-5t45 0M660 250q8-8 16-2t-4 10q-10 2-12-8M640 375q30-12 55-2t40-8M650 400q25 12 50-4t38 6M655 422q10-14 22-2t25-10t28 4" stroke="#eee" stroke-width="1.5" fill="none" opacity=".9"></path><path d="M627 131l1 -35l-3 5m3 -5l1.5 6M639 130l5 -37l-3 5m3 -5l1.5 6M653 129l3 -29l-3 5m3 -5l1.5 6M663 128l-1 -30l-3 5m3 -5l1.5 6M673 127l8 -33l-3 5m3 -5l1.5 6M685 125l1 -32l-3 5m3 -5l1.5 6M697 124l7 -32l-3 5m3 -5l1.5 6M710 123l-1 -33l-3 5m3 -5l1.5 6M720 122l1 -32l-3 5m3 -5l1.5 6M733 121l2 -37l-3 5m3 -5l1.5 6M743 120l2 -27l-3 5m3 -5l1.5 6" stroke="#a5532a" stroke-width="1" fill="none"></path><path d="M622 451l3 19l-3 -4m3 4l2 -5M634 450l-1 19l-3 -4m3 4l2 -5M644 449l-2 22l-3 -4m3 4l2 -5M654 448l1 23l-3 -4m3 4l2 -5M667 447l-2 20l-3 -4m3 4l2 -5M676 447l-1 21l-3 -4m3 4l2 -5M686 446l-0 22l-3 -4m3 4l2 -5M697 445l2 19l-3 -4m3 4l2 -5M707 444l4 21l-3 -4m3 4l2 -5M717 443l-2 19l-3 -4m3 4l2 -5M731 442l-2 20l-3 -4m3 4l2 -5M738 442l3 24l-3 -4m3 4l2 -5" stroke="#9a9a30" stroke-width="1" fill="none"></path><g fill="#fff"><text x="514" y="136.8" text-anchor="end" font-size="6.3" font-weight="normal" font-family="Liberation Sans,sans-serif">2.00</text><text x="514" y="214.3" text-anchor="end" font-size="6.3" font-weight="normal" font-family="Liberation Sans,sans-serif">1.50</text><text x="514" y="291.7" text-anchor="end" font-size="6.3" font-weight="normal" font-family="Liberation Sans,sans-serif">1.00</text><text x="514" y="368.4" text-anchor="end" font-size="6.3" font-weight="normal" font-family="Liberation Sans,sans-serif">0.50</text><text x="514" y="445.8" text-anchor="end" font-size="6.3" font-weight="normal" font-family="Liberation Sans,sans-serif">0.00</text><text x="825" y="136.8" text-anchor="end" font-size="6.3" font-weight="normal" font-family="Liberation Sans,sans-serif">0.00</text><text x="825" y="214.3" text-anchor="end" font-size="6.3" font-weight="normal" font-family="Liberation Sans,sans-serif">-1.50</text><text x="825" y="291.7" text-anchor="end" font-size="6.3" font-weight="normal" font-family="Liberation Sans,sans-serif">-3.00</text><text x="825" y="368.4" text-anchor="end" font-size="6.3" font-weight="normal" font-family="Liberation Sans,sans-serif">-4.50</text><text x="825" y="445.8" text-anchor="end" font-size="6.3" font-weight="normal" font-family="Liberation Sans,sans-serif">-6.00</text><text x="520.5" y="115.5" text-anchor="middle" font-size="6" font-weight="bold" font-family="Liberation Serif,sans-serif">log(Temperature)</text><text x="520.5" y="123.8" text-anchor="middle" font-size="6" font-weight="bold" font-family="Liberation Serif,sans-serif">(back)</text><text x="831" y="115.5" text-anchor="middle" font-size="6" font-weight="bold" font-family="Liberation Serif,sans-serif">log(density)</text><text x="831" y="123.8" text-anchor="middle" font-size="6" font-weight="bold" font-family="Liberation Serif,sans-serif">(contour)</text><text x="593" y="136" text-anchor="end" font-size="3.2" font-weight="bold" font-family="Liberation Sans,sans-serif">16</text><text x="593" y="214.5" text-anchor="end" font-size="3.2" font-weight="bold" font-family="Liberation Sans,sans-serif">8</text><text x="593" y="292.5" text-anchor="end" font-size="3.2" font-weight="bold" font-family="Liberation Sans,sans-serif">0</text><text x="593" y="372" text-anchor="end" font-size="3.2" font-weight="bold" font-family="Liberation Sans,sans-serif">-8</text><text x="593" y="451" text-anchor="end" font-size="3.2" font-weight="bold" font-family="Liberation Sans,sans-serif">-16</text><text x="567" y="292.5" text-anchor="end" font-size="3" font-weight="bold" font-family="Liberation Sans,sans-serif">10000</text><text x="614" y="459" text-anchor="end" font-size="3" font-weight="bold" font-family="Liberation Sans,sans-serif">2.8</text><text x="632" y="464" text-anchor="middle" font-size="4.5" font-weight="normal" font-family="Liberation Sans,sans-serif">X</text><text x="668" y="461" text-anchor="middle" font-size="3.5" font-weight="normal" font-family="Liberation Sans,sans-serif">Y</text></g><path d="M595 135.4h14M595 214h14M595 292h14M595 371h14M595 450h14" stroke="#aaa" stroke-width=".5"></path></svg>
</div></body></html>
